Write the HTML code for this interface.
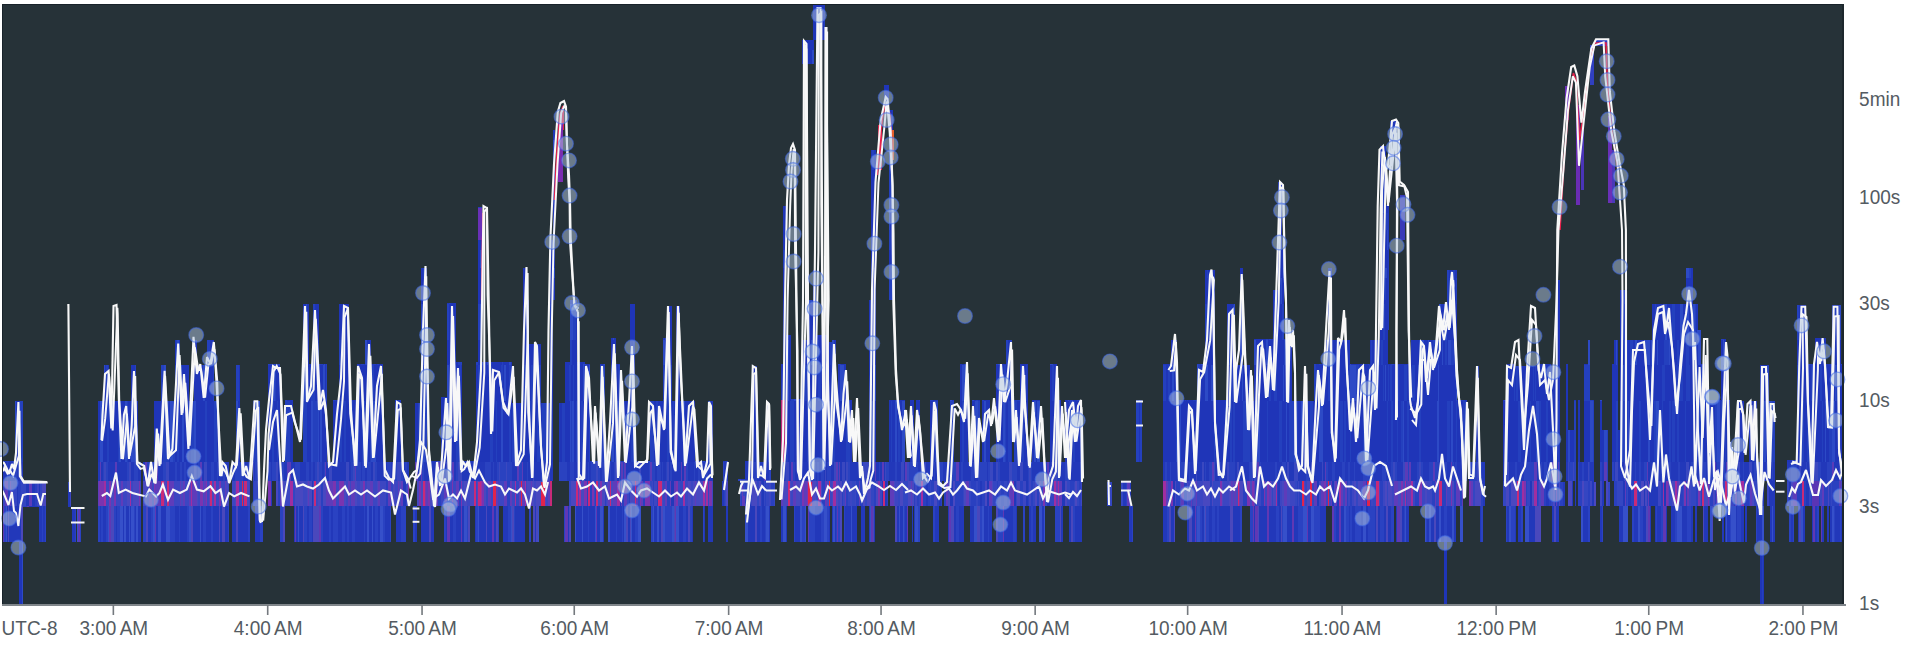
<!DOCTYPE html>
<html><head><meta charset="utf-8"><style>
html,body{margin:0;padding:0;background:#fff;width:1920px;height:648px;overflow:hidden}
svg{display:block}
.lb{font-family:"Liberation Sans",Arial,sans-serif;font-size:19px;fill:#545b62}
</style></head><body>
<svg width="1920" height="648" viewBox="0 0 1920 648">
<rect x="2" y="4" width="1842" height="600" fill="#263238"/>
<g shape-rendering="crispEdges"><path fill="#6038b4" d="M2.0 506.0h2.3v36.0h-2.3zM27.0 506.0h2.3v1.0h-2.3zM78.0 507.0h2.3v35.0h-2.3zM108.6 506.0h2.8v36.0h-2.8zM154.4 506.0h2.3v36.0h-2.3zM1648.0 506.0h2.3v36.0h-2.3zM1663.0 506.0h2.8v36.0h-2.8zM1724.5 506.0h1.3v36.0h-1.3zM1698.0 506.0h2.3v36.0h-2.3zM1721.0 506.0h1.8v36.0h-1.8zM1812.5 506.0h2.8v36.0h-2.8zM1820.0 506.0h1.8v36.0h-1.8zM1840.5 506.0h0.8v36.0h-0.8zM869.5 506.0h3.3v36.0h-3.3zM595.0 506.0h2.8v36.0h-2.8zM273.0 506.0h2.3v36.0h-2.3zM294.5 506.0h1.3v36.0h-1.3zM319.0 506.0h1.8v36.0h-1.8zM418.0 506.0h3.3v36.0h-3.3zM447.0 506.0h2.8v36.0h-2.8zM455.5 506.0h0.8v36.0h-0.8zM461.0 506.0h1.3v36.0h-1.3zM470.0 506.0h3.3v36.0h-3.3zM492.0 506.0h1.8v36.0h-1.8zM565.0 506.0h2.8v36.0h-2.8zM574.0 506.0h3.3v36.0h-3.3zM580.0 506.0h2.3v36.0h-2.3zM596.0 506.0h1.3v36.0h-1.3zM675.0 506.0h1.3v36.0h-1.3zM706.5 506.0h1.3v36.0h-1.3zM806.5 506.0h2.8v36.0h-2.8zM837.0 506.0h1.3v36.0h-1.3zM871.0 506.0h1.8v36.0h-1.8zM888.0 506.0h1.3v36.0h-1.3zM906.5 506.0h1.8v36.0h-1.8zM949.0 506.0h2.3v36.0h-2.3zM1002.5 506.0h1.8v36.0h-1.8zM1178.0 506.0h3.3v36.0h-3.3zM1181.0 506.0h3.3v36.0h-3.3zM1186.0 506.0h1.3v36.0h-1.3zM1194.5 506.0h1.3v36.0h-1.3zM1252.5 506.0h1.8v36.0h-1.8zM1255.0 506.0h2.8v36.0h-2.8zM1267.0 506.0h2.3v36.0h-2.3zM1292.0 506.0h2.3v36.0h-2.3zM1306.5 506.0h1.8v36.0h-1.8zM1332.0 506.0h2.3v36.0h-2.3zM1338.5 506.0h2.3v36.0h-2.3zM1397.0 506.0h2.8v36.0h-2.8z"/><path fill="#2a42c2" d="M4.0 506.0h2.3v36.0h-2.3zM23.0 506.0h2.3v1.0h-2.3zM25.0 506.0h2.3v1.0h-2.3zM38.0 506.0h1.3v1.0h-1.3zM41.5 506.0h1.3v36.0h-1.3zM45.0 506.0h1.3v36.0h-1.3zM74.5 507.0h1.8v35.0h-1.8zM80.0 507.0h1.3v35.0h-1.3zM97.5 506.0h2.3v36.0h-2.3zM101.0 506.0h1.8v36.0h-1.8zM106.0 506.0h2.3v36.0h-2.3zM114.1 506.0h1.8v36.0h-1.8zM117.1 506.0h3.3v36.0h-3.3zM133.7 506.0h1.8v36.0h-1.8zM143.0 506.0h2.3v36.0h-2.3zM145.0 506.0h1.3v36.0h-1.3zM150.5 506.0h2.3v36.0h-2.3zM169.5 506.0h3.3v36.0h-3.3zM172.5 506.0h2.8v36.0h-2.8zM179.0 506.0h1.3v36.0h-1.3zM187.0 506.0h1.8v36.0h-1.8zM202.5 506.0h3.3v36.0h-3.3zM211.0 506.0h2.3v36.0h-2.3zM228.0 506.0h1.3v36.0h-1.3zM247.5 506.0h1.3v36.0h-1.3zM248.5 506.0h1.3v36.0h-1.3zM260.0 506.0h3.3v36.0h-3.3zM1575.5 506.0h0.8v36.0h-0.8zM1588.0 506.0h2.3v36.0h-2.3zM1602.0 506.0h2.3v36.0h-2.3zM1604.0 506.0h2.8v36.0h-2.8zM1607.5 506.0h0.8v36.0h-0.8zM1615.0 506.0h1.8v36.0h-1.8zM1619.5 506.0h0.8v36.0h-0.8zM1631.5 506.0h2.8v36.0h-2.8zM1640.0 506.0h2.3v36.0h-2.3zM1642.0 506.0h1.3v36.0h-1.3zM1656.0 506.0h1.3v36.0h-1.3zM1661.0 506.0h2.3v36.0h-2.3zM1675.0 506.0h2.3v36.0h-2.3zM1687.0 506.0h2.3v36.0h-2.3zM1689.0 506.0h1.8v36.0h-1.8zM1705.0 506.0h2.3v36.0h-2.3zM1716.0 506.0h1.3v36.0h-1.3zM1717.0 506.0h2.3v36.0h-2.3zM1719.0 506.0h1.3v36.0h-1.3zM1720.0 506.0h1.3v36.0h-1.3zM1725.5 506.0h3.3v36.0h-3.3zM1708.5 506.0h1.8v36.0h-1.8zM1712.0 506.0h1.3v36.0h-1.3zM1722.5 506.0h1.8v36.0h-1.8zM1725.5 506.0h0.8v36.0h-0.8zM1729.0 506.0h2.3v36.0h-2.3zM1737.0 506.0h3.3v36.0h-3.3zM1740.0 506.0h1.3v36.0h-1.3zM1755.5 506.0h1.3v36.0h-1.3zM1788.0 506.0h3.3v36.0h-3.3zM1793.0 506.0h1.3v36.0h-1.3zM1806.0 506.0h2.3v36.0h-2.3zM1817.0 506.0h3.3v36.0h-3.3zM1834.0 506.0h1.3v36.0h-1.3zM1839.5 506.0h1.3v36.0h-1.3zM865.5 506.0h1.3v36.0h-1.3zM560.0 506.0h2.3v36.0h-2.3zM564.0 506.0h1.3v36.0h-1.3zM579.5 506.0h1.3v36.0h-1.3zM580.5 506.0h3.3v36.0h-3.3zM585.5 506.0h2.3v36.0h-2.3zM587.5 506.0h1.8v36.0h-1.8zM280.2 506.0h1.3v36.0h-1.3zM281.2 506.0h1.8v36.0h-1.8zM433.8 506.0h0.9v36.0h-0.9zM268.0 506.0h2.3v36.0h-2.3zM304.0 506.0h2.8v36.0h-2.8zM308.5 506.0h0.8v36.0h-0.8zM309.0 506.0h1.3v36.0h-1.3zM310.0 506.0h1.8v36.0h-1.8zM320.5 506.0h2.3v36.0h-2.3zM329.0 506.0h2.3v36.0h-2.3zM333.0 506.0h2.8v36.0h-2.8zM335.5 506.0h2.3v36.0h-2.3zM341.5 506.0h3.3v36.0h-3.3zM346.5 506.0h2.8v36.0h-2.8zM351.5 506.0h3.3v36.0h-3.3zM364.0 506.0h1.3v36.0h-1.3zM375.0 506.0h3.3v36.0h-3.3zM383.0 506.0h1.8v36.0h-1.8zM390.0 506.0h1.3v36.0h-1.3zM401.0 506.0h2.8v36.0h-2.8zM403.5 506.0h2.3v36.0h-2.3zM413.0 506.0h2.8v36.0h-2.8zM416.5 506.0h1.8v36.0h-1.8zM424.0 506.0h3.3v36.0h-3.3zM444.0 506.0h2.3v36.0h-2.3zM452.5 506.0h3.3v36.0h-3.3zM466.5 506.0h1.8v36.0h-1.8zM476.0 506.0h2.3v36.0h-2.3zM498.0 506.0h3.3v36.0h-3.3zM508.0 506.0h2.8v36.0h-2.8zM513.5 506.0h1.3v36.0h-1.3zM529.0 506.0h1.8v36.0h-1.8zM539.5 506.0h1.8v36.0h-1.8zM582.0 506.0h2.3v36.0h-2.3zM584.0 506.0h1.3v36.0h-1.3zM570.0 506.0h1.8v36.0h-1.8zM587.5 506.0h2.2v36.0h-2.2zM591.4 506.0h2.3v36.0h-2.3zM615.3 506.0h2.3v36.0h-2.3zM621.6 506.0h1.8v36.0h-1.8zM634.8 506.0h2.3v36.0h-2.3zM636.8 506.0h1.8v36.0h-1.8zM650.0 506.0h2.8v36.0h-2.8zM664.5 506.0h2.8v36.0h-2.8zM667.0 506.0h2.8v36.0h-2.8zM669.5 506.0h2.3v36.0h-2.3zM682.5 506.0h1.3v36.0h-1.3zM683.5 506.0h2.8v36.0h-2.8zM690.0 506.0h2.3v36.0h-2.3zM699.5 506.0h2.8v36.0h-2.8zM702.0 506.0h1.8v36.0h-1.8zM707.5 506.0h0.8v36.0h-0.8zM760.0 506.0h1.8v36.0h-1.8zM764.5 506.0h1.8v36.0h-1.8zM792.5 506.0h2.8v36.0h-2.8zM802.0 506.0h2.8v36.0h-2.8zM809.0 506.0h3.3v36.0h-3.3zM812.0 506.0h1.6v36.0h-1.6zM813.0 506.0h1.8v36.0h-1.8zM820.5 506.0h2.3v36.0h-2.3zM822.5 506.0h1.3v36.0h-1.3zM827.0 506.0h2.3v36.0h-2.3zM836.0 506.0h1.3v36.0h-1.3zM838.0 506.0h2.3v36.0h-2.3zM843.0 506.0h1.8v36.0h-1.8zM858.0 506.0h1.3v36.0h-1.3zM859.0 506.0h1.3v36.0h-1.3zM876.0 506.0h1.3v36.0h-1.3zM893.5 506.0h1.8v36.0h-1.8zM904.0 506.0h1.3v36.0h-1.3zM902.5 506.0h2.3v36.0h-2.3zM918.0 506.0h1.3v36.0h-1.3zM919.0 506.0h1.3v36.0h-1.3zM932.0 506.0h2.8v36.0h-2.8zM955.5 506.0h3.3v36.0h-3.3zM979.5 506.0h2.3v36.0h-2.3zM987.5 506.0h1.8v36.0h-1.8zM998.0 506.0h2.3v36.0h-2.3zM1000.0 506.0h2.8v36.0h-2.8zM1012.5 506.0h3.3v36.0h-3.3zM1022.0 506.0h3.3v36.0h-3.3zM1025.0 506.0h1.8v36.0h-1.8zM1031.0 506.0h2.3v36.0h-2.3zM1055.0 506.0h2.3v36.0h-2.3zM1057.0 506.0h2.8v36.0h-2.8zM1069.0 506.0h2.3v36.0h-2.3zM1071.0 506.0h2.3v36.0h-2.3zM1073.0 506.0h2.3v36.0h-2.3zM1072.5 506.0h2.3v36.0h-2.3zM1132.0 506.0h1.3v36.0h-1.3zM1167.0 506.0h2.3v36.0h-2.3zM1177.0 506.0h1.3v36.0h-1.3zM1195.5 506.0h1.3v36.0h-1.3zM1200.0 506.0h2.3v36.0h-2.3zM1206.0 506.0h3.3v36.0h-3.3zM1212.0 506.0h3.3v36.0h-3.3zM1217.0 506.0h2.3v36.0h-2.3zM1226.5 506.0h0.8v36.0h-0.8zM1230.0 506.0h3.3v36.0h-3.3zM1240.0 506.0h1.8v36.0h-1.8zM1241.5 506.0h1.8v36.0h-1.8zM1250.0 506.0h2.8v36.0h-2.8zM1275.5 506.0h2.3v36.0h-2.3zM1278.0 506.0h1.3v36.0h-1.3zM1282.0 506.0h1.3v36.0h-1.3zM1298.0 506.0h2.3v36.0h-2.3zM1300.0 506.0h3.3v36.0h-3.3zM1314.0 506.0h2.8v36.0h-2.8zM1316.5 506.0h3.3v36.0h-3.3zM1334.0 506.0h2.3v36.0h-2.3zM1346.0 506.0h2.8v36.0h-2.8zM1350.0 506.0h2.3v36.0h-2.3zM1354.5 506.0h3.3v36.0h-3.3zM1357.5 506.0h3.3v36.0h-3.3zM1368.0 506.0h2.3v36.0h-2.3zM1370.0 506.0h2.3v36.0h-2.3zM1372.0 506.0h2.8v36.0h-2.8zM1380.0 506.0h1.8v36.0h-1.8zM1381.5 506.0h2.8v36.0h-2.8zM1391.0 506.0h2.8v36.0h-2.8zM1393.5 506.0h2.8v36.0h-2.8zM1404.0 506.0h1.3v36.0h-1.3zM1419.0 506.0h3.3v36.0h-3.3zM1425.5 506.0h1.3v36.0h-1.3zM1443.5 506.0h3.3v36.0h-3.3zM1457.0 506.0h1.3v36.0h-1.3zM1458.0 506.0h2.3v36.0h-2.3zM1466.0 506.0h1.3v36.0h-1.3zM1481.0 506.0h1.8v36.0h-1.8zM1505.0 506.0h2.3v36.0h-2.3zM1511.0 506.0h2.8v36.0h-2.8zM1513.5 506.0h1.3v36.0h-1.3zM1521.0 506.0h2.3v36.0h-2.3zM1545.0 506.0h3.3v36.0h-3.3zM1548.0 506.0h3.3v36.0h-3.3z"/><path fill="#3650ca" d="M6.0 506.0h1.3v36.0h-1.3zM77.0 507.0h1.3v35.0h-1.3zM108.0 506.0h0.9v36.0h-0.9zM120.1 506.0h2.8v36.0h-2.8zM124.1 506.0h1.8v36.0h-1.8zM128.6 506.0h1.8v36.0h-1.8zM130.7 506.0h3.3v36.0h-3.3zM135.7 506.0h2.1v36.0h-2.1zM152.5 506.0h2.2v36.0h-2.2zM157.9 506.0h3.3v36.0h-3.3zM166.0 506.0h1.3v36.0h-1.3zM167.0 506.0h2.8v36.0h-2.8zM188.5 506.0h2.3v36.0h-2.3zM199.5 506.0h1.3v36.0h-1.3zM1580.0 506.0h2.8v36.0h-2.8zM1623.0 506.0h3.3v36.0h-3.3zM1626.0 506.0h3.3v36.0h-3.3zM1638.0 506.0h2.3v36.0h-2.3zM1652.0 506.0h2.3v36.0h-2.3zM1677.0 506.0h2.8v36.0h-2.8zM1679.5 506.0h0.8v36.0h-0.8zM1680.0 506.0h2.3v36.0h-2.3zM1708.0 506.0h2.3v36.0h-2.3zM1710.0 506.0h1.8v36.0h-1.8zM1700.0 506.0h1.3v36.0h-1.3zM1704.0 506.0h1.3v36.0h-1.3zM1710.0 506.0h2.3v36.0h-2.3zM1726.0 506.0h1.3v36.0h-1.3zM1731.0 506.0h2.8v36.0h-2.8zM1733.5 506.0h2.3v36.0h-2.3zM1762.0 506.0h2.3v36.0h-2.3zM1764.0 506.0h2.8v36.0h-2.8zM1772.0 506.0h1.3v36.0h-1.3zM1800.5 506.0h2.8v36.0h-2.8zM1808.0 506.0h1.8v36.0h-1.8zM1832.0 506.0h2.3v36.0h-2.3zM860.0 506.0h1.3v36.0h-1.3zM576.5 506.0h3.3v36.0h-3.3zM583.5 506.0h2.3v36.0h-2.3zM426.3 506.0h1.3v36.0h-1.3zM270.0 506.0h3.3v36.0h-3.3zM298.0 506.0h1.3v36.0h-1.3zM356.5 506.0h0.8v36.0h-0.8zM367.0 506.0h2.3v36.0h-2.3zM372.0 506.0h1.3v36.0h-1.3zM379.5 506.0h3.3v36.0h-3.3zM415.5 506.0h1.8v36.0h-1.8zM433.0 506.0h2.3v36.0h-2.3zM463.5 506.0h3.3v36.0h-3.3zM478.0 506.0h1.3v36.0h-1.3zM501.0 506.0h2.3v36.0h-2.3zM510.5 506.0h1.8v36.0h-1.8zM537.5 506.0h2.3v36.0h-2.3zM571.5 506.0h2.8v36.0h-2.8zM574.0 506.0h1.8v36.0h-1.8zM576.5 506.0h3.3v36.0h-3.3zM581.5 506.0h1.8v36.0h-1.8zM589.4 506.0h2.3v36.0h-2.3zM593.4 506.0h2.9v36.0h-2.9zM599.0 506.0h1.3v36.0h-1.3zM600.0 506.0h3.3v36.0h-3.3zM606.5 506.0h2.3v36.0h-2.3zM608.5 506.0h1.8v36.0h-1.8zM624.0 506.0h2.3v36.0h-2.3zM630.4 506.0h2.3v36.0h-2.3zM638.3 506.0h3.0v36.0h-3.0zM652.5 506.0h1.3v36.0h-1.3zM656.5 506.0h2.3v36.0h-2.3zM663.0 506.0h1.8v36.0h-1.8zM671.5 506.0h2.3v36.0h-2.3zM676.0 506.0h2.8v36.0h-2.8zM745.0 506.0h2.8v36.0h-2.8zM766.0 506.0h3.3v36.0h-3.3zM783.0 506.0h2.3v36.0h-2.3zM785.0 506.0h1.3v36.0h-1.3zM800.0 506.0h2.3v36.0h-2.3zM804.5 506.0h2.3v36.0h-2.3zM823.5 506.0h3.3v36.0h-3.3zM833.0 506.0h2.3v36.0h-2.3zM850.5 506.0h1.8v36.0h-1.8zM869.0 506.0h2.3v36.0h-2.3zM877.0 506.0h1.8v36.0h-1.8zM878.5 506.0h1.8v36.0h-1.8zM899.0 506.0h1.3v36.0h-1.3zM902.0 506.0h2.3v36.0h-2.3zM915.0 506.0h3.3v36.0h-3.3zM974.0 506.0h2.8v36.0h-2.8zM981.5 506.0h2.3v36.0h-2.3zM1039.0 506.0h1.8v36.0h-1.8zM1040.5 506.0h1.3v36.0h-1.3zM1043.5 506.0h1.8v36.0h-1.8zM1176.5 506.0h0.8v36.0h-0.8zM1197.0 506.0h3.3v36.0h-3.3zM1204.0 506.0h1.3v36.0h-1.3zM1233.0 506.0h1.3v36.0h-1.3zM1283.0 506.0h1.3v36.0h-1.3zM1284.0 506.0h2.8v36.0h-2.8zM1303.0 506.0h1.8v36.0h-1.8zM1304.5 506.0h2.3v36.0h-2.3zM1311.0 506.0h2.3v36.0h-2.3zM1313.0 506.0h1.3v36.0h-1.3zM1343.5 506.0h2.8v36.0h-2.8zM1363.0 506.0h2.8v36.0h-2.8zM1405.0 506.0h1.3v36.0h-1.3zM1423.0 506.0h2.8v36.0h-2.8zM1429.0 506.0h1.8v36.0h-1.8zM1439.0 506.0h1.8v36.0h-1.8zM1451.5 506.0h2.3v36.0h-2.3zM1460.0 506.0h3.3v36.0h-3.3zM1503.0 506.0h2.3v36.0h-2.3zM1509.0 506.0h2.3v36.0h-2.3zM1523.0 506.0h2.3v36.0h-2.3zM1525.0 506.0h2.3v36.0h-2.3zM1527.0 506.0h2.3v36.0h-2.3zM1542.5 506.0h1.8v36.0h-1.8zM1544.0 506.0h1.3v36.0h-1.3zM1557.0 506.0h2.8v36.0h-2.8z"/><path fill="#2238ba" d="M7.0 506.0h1.3v36.0h-1.3zM9.0 506.0h1.8v36.0h-1.8zM10.5 506.0h2.3v36.0h-2.3zM12.5 506.0h1.8v36.0h-1.8zM14.0 506.0h1.3v36.0h-1.3zM3.0 462.0h3.3v19.0h-3.3zM6.0 462.0h1.3v19.0h-1.3zM8.0 462.0h2.8v19.0h-2.8zM10.5 462.0h3.3v19.0h-3.3zM13.5 462.0h1.8v19.0h-1.8zM15.0 506.0h1.3v36.0h-1.3zM16.0 506.0h2.3v36.0h-2.3zM18.0 506.0h1.3v36.0h-1.3zM17.0 481.0h1.3v25.0h-1.3zM17.0 462.0h2.3v19.0h-2.3zM19.0 506.0h2.3v36.0h-2.3zM19.0 462.0h1.8v19.0h-1.8zM20.5 462.0h2.3v19.0h-2.3zM22.5 462.0h0.8v19.0h-0.8zM29.0 506.0h1.8v1.0h-1.8zM30.5 506.0h1.8v1.0h-1.8zM32.0 506.0h1.8v1.0h-1.8zM33.5 506.0h2.8v1.0h-2.8zM36.0 506.0h2.3v1.0h-2.3zM25.5 481.0h3.3v25.0h-3.3zM31.5 481.0h3.3v25.0h-3.3zM39.0 506.0h2.8v36.0h-2.8zM42.5 506.0h2.8v36.0h-2.8zM39.0 481.0h1.3v25.0h-1.3zM68.0 506.0h2.3v1.0h-2.3zM70.0 506.0h1.3v1.0h-1.3zM68.0 482.0h2.3v24.0h-2.3zM72.0 507.0h2.8v35.0h-2.8zM99.5 506.0h1.8v36.0h-1.8zM102.5 506.0h1.3v36.0h-1.3zM97.5 462.0h2.3v19.0h-2.3zM100.5 462.0h2.3v19.0h-2.3zM103.5 506.0h1.3v36.0h-1.3zM104.5 506.0h1.8v36.0h-1.8zM107.5 462.0h1.4v19.0h-1.4zM115.6 506.0h1.8v36.0h-1.8zM122.6 506.0h1.8v36.0h-1.8zM125.6 506.0h1.8v36.0h-1.8zM127.1 506.0h1.8v36.0h-1.8zM130.1 506.0h0.9v36.0h-0.9zM108.6 462.0h1.8v19.0h-1.8zM110.1 462.0h1.3v19.0h-1.3zM111.1 462.0h2.8v19.0h-2.8zM113.6 462.0h1.3v19.0h-1.3zM117.1 462.0h2.8v19.0h-2.8zM119.6 462.0h3.3v19.0h-3.3zM122.6 462.0h2.8v19.0h-2.8zM125.1 462.0h2.3v19.0h-2.3zM135.2 506.0h0.8v36.0h-0.8zM130.7 462.0h2.3v19.0h-2.3zM132.7 462.0h1.3v19.0h-1.3zM137.5 506.0h2.3v36.0h-2.3zM139.5 506.0h1.8v36.0h-1.8zM137.5 462.0h2.3v19.0h-2.3zM139.5 462.0h1.8v19.0h-1.8zM147.5 506.0h1.8v36.0h-1.8zM149.0 506.0h1.8v36.0h-1.8zM143.0 462.0h2.3v19.0h-2.3zM149.0 462.0h1.8v19.0h-1.8zM153.5 462.0h1.2v19.0h-1.2zM156.4 506.0h1.8v36.0h-1.8zM160.9 506.0h0.4v36.0h-0.4zM154.4 462.0h2.8v19.0h-2.8zM157.9 462.0h2.3v19.0h-2.3zM159.9 462.0h1.4v19.0h-1.4zM161.0 506.0h2.8v36.0h-2.8zM163.5 506.0h1.3v36.0h-1.3zM164.5 506.0h1.8v36.0h-1.8zM161.0 462.0h2.3v19.0h-2.3zM169.0 462.0h2.8v19.0h-2.8zM171.5 462.0h2.8v19.0h-2.8zM174.0 462.0h1.3v19.0h-1.3zM175.0 506.0h1.3v36.0h-1.3zM176.0 506.0h3.3v36.0h-3.3zM177.0 462.0h1.8v19.0h-1.8zM178.5 462.0h1.3v19.0h-1.3zM179.5 462.0h0.8v19.0h-0.8zM180.0 506.0h1.8v36.0h-1.8zM181.5 506.0h1.3v36.0h-1.3zM182.5 506.0h2.8v36.0h-2.8zM185.0 506.0h2.3v36.0h-2.3zM182.0 462.0h2.3v19.0h-2.3zM185.5 462.0h3.3v19.0h-3.3zM192.5 506.0h1.3v36.0h-1.3zM188.5 462.0h2.3v19.0h-2.3zM190.5 462.0h2.8v19.0h-2.8zM193.0 462.0h0.8v19.0h-0.8zM193.5 506.0h3.3v36.0h-3.3zM196.5 506.0h0.8v36.0h-0.8zM197.0 506.0h2.8v36.0h-2.8zM200.5 506.0h2.3v36.0h-2.3zM205.5 506.0h1.8v36.0h-1.8zM197.0 462.0h1.3v19.0h-1.3zM202.0 462.0h2.3v19.0h-2.3zM207.0 506.0h3.3v36.0h-3.3zM210.0 506.0h1.3v36.0h-1.3zM213.0 506.0h1.3v36.0h-1.3zM207.0 462.0h3.3v19.0h-3.3zM210.0 462.0h1.3v19.0h-1.3zM214.0 506.0h1.8v36.0h-1.8zM215.5 506.0h2.3v36.0h-2.3zM217.5 506.0h1.8v36.0h-1.8zM214.0 462.0h2.8v19.0h-2.8zM217.5 462.0h1.8v19.0h-1.8zM220.0 506.0h2.3v36.0h-2.3zM225.0 506.0h3.3v36.0h-3.3zM219.0 462.0h1.8v19.0h-1.8zM220.5 462.0h2.3v19.0h-2.3zM224.5 462.0h2.3v19.0h-2.3zM226.5 462.0h2.3v19.0h-2.3zM232.0 506.0h1.3v36.0h-1.3zM233.0 506.0h2.3v36.0h-2.3zM235.0 506.0h1.3v36.0h-1.3zM232.0 462.0h2.8v19.0h-2.8zM238.0 506.0h2.3v36.0h-2.3zM240.0 506.0h2.3v36.0h-2.3zM242.0 506.0h2.8v36.0h-2.8zM244.5 506.0h1.8v36.0h-1.8zM246.0 506.0h1.8v36.0h-1.8zM243.0 462.0h2.3v19.0h-2.3zM245.0 462.0h2.8v19.0h-2.8zM253.0 506.0h1.8v36.0h-1.8zM254.5 506.0h1.8v36.0h-1.8zM256.0 506.0h1.8v36.0h-1.8zM257.5 506.0h2.8v36.0h-2.8zM258.5 481.0h1.8v25.0h-1.8zM254.0 462.0h1.8v19.0h-1.8zM257.0 462.0h2.8v19.0h-2.8zM259.5 462.0h0.8v19.0h-0.8zM1562.5 482.0h2.8v24.0h-2.8zM1565.0 482.0h1.3v24.0h-1.3zM1566.0 506.0h2.3v36.0h-2.3zM1566.0 462.0h2.3v19.0h-2.3zM1572.0 481.0h2.3v25.0h-2.3zM1574.0 506.0h1.8v36.0h-1.8zM1574.0 481.0h2.3v25.0h-2.3zM1579.5 506.0h0.8v36.0h-0.8zM1579.0 462.0h1.3v19.0h-1.3zM1582.5 506.0h1.8v36.0h-1.8zM1580.0 462.0h1.8v19.0h-1.8zM1584.0 506.0h3.3v36.0h-3.3zM1587.0 506.0h1.3v36.0h-1.3zM1584.0 462.0h1.8v19.0h-1.8zM1585.5 462.0h2.8v19.0h-2.8zM1591.5 481.0h2.8v25.0h-2.8zM1590.0 462.0h1.8v19.0h-1.8zM1591.5 462.0h2.3v19.0h-2.3zM1594.0 506.0h2.8v36.0h-2.8zM1596.5 506.0h1.8v36.0h-1.8zM1600.0 506.0h2.3v36.0h-2.3zM1601.5 462.0h0.8v19.0h-0.8zM1606.5 506.0h1.3v36.0h-1.3zM1602.0 481.0h2.3v25.0h-2.3zM1602.0 462.0h1.8v19.0h-1.8zM1608.0 506.0h3.3v36.0h-3.3zM1611.0 506.0h1.3v36.0h-1.3zM1612.0 506.0h2.3v36.0h-2.3zM1616.5 506.0h1.8v36.0h-1.8zM1614.0 462.0h1.3v19.0h-1.3zM1618.0 506.0h1.8v36.0h-1.8zM1618.0 462.0h2.3v19.0h-2.3zM1620.0 506.0h3.3v36.0h-3.3zM1623.0 481.0h2.3v25.0h-2.3zM1620.0 462.0h1.3v19.0h-1.3zM1621.0 462.0h3.3v19.0h-3.3zM1629.0 506.0h2.8v36.0h-2.8zM1634.0 506.0h1.3v36.0h-1.3zM1635.0 506.0h3.3v36.0h-3.3zM1643.0 506.0h1.8v36.0h-1.8zM1644.5 506.0h1.3v36.0h-1.3zM1650.0 506.0h2.3v36.0h-2.3zM1628.0 481.0h1.3v25.0h-1.3zM1629.0 481.0h1.8v25.0h-1.8zM1644.0 481.0h1.3v25.0h-1.3zM1649.0 481.0h2.3v25.0h-2.3zM1651.0 481.0h1.3v25.0h-1.3zM1627.0 462.0h1.3v19.0h-1.3zM1628.0 462.0h1.3v19.0h-1.3zM1629.0 462.0h3.3v19.0h-3.3zM1632.0 462.0h2.8v19.0h-2.8zM1635.5 462.0h2.3v19.0h-2.3zM1637.5 462.0h1.3v19.0h-1.3zM1640.5 462.0h1.3v19.0h-1.3zM1641.5 462.0h2.3v19.0h-2.3zM1648.0 462.0h2.8v19.0h-2.8zM1650.5 462.0h1.8v19.0h-1.8zM1654.0 506.0h2.3v36.0h-2.3zM1657.0 506.0h1.3v36.0h-1.3zM1658.0 506.0h2.3v36.0h-2.3zM1660.0 506.0h1.3v36.0h-1.3zM1665.5 506.0h2.3v36.0h-2.3zM1667.5 506.0h1.8v36.0h-1.8zM1669.0 506.0h3.3v36.0h-3.3zM1672.0 506.0h3.3v36.0h-3.3zM1652.0 481.0h3.3v25.0h-3.3zM1655.0 481.0h3.3v25.0h-3.3zM1664.0 481.0h2.3v25.0h-2.3zM1652.0 462.0h2.8v19.0h-2.8zM1656.0 462.0h2.8v19.0h-2.8zM1658.5 462.0h2.3v19.0h-2.3zM1662.5 462.0h2.3v19.0h-2.3zM1664.5 462.0h3.3v19.0h-3.3zM1671.0 462.0h2.8v19.0h-2.8zM1673.5 462.0h1.3v19.0h-1.3zM1674.5 462.0h2.3v19.0h-2.3zM1676.5 462.0h1.3v19.0h-1.3zM1679.5 462.0h0.8v19.0h-0.8zM1682.0 506.0h2.3v36.0h-2.3zM1684.0 506.0h2.3v36.0h-2.3zM1680.0 462.0h2.3v19.0h-2.3zM1682.0 462.0h1.8v19.0h-1.8zM1683.5 462.0h2.8v19.0h-2.8zM1686.0 506.0h1.3v36.0h-1.3zM1690.5 506.0h2.8v36.0h-2.8zM1688.5 462.0h2.8v19.0h-2.8zM1696.0 462.0h1.3v19.0h-1.3zM1697.0 462.0h1.3v19.0h-1.3zM1698.0 506.0h2.8v36.0h-2.8zM1700.5 506.0h2.3v36.0h-2.3zM1702.5 506.0h2.8v36.0h-2.8zM1707.0 506.0h1.3v36.0h-1.3zM1698.0 462.0h2.8v19.0h-2.8zM1700.5 462.0h2.3v19.0h-2.3zM1705.5 462.0h2.8v19.0h-2.8zM1714.5 506.0h1.8v36.0h-1.8zM1711.0 481.0h2.3v25.0h-2.3zM1708.0 462.0h1.8v19.0h-1.8zM1709.5 462.0h2.3v19.0h-2.3zM1711.5 462.0h1.3v19.0h-1.3zM1714.5 462.0h1.8v19.0h-1.8zM1716.0 462.0h1.3v19.0h-1.3zM1719.5 462.0h0.8v19.0h-0.8zM1721.0 506.0h1.3v36.0h-1.3zM1722.0 506.0h2.8v36.0h-2.8zM1728.5 506.0h1.8v36.0h-1.8zM1723.0 462.0h2.3v19.0h-2.3zM1725.0 462.0h1.8v19.0h-1.8zM1695.0 506.0h3.3v36.0h-3.3zM1695.0 462.0h3.3v19.0h-3.3zM1698.0 462.0h3.3v19.0h-3.3zM1701.0 506.0h1.3v36.0h-1.3zM1705.0 506.0h1.3v36.0h-1.3zM1701.0 462.0h2.8v19.0h-2.8zM1703.5 462.0h2.3v19.0h-2.3zM1705.5 462.0h0.8v19.0h-0.8zM1706.0 506.0h2.8v36.0h-2.8zM1707.5 481.0h1.3v25.0h-1.3zM1706.0 462.0h1.8v19.0h-1.8zM1713.0 506.0h2.3v36.0h-2.3zM1718.0 506.0h2.3v36.0h-2.3zM1714.0 462.0h1.3v19.0h-1.3zM1716.0 462.0h2.3v19.0h-2.3zM1718.0 462.0h1.3v19.0h-1.3zM1719.0 462.0h2.3v19.0h-2.3zM1724.0 506.0h1.8v36.0h-1.8zM1722.5 462.0h1.3v19.0h-1.3zM1724.5 462.0h1.3v19.0h-1.3zM1725.5 462.0h0.8v19.0h-0.8zM1727.0 506.0h2.3v36.0h-2.3zM1735.5 506.0h1.8v36.0h-1.8zM1730.0 462.0h1.3v19.0h-1.3zM1741.0 506.0h2.3v36.0h-2.3zM1743.0 506.0h1.3v36.0h-1.3zM1737.0 462.0h1.3v19.0h-1.3zM1740.0 462.0h2.8v19.0h-2.8zM1744.0 506.0h2.3v36.0h-2.3zM1746.0 506.0h3.3v36.0h-3.3zM1744.0 462.0h2.8v19.0h-2.8zM1746.5 462.0h2.3v19.0h-2.3zM1748.5 462.0h0.8v19.0h-0.8zM1749.0 506.0h2.3v36.0h-2.3zM1753.0 506.0h1.8v36.0h-1.8zM1754.5 506.0h1.3v36.0h-1.3zM1756.5 506.0h0.8v36.0h-0.8zM1756.5 481.0h0.8v25.0h-0.8zM1752.0 462.0h2.3v19.0h-2.3zM1757.0 506.0h2.8v36.0h-2.8zM1757.0 462.0h2.3v19.0h-2.3zM1760.0 506.0h2.3v36.0h-2.3zM1762.0 481.0h1.3v25.0h-1.3zM1763.0 481.0h1.3v25.0h-1.3zM1761.5 462.0h1.3v19.0h-1.3zM1766.5 506.0h2.3v36.0h-2.3zM1768.5 506.0h0.8v36.0h-0.8zM1764.0 462.0h2.3v19.0h-2.3zM1768.0 462.0h1.3v19.0h-1.3zM1769.0 506.0h1.3v36.0h-1.3zM1770.0 506.0h2.3v36.0h-2.3zM1773.0 506.0h2.3v36.0h-2.3zM1769.0 481.0h3.3v25.0h-3.3zM1772.0 481.0h2.8v25.0h-2.8zM1769.0 462.0h1.8v19.0h-1.8zM1770.5 462.0h1.8v19.0h-1.8zM1773.0 462.0h2.3v19.0h-2.3zM1787.0 506.0h1.3v36.0h-1.3zM1791.0 506.0h2.3v36.0h-2.3zM1794.0 506.0h3.3v36.0h-3.3zM1788.5 481.0h2.3v25.0h-2.3zM1787.0 462.0h1.3v19.0h-1.3zM1788.0 462.0h2.8v19.0h-2.8zM1796.5 462.0h0.8v19.0h-0.8zM1797.0 506.0h2.3v36.0h-2.3zM1803.0 506.0h1.3v36.0h-1.3zM1804.0 506.0h2.3v36.0h-2.3zM1797.0 462.0h1.8v19.0h-1.8zM1800.5 462.0h2.3v19.0h-2.3zM1802.5 462.0h1.8v19.0h-1.8zM1804.0 462.0h1.8v19.0h-1.8zM1805.5 462.0h0.8v19.0h-0.8zM1809.5 506.0h3.3v36.0h-3.3zM1806.0 481.0h2.8v25.0h-2.8zM1814.0 481.0h1.3v25.0h-1.3zM1807.0 462.0h2.8v19.0h-2.8zM1809.5 462.0h1.3v19.0h-1.3zM1811.5 462.0h1.8v19.0h-1.8zM1815.0 506.0h2.3v36.0h-2.3zM1821.5 506.0h2.3v36.0h-2.3zM1823.5 506.0h2.8v36.0h-2.8zM1820.5 462.0h2.8v19.0h-2.8zM1823.0 462.0h2.8v19.0h-2.8zM1826.0 506.0h1.8v36.0h-1.8zM1827.5 506.0h3.3v36.0h-3.3zM1830.5 506.0h1.8v36.0h-1.8zM1826.0 462.0h1.3v19.0h-1.3zM1835.0 506.0h1.3v36.0h-1.3zM1836.0 506.0h1.8v36.0h-1.8zM1837.5 506.0h2.3v36.0h-2.3zM1834.0 462.0h2.3v19.0h-2.3zM1836.0 462.0h2.8v19.0h-2.8zM1840.5 462.0h0.8v19.0h-0.8zM1841.0 506.0h2.8v36.0h-2.8zM1842.0 481.0h1.8v25.0h-1.8zM1033.0 506.0h3.1v36.0h-3.1zM861.0 506.0h2.8v36.0h-2.8zM863.5 506.0h2.3v36.0h-2.3zM868.5 506.0h1.3v36.0h-1.3zM874.0 506.0h1.3v36.0h-1.3zM722.0 481.0h3.3v25.0h-3.3zM552.0 506.0h3.3v36.0h-3.3zM557.5 506.0h2.8v36.0h-2.8zM562.0 506.0h2.3v36.0h-2.3zM589.0 506.0h1.3v36.0h-1.3zM590.0 506.0h2.8v36.0h-2.8zM592.5 506.0h1.8v36.0h-1.8zM594.0 506.0h1.3v36.0h-1.3zM597.5 506.0h2.3v36.0h-2.3zM599.5 506.0h0.8v36.0h-0.8zM420.8 506.0h2.3v36.0h-2.3zM422.8 506.0h2.8v36.0h-2.8zM425.3 506.0h1.3v36.0h-1.3zM427.3 506.0h1.8v36.0h-1.8zM430.8 506.0h3.3v36.0h-3.3zM275.0 506.0h1.3v36.0h-1.3zM276.0 506.0h1.8v36.0h-1.8zM279.5 506.0h0.8v36.0h-0.8zM270.5 481.0h2.3v25.0h-2.3zM270.5 462.0h1.8v19.0h-1.8zM278.0 462.0h2.3v19.0h-2.3zM280.0 462.0h2.3v19.0h-2.3zM283.5 462.0h1.8v19.0h-1.8zM285.0 506.0h1.8v36.0h-1.8zM286.5 506.0h3.3v36.0h-3.3zM289.5 506.0h2.3v36.0h-2.3zM285.0 462.0h1.8v19.0h-1.8zM290.5 462.0h2.8v19.0h-2.8zM293.0 506.0h1.8v36.0h-1.8zM295.5 506.0h2.8v36.0h-2.8zM299.0 506.0h2.8v36.0h-2.8zM301.5 506.0h1.8v36.0h-1.8zM293.0 462.0h2.3v19.0h-2.3zM300.0 462.0h2.8v19.0h-2.8zM306.5 506.0h2.3v36.0h-2.3zM303.0 462.0h2.8v19.0h-2.8zM311.5 506.0h1.8v36.0h-1.8zM311.5 481.0h1.8v25.0h-1.8zM309.0 462.0h1.8v19.0h-1.8zM312.5 462.0h0.8v19.0h-0.8zM313.0 462.0h1.8v19.0h-1.8zM318.5 462.0h0.8v19.0h-0.8zM322.5 506.0h1.3v36.0h-1.3zM323.5 506.0h1.3v36.0h-1.3zM324.5 506.0h2.3v36.0h-2.3zM326.5 506.0h0.8v36.0h-0.8zM321.5 462.0h2.8v19.0h-2.8zM326.0 462.0h1.3v19.0h-1.3zM327.0 506.0h2.3v36.0h-2.3zM331.0 506.0h2.3v36.0h-2.3zM327.0 462.0h1.8v19.0h-1.8zM332.0 462.0h1.3v19.0h-1.3zM337.5 506.0h1.8v36.0h-1.8zM333.0 462.0h3.3v19.0h-3.3zM336.0 462.0h2.8v19.0h-2.8zM339.0 506.0h2.8v36.0h-2.8zM344.5 506.0h2.3v36.0h-2.3zM339.0 462.0h2.3v19.0h-2.3zM341.0 462.0h1.8v19.0h-1.8zM342.5 462.0h3.3v19.0h-3.3zM349.0 506.0h2.8v36.0h-2.8zM354.5 506.0h2.3v36.0h-2.3zM349.0 462.0h2.3v19.0h-2.3zM357.0 506.0h2.3v36.0h-2.3zM359.0 506.0h2.3v36.0h-2.3zM361.0 506.0h1.3v36.0h-1.3zM362.0 506.0h2.3v36.0h-2.3zM361.0 462.0h1.3v19.0h-1.3zM365.0 506.0h2.3v36.0h-2.3zM369.0 506.0h2.3v36.0h-2.3zM365.0 462.0h2.3v19.0h-2.3zM371.0 506.0h1.3v36.0h-1.3zM373.0 506.0h2.3v36.0h-2.3zM378.0 506.0h1.8v36.0h-1.8zM382.5 506.0h0.8v36.0h-0.8zM371.0 462.0h2.3v19.0h-2.3zM376.5 462.0h3.3v19.0h-3.3zM379.5 462.0h2.3v19.0h-2.3zM381.5 462.0h1.8v19.0h-1.8zM384.5 506.0h2.3v36.0h-2.3zM386.5 506.0h2.8v36.0h-2.8zM389.0 506.0h1.3v36.0h-1.3zM383.0 462.0h2.8v19.0h-2.8zM385.5 462.0h1.3v19.0h-1.3zM391.0 462.0h1.3v19.0h-1.3zM395.0 506.0h2.3v36.0h-2.3zM397.0 506.0h2.3v36.0h-2.3zM399.0 506.0h1.8v36.0h-1.8zM400.5 506.0h0.8v36.0h-0.8zM405.5 506.0h1.3v36.0h-1.3zM406.5 506.0h2.8v36.0h-2.8zM402.5 481.0h3.3v25.0h-3.3zM403.0 462.0h1.8v19.0h-1.8zM406.5 462.0h1.3v19.0h-1.3zM407.5 462.0h1.8v19.0h-1.8zM415.0 506.0h1.8v36.0h-1.8zM418.0 462.0h2.8v19.0h-2.8zM421.0 506.0h3.3v36.0h-3.3zM424.0 462.0h1.8v19.0h-1.8zM425.5 462.0h1.8v19.0h-1.8zM427.0 506.0h2.3v36.0h-2.3zM429.0 506.0h2.3v36.0h-2.3zM431.0 506.0h2.3v36.0h-2.3zM433.5 481.0h1.8v25.0h-1.8zM427.0 462.0h2.3v19.0h-2.3zM431.5 462.0h2.8v19.0h-2.8zM434.0 462.0h1.3v19.0h-1.3zM435.0 462.0h2.8v19.0h-2.8zM439.5 462.0h1.8v19.0h-1.8zM441.0 506.0h3.3v36.0h-3.3zM446.0 506.0h1.3v36.0h-1.3zM441.0 462.0h2.3v19.0h-2.3zM444.0 462.0h2.3v19.0h-2.3zM449.5 506.0h3.3v36.0h-3.3zM447.0 462.0h2.8v19.0h-2.8zM453.5 462.0h1.8v19.0h-1.8zM455.0 462.0h1.3v19.0h-1.3zM456.0 506.0h3.3v36.0h-3.3zM459.0 506.0h2.3v36.0h-2.3zM462.0 506.0h1.8v36.0h-1.8zM473.0 506.0h3.3v36.0h-3.3zM462.0 462.0h2.3v19.0h-2.3zM464.0 462.0h2.8v19.0h-2.8zM466.5 462.0h2.3v19.0h-2.3zM470.5 462.0h1.8v19.0h-1.8zM472.0 462.0h2.8v19.0h-2.8zM476.0 462.0h2.3v19.0h-2.3zM479.0 506.0h2.8v36.0h-2.8zM481.5 506.0h0.8v36.0h-0.8zM478.0 462.0h1.8v19.0h-1.8zM479.5 462.0h1.8v19.0h-1.8zM481.0 462.0h1.3v19.0h-1.3zM482.0 506.0h1.8v36.0h-1.8zM483.5 506.0h2.3v36.0h-2.3zM486.5 506.0h1.8v36.0h-1.8zM487.5 481.0h0.8v25.0h-0.8zM482.0 462.0h2.8v19.0h-2.8zM488.0 506.0h1.3v36.0h-1.3zM489.0 506.0h2.3v36.0h-2.3zM491.0 506.0h1.3v36.0h-1.3zM493.5 506.0h2.3v36.0h-2.3zM491.0 462.0h1.8v19.0h-1.8zM494.0 462.0h1.3v19.0h-1.3zM495.0 462.0h2.3v19.0h-2.3zM502.5 462.0h0.8v19.0h-0.8zM503.0 506.0h1.3v36.0h-1.3zM504.0 506.0h2.3v36.0h-2.3zM506.0 506.0h2.3v36.0h-2.3zM514.5 506.0h1.3v36.0h-1.3zM515.5 506.0h2.3v36.0h-2.3zM517.5 506.0h2.3v36.0h-2.3zM519.5 506.0h2.8v36.0h-2.8zM522.0 506.0h1.3v36.0h-1.3zM512.0 462.0h3.3v19.0h-3.3zM515.0 462.0h2.3v19.0h-2.3zM523.0 506.0h2.3v36.0h-2.3zM525.0 506.0h1.3v36.0h-1.3zM523.0 462.0h1.3v19.0h-1.3zM524.0 462.0h2.3v19.0h-2.3zM526.0 462.0h1.3v19.0h-1.3zM528.0 462.0h1.3v19.0h-1.3zM531.5 506.0h1.8v36.0h-1.8zM535.0 506.0h1.3v36.0h-1.3zM529.0 462.0h1.8v19.0h-1.8zM530.5 462.0h2.3v19.0h-2.3zM534.0 462.0h2.8v19.0h-2.8zM536.5 462.0h2.8v19.0h-2.8zM539.0 462.0h2.3v19.0h-2.3zM543.0 462.0h3.3v19.0h-3.3zM546.0 462.0h1.8v19.0h-1.8zM549.5 462.0h0.8v19.0h-0.8zM550.0 462.0h3.3v19.0h-3.3zM564.5 462.0h0.8v19.0h-0.8zM567.5 506.0h1.8v36.0h-1.8zM571.5 506.0h2.8v36.0h-2.8zM577.0 506.0h3.3v36.0h-3.3zM566.5 462.0h2.3v19.0h-2.3zM568.5 462.0h2.8v19.0h-2.8zM573.0 462.0h3.3v19.0h-3.3zM576.0 462.0h2.8v19.0h-2.8zM580.5 462.0h2.3v19.0h-2.3zM582.5 462.0h2.3v19.0h-2.3zM575.5 506.0h1.3v36.0h-1.3zM573.5 462.0h3.3v19.0h-3.3zM579.5 506.0h2.3v36.0h-2.3zM582.5 481.0h0.8v25.0h-0.8zM578.5 462.0h2.3v19.0h-2.3zM580.5 462.0h1.3v19.0h-1.3zM582.5 462.0h0.8v19.0h-0.8zM583.0 506.0h2.3v36.0h-2.3zM585.0 506.0h2.8v36.0h-2.8zM585.0 462.0h3.3v19.0h-3.3zM589.0 462.0h0.7v19.0h-0.7zM589.4 462.0h2.3v19.0h-2.3zM597.0 506.0h2.3v36.0h-2.3zM603.0 506.0h1.8v36.0h-1.8zM600.0 462.0h2.3v19.0h-2.3zM604.5 506.0h2.3v36.0h-2.3zM610.0 506.0h1.3v36.0h-1.3zM607.5 462.0h2.8v19.0h-2.8zM611.0 506.0h2.3v36.0h-2.3zM613.0 506.0h2.6v36.0h-2.6zM611.0 462.0h2.8v19.0h-2.8zM617.3 506.0h1.8v36.0h-1.8zM618.8 506.0h1.1v36.0h-1.1zM616.3 462.0h2.3v19.0h-2.3zM618.3 462.0h1.3v19.0h-1.3zM619.6 506.0h2.3v36.0h-2.3zM623.1 506.0h1.2v36.0h-1.2zM619.6 481.0h1.3v25.0h-1.3zM628.0 506.0h1.3v36.0h-1.3zM629.0 506.0h1.3v36.0h-1.3zM625.5 462.0h1.8v19.0h-1.8zM627.0 462.0h2.3v19.0h-2.3zM629.0 462.0h1.7v19.0h-1.7zM632.4 506.0h2.7v36.0h-2.7zM630.4 462.0h1.8v19.0h-1.8zM631.9 462.0h3.2v19.0h-3.2zM634.8 462.0h2.8v19.0h-2.8zM637.3 462.0h1.8v19.0h-1.8zM641.0 462.0h2.3v19.0h-2.3zM643.0 462.0h2.3v19.0h-2.3zM645.0 462.0h3.3v19.0h-3.3zM648.0 462.0h1.3v19.0h-1.3zM653.5 506.0h1.8v36.0h-1.8zM655.0 506.0h1.8v36.0h-1.8zM658.5 506.0h2.3v36.0h-2.3zM655.0 462.0h1.8v19.0h-1.8zM661.0 462.0h1.3v19.0h-1.3zM663.0 462.0h3.3v19.0h-3.3zM671.0 481.0h0.8v25.0h-0.8zM669.0 462.0h1.3v19.0h-1.3zM671.5 481.0h2.3v25.0h-2.3zM671.5 462.0h2.3v19.0h-2.3zM673.5 462.0h2.8v19.0h-2.8zM678.5 506.0h1.8v36.0h-1.8zM676.0 462.0h1.3v19.0h-1.3zM677.0 462.0h1.3v19.0h-1.3zM678.0 462.0h2.3v19.0h-2.3zM680.0 506.0h2.8v36.0h-2.8zM686.0 506.0h2.3v36.0h-2.3zM692.0 506.0h3.3v36.0h-3.3zM680.0 462.0h1.3v19.0h-1.3zM682.0 462.0h1.8v19.0h-1.8zM687.5 462.0h1.8v19.0h-1.8zM689.0 462.0h1.3v19.0h-1.3zM690.0 462.0h2.3v19.0h-2.3zM692.0 462.0h2.3v19.0h-2.3zM695.0 506.0h2.8v36.0h-2.8zM697.5 506.0h1.3v36.0h-1.3zM698.5 506.0h1.3v36.0h-1.3zM703.5 506.0h3.3v36.0h-3.3zM695.0 462.0h3.3v19.0h-3.3zM700.0 462.0h2.3v19.0h-2.3zM702.0 462.0h3.3v19.0h-3.3zM707.5 462.0h0.8v19.0h-0.8zM708.0 506.0h3.3v36.0h-3.3zM711.0 506.0h1.8v36.0h-1.8zM708.0 462.0h2.8v19.0h-2.8zM710.5 462.0h2.3v19.0h-2.3zM723.0 506.0h2.3v36.0h-2.3zM725.0 506.0h1.3v36.0h-1.3zM726.0 506.0h1.9v36.0h-1.9zM723.0 481.0h1.3v25.0h-1.3zM724.0 462.0h1.8v19.0h-1.8zM725.5 462.0h2.3v19.0h-2.3zM742.0 481.0h1.3v15.0h-1.3zM741.0 479.0h2.3v2.0h-2.3zM743.0 479.0h2.3v2.0h-2.3zM747.5 506.0h3.3v36.0h-3.3zM750.5 506.0h1.8v36.0h-1.8zM750.0 481.0h1.3v25.0h-1.3zM745.0 462.0h3.3v19.0h-3.3zM748.0 462.0h2.3v19.0h-2.3zM752.0 506.0h2.8v36.0h-2.8zM756.5 506.0h0.8v36.0h-0.8zM752.0 462.0h2.3v19.0h-2.3zM756.5 462.0h0.8v19.0h-0.8zM757.0 506.0h1.3v36.0h-1.3zM758.0 506.0h2.3v36.0h-2.3zM761.5 506.0h3.3v36.0h-3.3zM761.5 481.0h2.3v25.0h-2.3zM757.0 462.0h3.3v19.0h-3.3zM760.0 462.0h1.8v19.0h-1.8zM761.5 462.0h2.3v19.0h-2.3zM766.0 462.0h1.8v19.0h-1.8zM767.5 462.0h1.8v19.0h-1.8zM769.0 506.0h2.3v36.0h-2.3zM780.6 506.0h1.8v36.0h-1.8zM782.1 506.0h1.2v36.0h-1.2zM780.6 462.0h2.7v19.0h-2.7zM783.0 462.0h2.3v19.0h-2.3zM786.0 506.0h2.3v36.0h-2.3zM789.0 462.0h2.3v19.0h-2.3zM791.0 506.0h1.8v36.0h-1.8zM795.0 506.0h2.8v36.0h-2.8zM797.5 506.0h1.3v36.0h-1.3zM798.5 506.0h1.8v36.0h-1.8zM794.5 462.0h2.3v19.0h-2.3zM796.5 462.0h2.8v19.0h-2.8zM799.0 462.0h3.3v19.0h-3.3zM802.0 462.0h2.3v19.0h-2.3zM804.0 462.0h2.3v19.0h-2.3zM806.0 462.0h1.3v19.0h-1.3zM807.0 462.0h2.3v19.0h-2.3zM809.0 462.0h2.3v19.0h-2.3zM811.0 462.0h2.6v19.0h-2.6zM814.5 506.0h1.8v36.0h-1.8zM816.0 506.0h1.3v36.0h-1.3zM817.0 506.0h1.8v36.0h-1.8zM818.5 506.0h2.3v36.0h-2.3zM826.5 506.0h0.8v36.0h-0.8zM816.0 462.0h1.3v19.0h-1.3zM819.0 462.0h2.3v19.0h-2.3zM823.5 462.0h1.8v19.0h-1.8zM826.0 462.0h1.3v19.0h-1.3zM829.0 506.0h2.8v36.0h-2.8zM831.5 506.0h0.8v36.0h-0.8zM831.0 462.0h1.3v19.0h-1.3zM832.0 506.0h1.3v36.0h-1.3zM835.0 506.0h1.3v36.0h-1.3zM832.0 462.0h2.3v19.0h-2.3zM844.5 506.0h1.8v36.0h-1.8zM840.0 462.0h2.3v19.0h-2.3zM845.0 462.0h1.3v19.0h-1.3zM846.0 506.0h3.3v36.0h-3.3zM849.0 506.0h1.8v36.0h-1.8zM850.0 462.0h1.3v19.0h-1.3zM851.0 462.0h1.3v19.0h-1.3zM852.0 506.0h1.8v36.0h-1.8zM853.5 506.0h2.3v36.0h-2.3zM855.5 506.0h2.8v36.0h-2.8zM852.0 462.0h2.8v19.0h-2.8zM854.5 462.0h2.3v19.0h-2.3zM856.5 462.0h2.3v19.0h-2.3zM860.0 462.0h2.8v19.0h-2.8zM869.0 462.0h2.3v19.0h-2.3zM872.5 506.0h2.3v36.0h-2.3zM874.5 506.0h1.8v36.0h-1.8zM871.0 462.0h2.3v19.0h-2.3zM873.0 462.0h1.8v19.0h-1.8zM883.0 506.0h1.8v36.0h-1.8zM884.5 506.0h1.8v36.0h-1.8zM886.0 506.0h2.3v36.0h-2.3zM881.5 481.0h1.3v25.0h-1.3zM885.0 481.0h1.8v25.0h-1.8zM876.0 462.0h2.8v19.0h-2.8zM879.5 462.0h2.3v19.0h-2.3zM883.5 462.0h1.3v19.0h-1.3zM889.0 506.0h2.8v36.0h-2.8zM891.5 506.0h2.3v36.0h-2.3zM889.0 462.0h1.3v19.0h-1.3zM890.0 462.0h2.8v19.0h-2.8zM892.5 462.0h2.3v19.0h-2.3zM896.5 506.0h2.8v36.0h-2.8zM896.5 462.0h2.3v19.0h-2.3zM898.5 462.0h1.8v19.0h-1.8zM900.0 506.0h2.3v36.0h-2.3zM900.0 462.0h1.3v19.0h-1.3zM903.5 462.0h1.8v19.0h-1.8zM917.5 462.0h2.8v19.0h-2.8zM926.0 481.0h1.8v25.0h-1.8zM921.0 462.0h1.8v19.0h-1.8zM922.5 462.0h1.3v19.0h-1.3zM923.5 462.0h1.8v19.0h-1.8zM926.0 462.0h1.3v19.0h-1.3zM927.0 462.0h3.3v19.0h-3.3zM930.0 462.0h1.3v19.0h-1.3zM939.0 481.0h2.3v25.0h-2.3zM949.5 481.0h3.3v25.0h-3.3zM979.5 481.0h2.8v25.0h-2.8zM986.5 481.0h2.3v25.0h-2.3zM1013.5 481.0h2.3v25.0h-2.3zM1025.5 481.0h2.8v25.0h-2.8zM931.0 462.0h2.8v19.0h-2.8zM934.5 462.0h2.3v19.0h-2.3zM936.5 462.0h2.3v19.0h-2.3zM942.5 462.0h3.3v19.0h-3.3zM945.5 462.0h2.3v19.0h-2.3zM947.5 462.0h3.3v19.0h-3.3zM959.0 462.0h2.3v19.0h-2.3zM963.0 462.0h3.3v19.0h-3.3zM966.0 462.0h3.3v19.0h-3.3zM969.0 462.0h1.8v19.0h-1.8zM973.5 462.0h1.8v19.0h-1.8zM975.0 462.0h1.3v19.0h-1.3zM976.0 462.0h1.8v19.0h-1.8zM986.5 462.0h1.8v19.0h-1.8zM993.0 462.0h2.3v19.0h-2.3zM995.0 462.0h1.3v19.0h-1.3zM999.5 462.0h1.8v19.0h-1.8zM1001.0 462.0h2.3v19.0h-2.3zM1003.0 462.0h2.8v19.0h-2.8zM1005.5 462.0h1.3v19.0h-1.3zM1006.5 462.0h2.8v19.0h-2.8zM1017.0 462.0h2.8v19.0h-2.8zM1022.5 462.0h3.3v19.0h-3.3zM1025.5 462.0h2.3v19.0h-2.3zM1032.0 462.0h3.3v19.0h-3.3zM1035.0 462.0h1.3v19.0h-1.3zM1036.0 462.0h2.3v19.0h-2.3zM1038.0 462.0h2.3v19.0h-2.3zM1040.0 462.0h2.3v19.0h-2.3zM1042.0 462.0h2.8v19.0h-2.8zM1044.5 462.0h0.8v19.0h-0.8zM1047.0 481.0h2.8v25.0h-2.8zM1062.0 481.0h3.3v25.0h-3.3zM1048.5 462.0h2.3v19.0h-2.3zM1052.5 462.0h1.8v19.0h-1.8zM1059.5 462.0h3.3v19.0h-3.3zM1062.5 462.0h1.3v19.0h-1.3zM1063.5 462.0h1.8v19.0h-1.8zM1067.5 462.0h2.3v19.0h-2.3zM1069.5 462.0h1.3v19.0h-1.3zM1070.5 462.0h2.8v19.0h-2.8zM1073.0 462.0h3.3v19.0h-3.3zM1076.0 462.0h2.3v19.0h-2.3zM1078.0 462.0h2.3v19.0h-2.3zM900.0 506.0h1.8v36.0h-1.8zM901.5 506.0h1.3v36.0h-1.3zM904.5 506.0h2.3v36.0h-2.3zM912.0 506.0h3.3v36.0h-3.3zM930.0 506.0h2.3v36.0h-2.3zM934.5 506.0h2.3v36.0h-2.3zM936.5 506.0h1.3v36.0h-1.3zM937.5 506.0h2.8v36.0h-2.8zM948.0 506.0h1.3v36.0h-1.3zM954.0 506.0h1.8v36.0h-1.8zM958.5 506.0h2.8v36.0h-2.8zM961.0 506.0h2.3v36.0h-2.3zM963.0 506.0h1.3v36.0h-1.3zM970.0 506.0h3.3v36.0h-3.3zM973.0 506.0h1.3v36.0h-1.3zM983.5 506.0h1.8v36.0h-1.8zM985.0 506.0h2.8v36.0h-2.8zM989.0 506.0h2.3v36.0h-2.3zM991.0 506.0h1.3v36.0h-1.3zM1004.0 506.0h1.8v36.0h-1.8zM1005.5 506.0h1.3v36.0h-1.3zM1006.5 506.0h2.3v36.0h-2.3zM1008.5 506.0h1.3v36.0h-1.3zM1009.5 506.0h1.3v36.0h-1.3zM1010.5 506.0h2.3v36.0h-2.3zM1015.5 506.0h3.3v36.0h-3.3zM1018.5 506.0h1.8v36.0h-1.8zM1026.5 506.0h2.8v36.0h-2.8zM1029.0 506.0h2.3v36.0h-2.3zM1041.5 506.0h2.3v36.0h-2.3zM1061.0 506.0h2.3v36.0h-2.3zM1075.0 506.0h1.8v36.0h-1.8zM1076.5 506.0h3.3v36.0h-3.3zM1079.5 506.0h1.8v36.0h-1.8zM1065.0 506.0h2.3v36.0h-2.3zM1067.0 506.0h2.3v36.0h-2.3zM1067.5 481.0h1.8v25.0h-1.8zM1069.0 506.0h2.3v36.0h-2.3zM1074.5 506.0h3.3v36.0h-3.3zM1077.5 506.0h2.3v36.0h-2.3zM1079.5 506.0h2.8v36.0h-2.8zM1122.5 482.0h3.3v24.0h-3.3zM1129.5 482.0h1.8v24.0h-1.8zM1129.0 506.0h3.3v36.0h-3.3zM1163.0 506.0h2.8v36.0h-2.8zM1165.5 506.0h1.8v36.0h-1.8zM1163.0 462.0h2.3v19.0h-2.3zM1167.0 462.0h2.8v19.0h-2.8zM1171.0 506.0h2.8v36.0h-2.8zM1173.0 481.0h2.3v25.0h-2.3zM1171.0 462.0h2.3v19.0h-2.3zM1173.0 462.0h3.3v19.0h-3.3zM1176.0 462.0h1.3v19.0h-1.3zM1177.0 462.0h2.8v19.0h-2.8zM1184.0 506.0h2.3v36.0h-2.3zM1185.5 462.0h1.8v19.0h-1.8zM1187.0 506.0h2.3v36.0h-2.3zM1191.5 506.0h3.3v36.0h-3.3zM1196.5 506.0h0.8v36.0h-0.8zM1187.0 462.0h2.3v19.0h-2.3zM1190.0 462.0h1.3v19.0h-1.3zM1191.0 462.0h2.3v19.0h-2.3zM1193.0 462.0h3.3v19.0h-3.3zM1202.0 506.0h2.3v36.0h-2.3zM1197.0 462.0h2.8v19.0h-2.8zM1199.5 462.0h2.3v19.0h-2.3zM1204.0 462.0h1.3v19.0h-1.3zM1209.0 506.0h2.3v36.0h-2.3zM1211.0 506.0h1.3v36.0h-1.3zM1206.0 462.0h1.3v19.0h-1.3zM1207.0 462.0h2.3v19.0h-2.3zM1215.0 506.0h2.3v36.0h-2.3zM1219.0 506.0h1.8v36.0h-1.8zM1220.5 506.0h2.8v36.0h-2.8zM1223.0 506.0h2.3v36.0h-2.3zM1225.0 506.0h1.8v36.0h-1.8zM1215.0 462.0h2.3v19.0h-2.3zM1217.0 462.0h1.8v19.0h-1.8zM1220.5 462.0h2.3v19.0h-2.3zM1222.5 462.0h2.3v19.0h-2.3zM1224.5 462.0h2.3v19.0h-2.3zM1227.0 506.0h3.3v36.0h-3.3zM1232.5 506.0h2.3v36.0h-2.3zM1234.5 506.0h0.8v36.0h-0.8zM1230.0 462.0h3.3v19.0h-3.3zM1234.0 506.0h2.3v36.0h-2.3zM1236.0 506.0h2.3v36.0h-2.3zM1238.0 506.0h1.8v36.0h-1.8zM1239.5 506.0h0.8v36.0h-0.8zM1234.0 462.0h2.3v19.0h-2.3zM1236.0 462.0h1.3v19.0h-1.3zM1238.5 462.0h1.8v19.0h-1.8zM1240.0 462.0h2.3v19.0h-2.3zM1242.0 462.0h1.3v19.0h-1.3zM1243.0 462.0h2.8v19.0h-2.8zM1245.5 462.0h2.3v19.0h-2.3zM1247.5 462.0h1.3v19.0h-1.3zM1253.0 462.0h1.3v19.0h-1.3zM1254.0 506.0h1.3v36.0h-1.3zM1259.0 506.0h2.3v36.0h-2.3zM1261.0 506.0h2.3v36.0h-2.3zM1263.0 506.0h2.8v36.0h-2.8zM1265.5 506.0h1.8v36.0h-1.8zM1269.0 506.0h2.3v36.0h-2.3zM1271.0 506.0h2.3v36.0h-2.3zM1260.5 462.0h1.3v19.0h-1.3zM1261.5 462.0h3.3v19.0h-3.3zM1264.5 462.0h2.8v19.0h-2.8zM1267.0 462.0h3.3v19.0h-3.3zM1270.0 462.0h1.3v19.0h-1.3zM1271.0 462.0h1.8v19.0h-1.8zM1272.5 462.0h0.8v19.0h-0.8zM1273.0 506.0h2.8v36.0h-2.8zM1277.5 506.0h0.8v36.0h-0.8zM1273.0 462.0h2.3v19.0h-2.3zM1276.5 462.0h1.3v19.0h-1.3zM1279.0 506.0h2.3v36.0h-2.3zM1278.0 481.0h2.3v25.0h-2.3zM1278.0 462.0h1.3v19.0h-1.3zM1279.0 462.0h2.8v19.0h-2.8zM1281.5 462.0h0.8v19.0h-0.8zM1286.5 506.0h1.8v36.0h-1.8zM1288.0 506.0h2.3v36.0h-2.3zM1290.0 506.0h2.3v36.0h-2.3zM1285.5 462.0h1.3v19.0h-1.3zM1289.0 462.0h2.3v19.0h-2.3zM1291.0 462.0h1.3v19.0h-1.3zM1294.0 506.0h1.3v36.0h-1.3zM1295.0 506.0h3.3v36.0h-3.3zM1308.0 506.0h3.3v36.0h-3.3zM1292.0 462.0h2.3v19.0h-2.3zM1297.5 462.0h3.3v19.0h-3.3zM1300.5 462.0h3.3v19.0h-3.3zM1303.5 462.0h2.3v19.0h-2.3zM1308.5 462.0h2.3v19.0h-2.3zM1319.5 506.0h2.3v36.0h-2.3zM1321.5 506.0h2.3v36.0h-2.3zM1323.5 506.0h1.8v36.0h-1.8zM1325.0 506.0h1.3v36.0h-1.3zM1317.0 481.0h1.8v25.0h-1.8zM1314.0 462.0h3.3v19.0h-3.3zM1317.0 462.0h2.3v19.0h-2.3zM1319.0 462.0h2.3v19.0h-2.3zM1321.0 462.0h1.3v19.0h-1.3zM1323.0 462.0h2.3v19.0h-2.3zM1328.0 462.0h3.3v19.0h-3.3zM1331.0 462.0h1.3v19.0h-1.3zM1332.0 481.0h2.3v25.0h-2.3zM1333.5 462.0h0.8v19.0h-0.8zM1336.0 506.0h2.8v36.0h-2.8zM1340.5 506.0h2.3v36.0h-2.3zM1342.5 506.0h1.3v36.0h-1.3zM1348.5 506.0h1.8v36.0h-1.8zM1337.0 481.0h2.3v25.0h-2.3zM1335.0 462.0h3.3v19.0h-3.3zM1338.0 462.0h2.8v19.0h-2.8zM1340.5 462.0h1.8v19.0h-1.8zM1345.0 462.0h3.3v19.0h-3.3zM1352.0 506.0h2.8v36.0h-2.8zM1360.5 506.0h2.8v36.0h-2.8zM1365.5 506.0h2.8v36.0h-2.8zM1350.0 462.0h2.8v19.0h-2.8zM1352.5 462.0h1.8v19.0h-1.8zM1355.0 462.0h1.3v19.0h-1.3zM1356.0 462.0h2.3v19.0h-2.3zM1358.0 462.0h1.3v19.0h-1.3zM1359.0 462.0h2.3v19.0h-2.3zM1361.0 462.0h2.3v19.0h-2.3zM1369.5 462.0h0.8v19.0h-0.8zM1374.5 506.0h1.3v36.0h-1.3zM1377.5 506.0h2.3v36.0h-2.3zM1370.0 462.0h2.3v19.0h-2.3zM1373.5 462.0h3.3v19.0h-3.3zM1376.5 462.0h1.3v19.0h-1.3zM1377.5 462.0h2.8v19.0h-2.8zM1384.0 506.0h2.3v36.0h-2.3zM1380.0 462.0h1.8v19.0h-1.8zM1386.0 462.0h2.3v19.0h-2.3zM1388.0 506.0h3.3v36.0h-3.3zM1396.0 506.0h1.3v36.0h-1.3zM1401.5 506.0h2.8v36.0h-2.8zM1406.0 506.0h2.3v36.0h-2.3zM1408.0 506.0h1.3v36.0h-1.3zM1388.0 462.0h1.8v19.0h-1.8zM1389.5 462.0h1.3v19.0h-1.3zM1396.5 462.0h1.8v19.0h-1.8zM1398.0 462.0h3.3v19.0h-3.3zM1401.0 462.0h1.8v19.0h-1.8zM1411.0 462.0h2.8v19.0h-2.8zM1413.5 462.0h1.3v19.0h-1.3zM1414.5 462.0h1.3v19.0h-1.3zM1415.5 462.0h1.8v19.0h-1.8zM1426.5 506.0h2.8v36.0h-2.8zM1430.5 506.0h1.8v36.0h-1.8zM1432.0 506.0h2.3v36.0h-2.3zM1436.0 506.0h2.8v36.0h-2.8zM1438.5 506.0h0.8v36.0h-0.8zM1423.0 462.0h2.8v19.0h-2.8zM1425.5 462.0h3.3v19.0h-3.3zM1440.5 506.0h1.3v36.0h-1.3zM1441.5 506.0h2.3v36.0h-2.3zM1446.5 506.0h0.8v36.0h-0.8zM1439.0 462.0h2.8v19.0h-2.8zM1441.5 462.0h2.8v19.0h-2.8zM1444.0 462.0h1.3v19.0h-1.3zM1447.0 506.0h1.3v36.0h-1.3zM1448.0 506.0h2.3v36.0h-2.3zM1450.0 506.0h1.8v36.0h-1.8zM1453.5 506.0h2.3v36.0h-2.3zM1455.5 506.0h1.8v36.0h-1.8zM1447.0 462.0h1.8v19.0h-1.8zM1448.5 462.0h2.3v19.0h-2.3zM1453.5 462.0h1.8v19.0h-1.8zM1463.0 506.0h1.8v36.0h-1.8zM1464.5 506.0h1.8v36.0h-1.8zM1457.0 462.0h2.8v19.0h-2.8zM1459.5 462.0h1.8v19.0h-1.8zM1461.0 462.0h2.8v19.0h-2.8zM1463.5 462.0h2.3v19.0h-2.3zM1469.0 462.0h1.3v19.0h-1.3zM1479.0 506.0h2.3v36.0h-2.3zM1482.5 506.0h2.8v36.0h-2.8zM1483.0 481.0h1.8v25.0h-1.8zM1481.5 462.0h2.3v19.0h-2.3zM1483.5 462.0h1.3v19.0h-1.3zM1503.0 462.0h2.3v19.0h-2.3zM1505.0 462.0h2.3v19.0h-2.3zM1507.0 506.0h2.3v36.0h-2.3zM1514.5 506.0h0.8v36.0h-0.8zM1508.5 462.0h2.3v19.0h-2.3zM1510.5 462.0h1.8v19.0h-1.8zM1512.0 462.0h3.3v19.0h-3.3zM1515.0 506.0h3.3v36.0h-3.3zM1518.0 506.0h2.3v36.0h-2.3zM1520.0 506.0h1.3v36.0h-1.3zM1516.5 462.0h3.3v19.0h-3.3zM1519.5 462.0h2.8v19.0h-2.8zM1522.0 462.0h2.3v19.0h-2.3zM1529.0 506.0h3.3v36.0h-3.3zM1532.0 506.0h2.3v36.0h-2.3zM1534.0 506.0h1.3v36.0h-1.3zM1529.5 481.0h2.3v25.0h-2.3zM1536.5 462.0h2.3v19.0h-2.3zM1546.0 481.0h2.8v25.0h-2.8zM1539.0 462.0h1.8v19.0h-1.8zM1541.5 462.0h2.8v19.0h-2.8zM1546.5 462.0h2.3v19.0h-2.3zM1550.5 462.0h0.8v19.0h-0.8zM1551.0 506.0h3.3v36.0h-3.3zM1556.0 506.0h1.3v36.0h-1.3zM1555.0 481.0h2.3v25.0h-2.3zM1553.5 462.0h2.3v19.0h-2.3zM1557.0 462.0h2.3v19.0h-2.3zM1556.0 506.0h3.3v36.0h-3.3zM1559.0 506.0h1.3v36.0h-1.3zM1557.0 462.0h1.3v19.0h-1.3zM1381 205h8v125h-8zM1381 146h5v59h-5z"/><path fill="#4a48bc" d="M8.0 506.0h1.3v36.0h-1.3zM21.0 506.0h2.3v36.0h-2.3zM111.1 506.0h3.3v36.0h-3.3zM146.0 506.0h1.8v36.0h-1.8zM190.5 506.0h2.3v36.0h-2.3zM219.0 506.0h1.3v36.0h-1.3zM222.0 506.0h3.3v36.0h-3.3zM236.0 506.0h2.3v36.0h-2.3zM1578.0 506.0h1.8v36.0h-1.8zM1614.0 506.0h1.3v36.0h-1.3zM1645.5 506.0h2.8v36.0h-2.8zM1711.5 506.0h3.3v36.0h-3.3zM1702.0 506.0h2.3v36.0h-2.3zM1715.0 506.0h3.3v36.0h-3.3zM1720.0 506.0h1.3v36.0h-1.3zM1751.0 506.0h2.3v36.0h-2.3zM1759.5 506.0h0.8v36.0h-0.8zM1799.0 506.0h1.8v36.0h-1.8zM866.5 506.0h2.3v36.0h-2.3zM872.5 506.0h1.8v36.0h-1.8zM555.0 506.0h2.8v36.0h-2.8zM282.7 506.0h3.0v36.0h-3.0zM428.8 506.0h2.3v36.0h-2.3zM277.5 506.0h2.3v36.0h-2.3zM291.5 506.0h1.8v36.0h-1.8zM303.0 506.0h1.3v36.0h-1.3zM313.0 506.0h3.3v36.0h-3.3zM316.0 506.0h3.3v36.0h-3.3zM468.0 506.0h2.3v36.0h-2.3zM485.5 506.0h1.3v36.0h-1.3zM495.5 506.0h2.8v36.0h-2.8zM512.0 506.0h1.8v36.0h-1.8zM530.5 506.0h1.3v36.0h-1.3zM533.0 506.0h2.3v36.0h-2.3zM536.0 506.0h1.8v36.0h-1.8zM569.0 506.0h2.8v36.0h-2.8zM626.0 506.0h2.3v36.0h-2.3zM630.0 506.0h0.7v36.0h-0.7zM660.5 506.0h2.8v36.0h-2.8zM673.5 506.0h1.8v36.0h-1.8zM688.0 506.0h2.3v36.0h-2.3zM754.5 506.0h2.3v36.0h-2.3zM788.0 506.0h1.8v36.0h-1.8zM789.5 506.0h1.8v36.0h-1.8zM840.0 506.0h3.3v36.0h-3.3zM880.0 506.0h3.3v36.0h-3.3zM895.0 506.0h1.8v36.0h-1.8zM951.0 506.0h3.3v36.0h-3.3zM976.5 506.0h3.3v36.0h-3.3zM996.0 506.0h2.3v36.0h-2.3zM1059.5 506.0h1.8v36.0h-1.8zM1071.0 506.0h1.8v36.0h-1.8zM1169.0 506.0h2.3v36.0h-2.3zM1173.5 506.0h3.3v36.0h-3.3zM1189.0 506.0h2.8v36.0h-2.8zM1205.0 506.0h1.3v36.0h-1.3zM1230.0 506.0h2.8v36.0h-2.8zM1257.5 506.0h1.8v36.0h-1.8zM1281.0 506.0h1.3v36.0h-1.3zM1375.5 506.0h2.3v36.0h-2.3zM1379.5 506.0h0.8v36.0h-0.8zM1386.0 506.0h2.3v36.0h-2.3zM1399.5 506.0h2.3v36.0h-2.3zM1422.0 506.0h1.3v36.0h-1.3zM1434.0 506.0h2.3v36.0h-2.3zM1535.0 506.0h2.8v36.0h-2.8zM1537.5 506.0h1.8v36.0h-1.8zM1539.0 506.0h1.8v36.0h-1.8zM1540.5 506.0h2.3v36.0h-2.3zM1554.0 506.0h1.3v36.0h-1.3zM1555.0 506.0h1.3v36.0h-1.3z"/><path fill="#3c46c2" d="M2.0 481.0h2.8v25.0h-2.8zM11.0 481.0h2.3v25.0h-2.3zM36.5 481.0h2.3v25.0h-2.3zM70.0 482.0h1.3v24.0h-1.3zM105.5 481.0h3.3v25.0h-3.3zM116.1 481.0h2.8v25.0h-2.8zM118.6 481.0h2.8v25.0h-2.8zM122.6 481.0h1.8v25.0h-1.8zM124.1 481.0h3.3v25.0h-3.3zM130.7 481.0h2.3v25.0h-2.3zM139.5 481.0h1.8v25.0h-1.8zM147.0 481.0h2.3v25.0h-2.3zM151.5 481.0h2.3v25.0h-2.3zM154.4 481.0h1.3v25.0h-1.3zM159.4 481.0h1.8v25.0h-1.8zM166.0 481.0h1.3v25.0h-1.3zM174.0 481.0h1.3v25.0h-1.3zM175.0 481.0h3.3v25.0h-3.3zM178.0 481.0h2.3v25.0h-2.3zM185.0 481.0h3.3v25.0h-3.3zM188.0 481.0h0.8v25.0h-0.8zM198.0 481.0h2.3v25.0h-2.3zM207.0 481.0h2.3v25.0h-2.3zM213.5 481.0h0.8v25.0h-0.8zM215.5 481.0h3.3v25.0h-3.3zM218.5 481.0h0.8v25.0h-0.8zM221.0 481.0h2.3v25.0h-2.3zM223.0 481.0h2.3v25.0h-2.3zM228.0 481.0h1.3v25.0h-1.3zM232.0 481.0h3.3v25.0h-3.3zM238.5 481.0h1.3v25.0h-1.3zM240.0 481.0h2.3v25.0h-2.3zM243.0 481.0h1.3v25.0h-1.3zM248.5 481.0h1.3v25.0h-1.3zM1566.0 481.0h2.3v25.0h-2.3zM1590.0 481.0h1.8v25.0h-1.8zM1600.0 481.0h1.8v25.0h-1.8zM1611.0 482.0h1.3v24.0h-1.3zM1636.5 481.0h1.8v25.0h-1.8zM1658.0 481.0h3.3v25.0h-3.3zM1689.0 481.0h2.3v25.0h-2.3zM1696.0 481.0h2.3v25.0h-2.3zM1715.0 481.0h1.8v25.0h-1.8zM1721.5 481.0h3.3v25.0h-3.3zM1722.0 481.0h3.3v25.0h-3.3zM1730.5 481.0h3.3v25.0h-3.3zM1738.0 481.0h3.3v25.0h-3.3zM1767.0 481.0h2.3v25.0h-2.3zM1820.0 481.0h2.3v25.0h-2.3zM711.3 481.0h2.0v25.0h-2.0zM421.5 481.0h1.3v25.0h-1.3zM429.0 481.0h1.3v25.0h-1.3zM285.0 481.0h2.8v25.0h-2.8zM287.5 481.0h2.3v25.0h-2.3zM303.0 481.0h2.3v25.0h-2.3zM305.0 481.0h1.8v25.0h-1.8zM313.0 481.0h1.3v25.0h-1.3zM316.0 481.0h1.8v25.0h-1.8zM335.5 481.0h3.3v25.0h-3.3zM346.0 481.0h1.8v25.0h-1.8zM350.0 481.0h1.3v25.0h-1.3zM357.0 481.0h3.3v25.0h-3.3zM365.0 481.0h1.8v25.0h-1.8zM372.5 481.0h3.3v25.0h-3.3zM375.5 481.0h1.3v25.0h-1.3zM379.5 481.0h2.3v25.0h-2.3zM381.5 481.0h1.8v25.0h-1.8zM383.0 481.0h1.3v25.0h-1.3zM384.0 481.0h2.3v25.0h-2.3zM395.0 481.0h2.8v25.0h-2.8zM406.5 481.0h1.3v25.0h-1.3zM427.0 481.0h1.3v25.0h-1.3zM432.0 481.0h1.8v25.0h-1.8zM441.0 481.0h3.3v25.0h-3.3zM450.0 481.0h2.3v25.0h-2.3zM453.0 481.0h1.8v25.0h-1.8zM454.5 481.0h1.3v25.0h-1.3zM462.0 481.0h2.3v25.0h-2.3zM467.0 481.0h3.3v25.0h-3.3zM476.0 481.0h1.3v25.0h-1.3zM490.5 481.0h2.3v25.0h-2.3zM497.5 481.0h1.8v25.0h-1.8zM499.0 481.0h2.3v25.0h-2.3zM501.0 481.0h1.8v25.0h-1.8zM503.0 481.0h1.3v25.0h-1.3zM512.0 481.0h2.8v25.0h-2.8zM526.0 481.0h1.3v25.0h-1.3zM533.5 481.0h2.3v25.0h-2.3zM541.0 481.0h3.3v25.0h-3.3zM546.0 481.0h2.3v25.0h-2.3zM570.0 481.0h3.3v25.0h-3.3zM577.5 481.0h2.3v25.0h-2.3zM593.4 481.0h1.8v25.0h-1.8zM605.5 481.0h1.3v25.0h-1.3zM626.5 481.0h2.3v25.0h-2.3zM651.5 481.0h1.3v25.0h-1.3zM653.5 481.0h3.3v25.0h-3.3zM663.0 481.0h2.3v25.0h-2.3zM678.0 481.0h2.3v25.0h-2.3zM684.5 481.0h3.3v25.0h-3.3zM691.0 481.0h2.3v25.0h-2.3zM695.0 481.0h3.3v25.0h-3.3zM698.0 481.0h2.3v25.0h-2.3zM704.5 481.0h1.8v25.0h-1.8zM708.0 481.0h2.3v25.0h-2.3zM710.0 481.0h1.8v25.0h-1.8zM711.5 481.0h1.3v25.0h-1.3zM738.0 481.0h2.3v15.0h-2.3zM751.0 481.0h1.3v25.0h-1.3zM769.0 481.0h2.3v25.0h-2.3zM791.0 481.0h2.3v25.0h-2.3zM800.0 481.0h2.3v25.0h-2.3zM816.0 481.0h1.8v25.0h-1.8zM830.0 481.0h2.3v25.0h-2.3zM837.5 481.0h0.8v25.0h-0.8zM838.0 481.0h2.3v25.0h-2.3zM843.0 481.0h2.3v25.0h-2.3zM849.5 481.0h1.8v25.0h-1.8zM851.0 481.0h1.3v25.0h-1.3zM855.0 481.0h1.3v25.0h-1.3zM870.5 481.0h0.8v25.0h-0.8zM879.5 481.0h2.3v25.0h-2.3zM895.0 481.0h3.3v25.0h-3.3zM915.0 481.0h2.3v25.0h-2.3zM1022.5 481.0h3.3v25.0h-3.3zM1029.0 481.0h2.3v25.0h-2.3zM1077.0 482.0h3.3v24.0h-3.3zM1080.0 482.0h1.8v24.0h-1.8zM1168.0 481.0h3.3v25.0h-3.3zM1180.5 481.0h0.8v25.0h-0.8zM1188.0 481.0h2.8v25.0h-2.8zM1191.5 481.0h1.8v25.0h-1.8zM1197.0 481.0h1.8v25.0h-1.8zM1198.5 481.0h2.3v25.0h-2.3zM1200.5 481.0h2.3v25.0h-2.3zM1223.0 481.0h3.3v25.0h-3.3zM1226.0 481.0h1.3v25.0h-1.3zM1227.0 481.0h2.3v25.0h-2.3zM1233.0 481.0h1.8v25.0h-1.8zM1231.0 481.0h1.8v25.0h-1.8zM1256.5 481.0h1.8v25.0h-1.8zM1258.0 481.0h3.3v25.0h-3.3zM1264.5 481.0h2.8v25.0h-2.8zM1280.0 481.0h2.3v25.0h-2.3zM1290.0 481.0h2.3v25.0h-2.3zM1292.0 481.0h2.8v25.0h-2.8zM1298.0 481.0h1.3v25.0h-1.3zM1318.5 481.0h2.3v25.0h-2.3zM1326.0 481.0h2.3v25.0h-2.3zM1329.0 481.0h2.3v25.0h-2.3zM1343.0 481.0h1.8v25.0h-1.8zM1348.0 481.0h1.8v25.0h-1.8zM1352.0 481.0h1.8v25.0h-1.8zM1371.0 481.0h1.8v25.0h-1.8zM1383.0 481.0h1.8v25.0h-1.8zM1392.0 481.0h2.3v25.0h-2.3zM1406.0 481.0h1.3v25.0h-1.3zM1412.5 481.0h2.8v25.0h-2.8zM1422.0 481.0h1.3v25.0h-1.3zM1423.0 481.0h1.8v25.0h-1.8zM1427.0 481.0h2.8v25.0h-2.8zM1429.5 481.0h2.3v25.0h-2.3zM1438.0 481.0h1.3v25.0h-1.3zM1447.0 481.0h1.8v25.0h-1.8zM1448.5 481.0h2.3v25.0h-2.3zM1466.5 481.0h0.8v25.0h-0.8zM1521.0 481.0h1.3v25.0h-1.3z"/><path fill="#5e3cba" d="M4.5 481.0h3.3v25.0h-3.3zM10.0 481.0h1.3v25.0h-1.3zM28.5 481.0h3.3v25.0h-3.3zM97.5 481.0h1.8v25.0h-1.8zM121.1 481.0h1.8v25.0h-1.8zM149.0 481.0h2.8v25.0h-2.8zM155.4 481.0h2.8v25.0h-2.8zM157.9 481.0h1.8v25.0h-1.8zM163.5 481.0h1.8v25.0h-1.8zM169.0 481.0h2.3v25.0h-2.3zM171.0 481.0h3.3v25.0h-3.3zM180.0 481.0h1.3v25.0h-1.3zM183.0 481.0h2.3v25.0h-2.3zM188.5 481.0h2.8v25.0h-2.8zM192.0 481.0h1.8v25.0h-1.8zM193.5 481.0h2.3v25.0h-2.3zM195.5 481.0h1.8v25.0h-1.8zM204.0 481.0h2.3v25.0h-2.3zM209.0 481.0h1.3v25.0h-1.3zM225.0 481.0h1.3v25.0h-1.3zM239.5 481.0h0.8v25.0h-0.8zM1625.0 481.0h1.3v25.0h-1.3zM1648.0 481.0h1.3v25.0h-1.3zM1668.0 481.0h1.3v25.0h-1.3zM1677.0 481.0h2.3v25.0h-2.3zM1687.0 481.0h2.3v25.0h-2.3zM1698.0 481.0h2.8v25.0h-2.8zM1709.0 481.0h1.3v25.0h-1.3zM1706.0 481.0h1.8v25.0h-1.8zM1715.5 481.0h2.8v25.0h-2.8zM1735.0 481.0h2.3v25.0h-2.3zM1743.5 481.0h0.8v25.0h-0.8zM1750.0 481.0h2.3v25.0h-2.3zM1793.0 481.0h2.3v25.0h-2.3zM1795.0 481.0h2.3v25.0h-2.3zM1813.0 481.0h1.3v25.0h-1.3zM1822.0 481.0h1.8v25.0h-1.8zM1838.5 481.0h2.8v25.0h-2.8zM694.3 481.0h2.3v25.0h-2.3zM703.3 481.0h1.3v25.0h-1.3zM742.1 481.0h1.8v25.0h-1.8zM743.6 481.0h1.7v25.0h-1.7zM418.5 481.0h3.3v25.0h-3.3zM426.0 481.0h2.3v25.0h-2.3zM280.0 481.0h2.8v25.0h-2.8zM292.5 481.0h0.8v25.0h-0.8zM307.5 481.0h1.8v25.0h-1.8zM325.5 481.0h1.3v25.0h-1.3zM326.5 481.0h0.8v25.0h-0.8zM327.0 481.0h2.3v25.0h-2.3zM329.0 481.0h3.3v25.0h-3.3zM332.0 481.0h1.3v25.0h-1.3zM338.5 481.0h0.8v25.0h-0.8zM347.5 481.0h1.8v25.0h-1.8zM349.0 481.0h1.3v25.0h-1.3zM351.0 481.0h2.3v25.0h-2.3zM353.0 481.0h1.3v25.0h-1.3zM354.0 481.0h1.3v25.0h-1.3zM369.5 481.0h1.8v25.0h-1.8zM371.0 481.0h1.8v25.0h-1.8zM377.5 481.0h2.3v25.0h-2.3zM387.5 481.0h1.3v25.0h-1.3zM388.5 481.0h2.8v25.0h-2.8zM397.5 481.0h1.8v25.0h-1.8zM401.0 481.0h1.8v25.0h-1.8zM416.0 481.0h2.3v25.0h-2.3zM418.0 481.0h1.3v25.0h-1.3zM425.5 481.0h1.8v25.0h-1.8zM435.0 481.0h2.8v25.0h-2.8zM440.5 481.0h0.8v25.0h-0.8zM444.0 481.0h2.3v25.0h-2.3zM446.0 481.0h1.3v25.0h-1.3zM456.0 481.0h3.3v25.0h-3.3zM478.0 481.0h2.3v25.0h-2.3zM488.0 481.0h2.8v25.0h-2.8zM495.5 481.0h2.3v25.0h-2.3zM504.0 481.0h3.3v25.0h-3.3zM509.5 481.0h2.8v25.0h-2.8zM518.5 481.0h1.3v25.0h-1.3zM519.5 481.0h1.3v25.0h-1.3zM521.5 481.0h1.8v25.0h-1.8zM523.0 481.0h2.3v25.0h-2.3zM531.0 481.0h1.3v25.0h-1.3zM544.0 481.0h2.3v25.0h-2.3zM548.0 481.0h2.3v25.0h-2.3zM565.0 481.0h1.3v25.0h-1.3zM577.5 481.0h1.8v25.0h-1.8zM580.5 481.0h3.3v25.0h-3.3zM607.5 481.0h2.3v25.0h-2.3zM612.5 481.0h3.1v25.0h-3.1zM615.3 481.0h1.8v25.0h-1.8zM620.6 481.0h1.8v25.0h-1.8zM624.0 481.0h2.8v25.0h-2.8zM635.8 481.0h2.3v25.0h-2.3zM641.0 481.0h2.3v25.0h-2.3zM649.5 481.0h0.8v25.0h-0.8zM665.0 481.0h2.3v25.0h-2.3zM669.5 481.0h1.8v25.0h-1.8zM673.5 481.0h2.8v25.0h-2.8zM700.0 481.0h2.8v25.0h-2.8zM744.5 481.0h0.8v15.0h-0.8zM780.6 481.0h2.7v25.0h-2.7zM793.0 481.0h2.8v25.0h-2.8zM804.0 481.0h2.8v25.0h-2.8zM810.5 481.0h2.3v25.0h-2.3zM812.5 481.0h1.1v25.0h-1.1zM824.5 481.0h2.8v25.0h-2.8zM845.0 481.0h1.3v25.0h-1.3zM859.0 481.0h1.3v25.0h-1.3zM889.0 481.0h2.3v25.0h-2.3zM891.0 481.0h2.8v25.0h-2.8zM911.0 481.0h1.3v25.0h-1.3zM945.5 481.0h2.3v25.0h-2.3zM966.0 481.0h3.3v25.0h-3.3zM988.5 481.0h3.3v25.0h-3.3zM1008.5 481.0h2.3v25.0h-2.3zM1010.5 481.0h2.3v25.0h-2.3zM1055.5 481.0h2.3v25.0h-2.3zM1059.0 481.0h3.3v25.0h-3.3zM1126.5 482.0h3.3v24.0h-3.3zM1165.5 481.0h2.8v25.0h-2.8zM1181.0 481.0h3.3v25.0h-3.3zM1190.5 481.0h1.3v25.0h-1.3zM1196.0 481.0h1.3v25.0h-1.3zM1231.0 481.0h2.3v25.0h-2.3zM1234.0 481.0h2.3v25.0h-2.3zM1254.0 481.0h1.3v25.0h-1.3zM1269.0 481.0h2.3v25.0h-2.3zM1277.5 481.0h0.8v25.0h-0.8zM1284.0 481.0h2.8v25.0h-2.8zM1304.0 481.0h1.3v25.0h-1.3zM1314.0 481.0h3.3v25.0h-3.3zM1320.5 481.0h2.8v25.0h-2.8zM1323.0 481.0h1.3v25.0h-1.3zM1331.0 481.0h1.3v25.0h-1.3zM1335.0 481.0h2.3v25.0h-2.3zM1341.0 481.0h2.3v25.0h-2.3zM1344.5 481.0h2.3v25.0h-2.3zM1362.5 481.0h3.3v25.0h-3.3zM1394.0 481.0h2.3v25.0h-2.3zM1396.0 481.0h2.3v25.0h-2.3zM1407.0 481.0h1.8v25.0h-1.8zM1408.5 481.0h0.8v25.0h-0.8zM1409.0 481.0h2.3v25.0h-2.3zM1434.5 481.0h1.3v25.0h-1.3zM1446.0 481.0h1.3v25.0h-1.3zM1456.0 481.0h1.3v25.0h-1.3zM1457.0 481.0h3.3v25.0h-3.3zM1462.0 481.0h2.8v25.0h-2.8zM1470.5 481.0h2.8v25.0h-2.8zM1540.5 481.0h3.3v25.0h-3.3zM1556.0 481.0h2.3v25.0h-2.3z"/><path fill="#2a40c0" d="M7.5 481.0h2.8v25.0h-2.8zM18.0 481.0h1.3v25.0h-1.3zM19.0 481.0h2.3v25.0h-2.3zM34.5 481.0h2.3v25.0h-2.3zM253.0 481.0h1.3v25.0h-1.3zM257.5 481.0h1.3v25.0h-1.3zM1560.0 482.0h1.8v24.0h-1.8zM1561.5 482.0h1.3v24.0h-1.3zM1578.0 481.0h1.8v25.0h-1.8zM1580.0 481.0h1.8v25.0h-1.8zM1588.0 481.0h2.3v25.0h-2.3zM1596.5 482.0h1.8v24.0h-1.8zM1612.0 481.0h1.3v25.0h-1.3zM1614.0 481.0h3.3v25.0h-3.3zM1626.0 481.0h1.3v25.0h-1.3zM1630.5 481.0h3.3v25.0h-3.3zM1638.0 481.0h3.3v25.0h-3.3zM1647.0 481.0h1.3v25.0h-1.3zM1661.0 481.0h2.3v25.0h-2.3zM1680.0 481.0h3.3v25.0h-3.3zM1686.0 481.0h1.3v25.0h-1.3zM1700.5 481.0h1.8v25.0h-1.8zM1710.0 481.0h1.3v25.0h-1.3zM1716.5 481.0h3.3v25.0h-3.3zM1729.0 481.0h1.3v25.0h-1.3zM1695.0 481.0h3.3v25.0h-3.3zM1701.0 481.0h3.3v25.0h-3.3zM1710.0 481.0h2.3v25.0h-2.3zM1712.0 481.0h1.8v25.0h-1.8zM1713.5 481.0h2.3v25.0h-2.3zM1720.5 481.0h0.8v25.0h-0.8zM1721.0 481.0h1.3v25.0h-1.3zM1726.0 481.0h2.8v25.0h-2.8zM1728.5 481.0h2.3v25.0h-2.3zM1733.5 481.0h1.8v25.0h-1.8zM1737.0 481.0h1.3v25.0h-1.3zM1744.0 481.0h2.8v25.0h-2.8zM1746.5 481.0h2.3v25.0h-2.3zM1757.0 481.0h2.8v25.0h-2.8zM1764.0 481.0h3.3v25.0h-3.3zM1797.0 481.0h1.8v25.0h-1.8zM1798.5 481.0h1.8v25.0h-1.8zM1800.0 481.0h2.3v25.0h-2.3zM1804.0 481.0h2.3v25.0h-2.3zM1810.5 481.0h2.8v25.0h-2.8zM1815.0 481.0h2.3v25.0h-2.3zM1817.0 481.0h3.3v25.0h-3.3zM1823.5 481.0h2.8v25.0h-2.8zM1826.0 481.0h1.8v25.0h-1.8zM1829.0 481.0h2.3v25.0h-2.3zM1832.0 481.0h1.8v25.0h-1.8zM1833.5 481.0h2.3v25.0h-2.3zM1835.5 481.0h1.3v25.0h-1.3zM1836.5 481.0h2.3v25.0h-2.3zM741.1 481.0h1.3v25.0h-1.3zM771.0 481.0h3.3v25.0h-3.3zM428.0 481.0h1.3v25.0h-1.3zM278.0 481.0h2.3v25.0h-2.3zM320.5 481.0h2.3v25.0h-2.3zM386.0 481.0h1.8v25.0h-1.8zM423.0 481.0h2.8v25.0h-2.8zM437.5 481.0h3.3v25.0h-3.3zM447.0 481.0h3.3v25.0h-3.3zM459.0 481.0h2.3v25.0h-2.3zM507.0 481.0h2.8v25.0h-2.8zM566.0 481.0h3.3v25.0h-3.3zM574.0 481.0h2.8v25.0h-2.8zM579.5 481.0h1.8v25.0h-1.8zM587.0 481.0h1.3v25.0h-1.3zM589.4 481.0h3.3v25.0h-3.3zM594.9 481.0h1.4v25.0h-1.4zM604.5 481.0h1.3v25.0h-1.3zM622.1 481.0h2.2v25.0h-2.2zM628.5 481.0h2.2v25.0h-2.2zM643.0 481.0h2.3v25.0h-2.3zM652.5 481.0h1.3v25.0h-1.3zM656.5 481.0h1.3v25.0h-1.3zM667.0 481.0h2.8v25.0h-2.8zM724.0 481.0h2.3v25.0h-2.3zM745.0 481.0h3.3v25.0h-3.3zM748.0 481.0h2.3v25.0h-2.3zM760.5 481.0h1.3v25.0h-1.3zM765.0 481.0h1.3v25.0h-1.3zM822.0 481.0h2.8v25.0h-2.8zM842.0 481.0h1.3v25.0h-1.3zM846.0 481.0h2.3v25.0h-2.3zM856.0 481.0h3.3v25.0h-3.3zM860.0 481.0h2.8v25.0h-2.8zM874.0 481.0h2.3v25.0h-2.3zM886.5 481.0h1.8v25.0h-1.8zM888.0 481.0h1.3v25.0h-1.3zM914.0 481.0h1.3v25.0h-1.3zM917.0 481.0h2.3v25.0h-2.3zM923.0 481.0h3.3v25.0h-3.3zM927.5 481.0h2.3v25.0h-2.3zM931.0 481.0h3.3v25.0h-3.3zM937.0 481.0h2.3v25.0h-2.3zM941.0 481.0h2.8v25.0h-2.8zM943.5 481.0h2.3v25.0h-2.3zM955.0 481.0h2.3v25.0h-2.3zM957.0 481.0h2.3v25.0h-2.3zM959.0 481.0h1.3v25.0h-1.3zM960.0 481.0h3.3v25.0h-3.3zM971.0 481.0h2.8v25.0h-2.8zM973.5 481.0h2.3v25.0h-2.3zM978.0 481.0h1.8v25.0h-1.8zM982.0 481.0h1.3v25.0h-1.3zM983.0 481.0h2.3v25.0h-2.3zM997.0 481.0h1.3v25.0h-1.3zM1001.0 481.0h3.3v25.0h-3.3zM1006.5 481.0h2.3v25.0h-2.3zM1019.5 481.0h3.3v25.0h-3.3zM1028.0 481.0h1.3v25.0h-1.3zM1031.0 481.0h2.3v25.0h-2.3zM1037.0 481.0h2.3v25.0h-2.3zM1070.0 481.0h2.3v25.0h-2.3zM1072.0 481.0h1.3v25.0h-1.3zM1073.0 481.0h2.3v25.0h-2.3zM1079.0 481.0h1.8v25.0h-1.8zM1069.0 482.0h2.8v24.0h-2.8zM1071.5 482.0h2.8v24.0h-2.8zM1081.5 482.0h0.8v24.0h-0.8zM1107.0 482.0h1.8v24.0h-1.8zM1111.5 482.0h0.8v24.0h-0.8zM1125.5 482.0h1.3v24.0h-1.3zM1176.0 481.0h1.3v25.0h-1.3zM1177.0 481.0h2.8v25.0h-2.8zM1184.0 481.0h2.8v25.0h-2.8zM1209.5 481.0h2.3v25.0h-2.3zM1243.0 481.0h2.3v25.0h-2.3zM1245.0 481.0h2.3v25.0h-2.3zM1255.0 481.0h1.8v25.0h-1.8zM1261.0 481.0h2.8v25.0h-2.8zM1276.5 481.0h1.3v25.0h-1.3zM1296.5 481.0h1.8v25.0h-1.8zM1299.0 481.0h3.3v25.0h-3.3zM1346.5 481.0h1.8v25.0h-1.8zM1350.0 481.0h2.3v25.0h-2.3zM1365.5 481.0h1.8v25.0h-1.8zM1370.0 481.0h1.3v25.0h-1.3zM1380.0 481.0h3.3v25.0h-3.3zM1415.0 481.0h3.3v25.0h-3.3zM1418.0 481.0h1.3v25.0h-1.3zM1431.5 481.0h3.3v25.0h-3.3zM1441.5 481.0h2.8v25.0h-2.8zM1444.0 481.0h2.3v25.0h-2.3zM1454.0 481.0h2.3v25.0h-2.3zM1460.0 481.0h2.3v25.0h-2.3zM1480.5 481.0h2.8v25.0h-2.8zM1509.0 481.0h1.8v25.0h-1.8zM1526.0 481.0h1.3v25.0h-1.3zM1536.5 481.0h1.3v25.0h-1.3zM1543.5 481.0h2.8v25.0h-2.8zM1548.5 481.0h2.8v25.0h-2.8zM1557.0 481.0h2.3v25.0h-2.3zM1558.0 481.0h2.3v25.0h-2.3z"/><path fill="#3446c2" d="M13.0 481.0h2.3v25.0h-2.3zM15.0 481.0h2.3v25.0h-2.3zM21.0 481.0h1.8v25.0h-1.8zM23.0 481.0h2.8v25.0h-2.8zM40.0 481.0h1.8v25.0h-1.8zM254.0 481.0h2.8v25.0h-2.8zM256.5 481.0h1.3v25.0h-1.3zM1584.0 481.0h2.8v25.0h-2.8zM1586.5 481.0h1.8v25.0h-1.8zM1601.5 481.0h0.8v25.0h-0.8zM1608.0 482.0h3.3v24.0h-3.3zM1613.0 481.0h1.3v25.0h-1.3zM1617.0 481.0h1.3v25.0h-1.3zM1618.0 481.0h2.3v25.0h-2.3zM1620.0 481.0h3.3v25.0h-3.3zM1627.0 481.0h1.3v25.0h-1.3zM1669.0 481.0h3.3v25.0h-3.3zM1683.0 481.0h1.3v25.0h-1.3zM1691.0 481.0h2.3v25.0h-2.3zM1693.0 481.0h3.3v25.0h-3.3zM1704.0 481.0h2.3v25.0h-2.3zM1719.5 481.0h0.8v25.0h-0.8zM1725.0 481.0h1.3v25.0h-1.3zM1748.5 481.0h0.8v25.0h-0.8zM1749.0 481.0h1.3v25.0h-1.3zM1753.5 481.0h1.8v25.0h-1.8zM1755.0 481.0h1.8v25.0h-1.8zM1759.5 481.0h0.8v25.0h-0.8zM1760.0 481.0h2.3v25.0h-2.3zM1774.5 481.0h0.8v25.0h-0.8zM1787.0 481.0h1.8v25.0h-1.8zM1808.5 481.0h2.3v25.0h-2.3zM1831.0 481.0h1.3v25.0h-1.3zM707.3 481.0h2.3v25.0h-2.3zM725.0 481.0h1.8v25.0h-1.8zM739.6 481.0h1.8v25.0h-1.8zM774.0 481.0h1.3v25.0h-1.3zM293.0 481.0h2.3v25.0h-2.3zM391.0 481.0h1.8v25.0h-1.8zM405.5 481.0h1.3v25.0h-1.3zM455.5 481.0h0.8v25.0h-0.8zM485.5 481.0h2.3v25.0h-2.3zM516.0 481.0h2.8v25.0h-2.8zM559.0 481.0h1.3v25.0h-1.3zM569.0 481.0h2.3v25.0h-2.3zM637.8 481.0h2.3v25.0h-2.3zM650.0 481.0h1.8v25.0h-1.8zM680.0 481.0h3.3v25.0h-3.3zM727.5 481.0h0.4v25.0h-0.4zM740.0 481.0h2.3v15.0h-2.3zM743.0 481.0h1.8v15.0h-1.8zM757.0 481.0h2.3v25.0h-2.3zM763.5 481.0h1.8v25.0h-1.8zM766.0 481.0h2.8v25.0h-2.8zM768.5 481.0h0.8v25.0h-0.8zM809.0 481.0h1.8v25.0h-1.8zM848.0 481.0h1.8v25.0h-1.8zM852.0 481.0h3.3v25.0h-3.3zM864.5 481.0h2.3v25.0h-2.3zM871.0 481.0h3.3v25.0h-3.3zM894.5 481.0h0.8v25.0h-0.8zM898.0 481.0h2.3v25.0h-2.3zM902.5 481.0h2.8v25.0h-2.8zM905.0 481.0h2.8v25.0h-2.8zM919.0 481.0h2.3v25.0h-2.3zM929.5 481.0h1.8v25.0h-1.8zM963.0 481.0h1.3v25.0h-1.3zM969.0 481.0h2.3v25.0h-2.3zM975.5 481.0h2.8v25.0h-2.8zM993.0 481.0h2.3v25.0h-2.3zM995.0 481.0h2.3v25.0h-2.3zM998.0 481.0h1.3v25.0h-1.3zM999.0 481.0h2.3v25.0h-2.3zM1004.0 481.0h2.8v25.0h-2.8zM1015.5 481.0h1.8v25.0h-1.8zM1033.0 481.0h2.3v25.0h-2.3zM1041.0 481.0h1.8v25.0h-1.8zM1045.0 481.0h2.3v25.0h-2.3zM1049.5 481.0h2.3v25.0h-2.3zM1051.5 481.0h2.3v25.0h-2.3zM1067.0 481.0h3.3v25.0h-3.3zM1076.5 481.0h2.8v25.0h-2.8zM1080.5 481.0h0.8v25.0h-0.8zM1065.0 481.0h1.8v25.0h-1.8zM1066.5 481.0h1.3v25.0h-1.3zM1074.0 482.0h1.3v24.0h-1.3zM1075.0 482.0h2.3v24.0h-2.3zM1108.5 482.0h3.3v24.0h-3.3zM1121.0 482.0h1.8v24.0h-1.8zM1186.5 481.0h0.8v25.0h-0.8zM1212.5 481.0h1.3v25.0h-1.3zM1213.5 481.0h1.8v25.0h-1.8zM1215.0 481.0h2.8v25.0h-2.8zM1217.5 481.0h2.3v25.0h-2.3zM1272.0 481.0h1.3v25.0h-1.3zM1294.5 481.0h2.3v25.0h-2.3zM1305.0 481.0h2.3v25.0h-2.3zM1311.5 481.0h2.8v25.0h-2.8zM1355.5 481.0h2.8v25.0h-2.8zM1372.5 481.0h1.8v25.0h-1.8zM1374.0 481.0h2.3v25.0h-2.3zM1387.0 481.0h1.3v25.0h-1.3zM1435.5 481.0h2.8v25.0h-2.8zM1473.0 481.0h2.3v25.0h-2.3zM1484.5 481.0h0.8v25.0h-0.8zM1503.0 481.0h3.3v25.0h-3.3zM1519.0 481.0h2.3v25.0h-2.3zM1527.0 481.0h2.8v25.0h-2.8zM1537.5 481.0h1.8v25.0h-1.8zM1551.0 481.0h2.3v25.0h-2.3z"/><path fill="#2a42c0" d="M2.0 462.0h1.3v19.0h-1.3zM7.0 462.0h1.3v19.0h-1.3zM15.0 462.0h2.3v19.0h-2.3zM102.5 462.0h1.3v19.0h-1.3zM105.5 462.0h2.3v19.0h-2.3zM127.1 462.0h1.8v19.0h-1.8zM130.6 462.0h0.4v19.0h-0.4zM133.7 462.0h2.3v19.0h-2.3zM135.7 462.0h2.1v19.0h-2.1zM147.0 462.0h2.3v19.0h-2.3zM150.5 462.0h3.3v19.0h-3.3zM163.0 462.0h3.3v19.0h-3.3zM175.0 462.0h2.3v19.0h-2.3zM180.0 462.0h2.3v19.0h-2.3zM184.0 462.0h1.8v19.0h-1.8zM196.0 462.0h1.3v19.0h-1.3zM198.0 462.0h2.3v19.0h-2.3zM211.0 462.0h3.3v19.0h-3.3zM216.5 462.0h1.3v19.0h-1.3zM222.5 462.0h2.3v19.0h-2.3zM228.5 462.0h0.8v19.0h-0.8zM234.5 462.0h1.8v19.0h-1.8zM236.0 462.0h2.3v19.0h-2.3zM238.0 462.0h2.3v19.0h-2.3zM240.0 462.0h3.3v19.0h-3.3zM247.5 462.0h2.3v19.0h-2.3zM255.5 462.0h1.8v19.0h-1.8zM1569.0 462.0h2.3v19.0h-2.3zM1571.0 462.0h2.3v19.0h-2.3zM1574.0 462.0h2.3v19.0h-2.3zM1578.0 462.0h1.3v19.0h-1.3zM1581.5 462.0h2.8v19.0h-2.8zM1589.0 462.0h1.3v19.0h-1.3zM1593.5 462.0h0.8v19.0h-0.8zM1600.0 462.0h1.8v19.0h-1.8zM1606.5 462.0h1.8v19.0h-1.8zM1612.0 462.0h2.3v19.0h-2.3zM1617.5 462.0h0.8v19.0h-0.8zM1626.0 462.0h1.3v19.0h-1.3zM1634.5 462.0h1.3v19.0h-1.3zM1638.5 462.0h2.3v19.0h-2.3zM1643.5 462.0h3.3v19.0h-3.3zM1654.5 462.0h1.8v19.0h-1.8zM1660.5 462.0h2.3v19.0h-2.3zM1667.5 462.0h2.8v19.0h-2.8zM1670.0 462.0h1.3v19.0h-1.3zM1677.5 462.0h2.3v19.0h-2.3zM1691.0 462.0h1.8v19.0h-1.8zM1692.5 462.0h0.8v19.0h-0.8zM1693.0 462.0h3.3v19.0h-3.3zM1702.5 462.0h3.3v19.0h-3.3zM1712.5 462.0h2.3v19.0h-2.3zM1717.0 462.0h2.8v19.0h-2.8zM1720.0 462.0h3.3v19.0h-3.3zM1727.5 462.0h2.8v19.0h-2.8zM1707.5 462.0h2.8v19.0h-2.8zM1710.0 462.0h2.3v19.0h-2.3zM1712.0 462.0h2.3v19.0h-2.3zM1721.0 462.0h1.8v19.0h-1.8zM1723.5 462.0h1.3v19.0h-1.3zM1728.0 462.0h2.3v19.0h-2.3zM1731.0 462.0h3.3v19.0h-3.3zM1734.0 462.0h3.3v19.0h-3.3zM1742.5 462.0h1.8v19.0h-1.8zM1754.0 462.0h3.3v19.0h-3.3zM1759.0 462.0h1.3v19.0h-1.3zM1762.5 462.0h1.8v19.0h-1.8zM1766.0 462.0h2.3v19.0h-2.3zM1772.0 462.0h1.3v19.0h-1.3zM1790.5 462.0h2.3v19.0h-2.3zM1792.5 462.0h1.3v19.0h-1.3zM1793.5 462.0h3.3v19.0h-3.3zM1806.0 462.0h1.3v19.0h-1.3zM1810.5 462.0h1.3v19.0h-1.3zM1818.0 462.0h2.8v19.0h-2.8zM1825.5 462.0h0.8v19.0h-0.8zM1827.0 462.0h1.8v19.0h-1.8zM1828.5 462.0h1.8v19.0h-1.8zM1830.0 462.0h2.3v19.0h-2.3zM1841.0 462.0h2.8v19.0h-2.8zM268.0 462.0h2.8v19.0h-2.8zM272.0 462.0h2.3v19.0h-2.3zM274.0 462.0h2.3v19.0h-2.3zM282.0 462.0h1.8v19.0h-1.8zM295.0 462.0h2.3v19.0h-2.3zM297.0 462.0h1.3v19.0h-1.3zM298.0 462.0h2.3v19.0h-2.3zM305.5 462.0h2.8v19.0h-2.8zM308.0 462.0h1.3v19.0h-1.3zM310.5 462.0h2.3v19.0h-2.3zM314.5 462.0h2.3v19.0h-2.3zM319.0 462.0h2.8v19.0h-2.8zM324.0 462.0h1.3v19.0h-1.3zM338.5 462.0h0.8v19.0h-0.8zM351.0 462.0h2.3v19.0h-2.3zM356.0 462.0h1.3v19.0h-1.3zM357.0 462.0h1.8v19.0h-1.8zM358.5 462.0h2.8v19.0h-2.8zM362.0 462.0h1.8v19.0h-1.8zM363.5 462.0h1.3v19.0h-1.3zM364.5 462.0h0.8v19.0h-0.8zM367.0 462.0h3.3v19.0h-3.3zM370.0 462.0h1.3v19.0h-1.3zM374.5 462.0h2.3v19.0h-2.3zM386.5 462.0h2.8v19.0h-2.8zM389.0 462.0h2.3v19.0h-2.3zM395.0 462.0h2.3v19.0h-2.3zM401.0 462.0h2.3v19.0h-2.3zM404.5 462.0h2.3v19.0h-2.3zM420.5 462.0h0.8v19.0h-0.8zM422.0 462.0h2.3v19.0h-2.3zM429.0 462.0h2.8v19.0h-2.8zM449.5 462.0h2.3v19.0h-2.3zM456.0 462.0h2.3v19.0h-2.3zM468.5 462.0h2.3v19.0h-2.3zM474.5 462.0h1.8v19.0h-1.8zM484.5 462.0h3.3v19.0h-3.3zM487.5 462.0h0.8v19.0h-0.8zM488.0 462.0h3.3v19.0h-3.3zM492.5 462.0h1.8v19.0h-1.8zM497.0 462.0h1.8v19.0h-1.8zM499.5 462.0h3.3v19.0h-3.3zM503.0 462.0h3.3v19.0h-3.3zM507.0 462.0h1.3v19.0h-1.3zM508.0 462.0h1.3v19.0h-1.3zM509.0 462.0h1.8v19.0h-1.8zM510.5 462.0h1.8v19.0h-1.8zM519.0 462.0h1.3v19.0h-1.3zM520.0 462.0h1.8v19.0h-1.8zM527.0 462.0h1.3v19.0h-1.3zM541.0 462.0h2.3v19.0h-2.3zM559.0 462.0h3.3v19.0h-3.3zM562.0 462.0h2.8v19.0h-2.8zM565.0 462.0h1.8v19.0h-1.8zM571.0 462.0h2.3v19.0h-2.3zM578.5 462.0h2.3v19.0h-2.3zM584.5 462.0h0.8v19.0h-0.8zM570.0 462.0h2.3v19.0h-2.3zM572.0 462.0h1.8v19.0h-1.8zM576.5 462.0h2.3v19.0h-2.3zM581.5 462.0h1.3v19.0h-1.3zM588.0 462.0h1.3v19.0h-1.3zM591.4 462.0h3.3v19.0h-3.3zM594.4 462.0h1.9v19.0h-1.9zM598.0 462.0h2.3v19.0h-2.3zM602.0 462.0h2.8v19.0h-2.8zM610.0 462.0h1.3v19.0h-1.3zM613.5 462.0h2.1v19.0h-2.1zM619.6 462.0h1.8v19.0h-1.8zM622.6 462.0h1.7v19.0h-1.7zM640.3 462.0h1.0v19.0h-1.0zM649.0 462.0h1.3v19.0h-1.3zM652.0 462.0h3.3v19.0h-3.3zM656.5 462.0h1.8v19.0h-1.8zM658.0 462.0h3.3v19.0h-3.3zM662.0 462.0h1.3v19.0h-1.3zM666.0 462.0h1.3v19.0h-1.3zM670.0 462.0h1.3v19.0h-1.3zM671.0 462.0h0.8v19.0h-0.8zM685.5 462.0h2.3v19.0h-2.3zM694.0 462.0h1.3v19.0h-1.3zM698.0 462.0h2.3v19.0h-2.3zM705.0 462.0h2.8v19.0h-2.8zM723.0 462.0h1.3v19.0h-1.3zM727.5 462.0h0.4v19.0h-0.4zM738.0 479.0h3.3v2.0h-3.3zM750.0 462.0h2.3v19.0h-2.3zM754.0 462.0h2.8v19.0h-2.8zM765.5 462.0h0.8v19.0h-0.8zM769.0 462.0h2.3v19.0h-2.3zM785.0 462.0h1.3v19.0h-1.3zM793.0 462.0h1.8v19.0h-1.8zM813.0 462.0h2.3v19.0h-2.3zM815.0 462.0h1.3v19.0h-1.3zM817.0 462.0h2.3v19.0h-2.3zM821.0 462.0h2.8v19.0h-2.8zM827.0 462.0h3.3v19.0h-3.3zM830.0 462.0h1.3v19.0h-1.3zM838.0 462.0h1.3v19.0h-1.3zM848.0 462.0h2.3v19.0h-2.3zM858.5 462.0h1.8v19.0h-1.8zM878.5 462.0h1.3v19.0h-1.3zM885.5 462.0h2.3v19.0h-2.3zM887.5 462.0h1.8v19.0h-1.8zM894.5 462.0h0.8v19.0h-0.8zM895.0 462.0h1.8v19.0h-1.8zM908.5 462.0h2.3v19.0h-2.3zM910.5 462.0h2.3v19.0h-2.3zM912.5 462.0h3.3v19.0h-3.3zM915.5 462.0h2.3v19.0h-2.3zM920.0 462.0h1.3v19.0h-1.3zM933.5 462.0h1.3v19.0h-1.3zM938.5 462.0h2.3v19.0h-2.3zM940.5 462.0h2.3v19.0h-2.3zM950.5 462.0h1.8v19.0h-1.8zM952.0 462.0h2.3v19.0h-2.3zM954.0 462.0h2.3v19.0h-2.3zM961.0 462.0h1.3v19.0h-1.3zM962.0 462.0h1.3v19.0h-1.3zM970.5 462.0h3.3v19.0h-3.3zM977.5 462.0h1.3v19.0h-1.3zM978.5 462.0h2.3v19.0h-2.3zM980.5 462.0h1.8v19.0h-1.8zM982.0 462.0h2.3v19.0h-2.3zM984.0 462.0h2.8v19.0h-2.8zM988.0 462.0h2.3v19.0h-2.3zM998.0 462.0h1.8v19.0h-1.8zM1012.0 462.0h2.3v19.0h-2.3zM1014.0 462.0h3.3v19.0h-3.3zM1027.5 462.0h1.8v19.0h-1.8zM1031.0 462.0h1.3v19.0h-1.3zM1045.0 462.0h2.3v19.0h-2.3zM1056.5 462.0h1.3v19.0h-1.3zM1057.5 462.0h2.3v19.0h-2.3zM1065.0 462.0h2.8v19.0h-2.8zM1080.0 462.0h1.3v19.0h-1.3zM1065.0 462.0h2.8v19.0h-2.8zM1067.5 462.0h1.8v19.0h-1.8zM1165.0 462.0h2.3v19.0h-2.3zM1169.5 462.0h1.8v19.0h-1.8zM1179.5 462.0h1.8v19.0h-1.8zM1181.0 462.0h2.3v19.0h-2.3zM1183.0 462.0h2.8v19.0h-2.8zM1189.0 462.0h1.3v19.0h-1.3zM1205.0 462.0h1.3v19.0h-1.3zM1209.0 462.0h2.8v19.0h-2.8zM1218.5 462.0h2.3v19.0h-2.3zM1226.5 462.0h0.8v19.0h-0.8zM1228.5 462.0h1.8v19.0h-1.8zM1233.0 462.0h2.3v19.0h-2.3zM1230.0 462.0h3.3v19.0h-3.3zM1233.0 462.0h1.3v19.0h-1.3zM1248.5 462.0h1.8v19.0h-1.8zM1250.0 462.0h2.3v19.0h-2.3zM1256.0 462.0h1.3v19.0h-1.3zM1259.0 462.0h1.8v19.0h-1.8zM1275.0 462.0h1.8v19.0h-1.8zM1277.5 462.0h0.8v19.0h-0.8zM1282.0 462.0h2.3v19.0h-2.3zM1284.0 462.0h1.8v19.0h-1.8zM1305.5 462.0h1.3v19.0h-1.3zM1306.5 462.0h2.3v19.0h-2.3zM1326.0 462.0h2.3v19.0h-2.3zM1332.0 462.0h1.8v19.0h-1.8zM1334.0 462.0h1.3v19.0h-1.3zM1342.0 462.0h3.3v19.0h-3.3zM1348.0 462.0h2.3v19.0h-2.3zM1354.0 462.0h1.3v19.0h-1.3zM1363.0 462.0h2.3v19.0h-2.3zM1365.0 462.0h2.3v19.0h-2.3zM1367.0 462.0h2.8v19.0h-2.8zM1372.0 462.0h1.8v19.0h-1.8zM1381.5 462.0h1.3v19.0h-1.3zM1382.5 462.0h2.3v19.0h-2.3zM1384.5 462.0h1.8v19.0h-1.8zM1390.5 462.0h1.3v19.0h-1.3zM1391.5 462.0h1.8v19.0h-1.8zM1395.0 462.0h1.8v19.0h-1.8zM1407.5 462.0h1.8v19.0h-1.8zM1417.0 462.0h2.3v19.0h-2.3zM1421.0 462.0h2.3v19.0h-2.3zM1428.5 462.0h2.8v19.0h-2.8zM1431.0 462.0h1.3v19.0h-1.3zM1432.0 462.0h1.3v19.0h-1.3zM1434.5 462.0h2.3v19.0h-2.3zM1436.5 462.0h2.8v19.0h-2.8zM1445.0 462.0h2.3v19.0h-2.3zM1452.0 462.0h1.8v19.0h-1.8zM1455.0 462.0h2.3v19.0h-2.3zM1470.0 462.0h2.8v19.0h-2.8zM1472.5 462.0h2.3v19.0h-2.3zM1474.5 462.0h1.8v19.0h-1.8zM1476.0 462.0h1.3v19.0h-1.3zM1479.0 462.0h2.8v19.0h-2.8zM1484.5 462.0h0.8v19.0h-0.8zM1515.0 462.0h1.8v19.0h-1.8zM1524.0 462.0h2.3v19.0h-2.3zM1526.0 462.0h1.3v19.0h-1.3zM1527.0 462.0h2.8v19.0h-2.8zM1529.5 462.0h2.3v19.0h-2.3zM1531.5 462.0h2.3v19.0h-2.3zM1540.5 462.0h1.3v19.0h-1.3zM1544.0 462.0h2.8v19.0h-2.8zM1548.5 462.0h2.3v19.0h-2.3zM1559.0 462.0h0.8v19.0h-0.8zM1559.0 462.0h1.3v19.0h-1.3z"/><path fill="#1f35b8" d="M2.0 461.0h2.3v1.0h-2.3zM8.5 461.0h1.3v1.0h-1.3zM9.5 461.0h2.8v1.0h-2.8zM14.0 461.0h1.3v1.0h-1.3zM16.0 401.0h2.3v61.0h-2.3zM18.0 401.0h1.3v61.0h-1.3zM19.0 542.0h3.3v62.0h-3.3zM97.5 401.0h2.3v61.0h-2.3zM102.5 401.0h1.3v61.0h-1.3zM103.5 401.0h3.3v61.0h-3.3zM105.0 365.0h1.3v36.0h-1.3zM108.0 365.0h0.9v36.0h-0.9zM108.6 401.0h1.8v61.0h-1.8zM110.1 401.0h2.3v61.0h-2.3zM112.1 401.0h1.3v61.0h-1.3zM113.1 401.0h2.3v61.0h-2.3zM115.1 401.0h3.3v61.0h-3.3zM120.6 401.0h3.3v61.0h-3.3zM123.6 401.0h1.8v61.0h-1.8zM128.1 401.0h1.3v61.0h-1.3zM129.1 401.0h1.9v61.0h-1.9zM130.7 365.0h1.3v36.0h-1.3zM131.7 365.0h2.3v36.0h-2.3zM133.7 365.0h1.8v36.0h-1.8zM135.7 401.0h2.1v61.0h-2.1zM154.4 401.0h2.3v61.0h-2.3zM156.4 401.0h2.3v61.0h-2.3zM158.4 401.0h1.8v61.0h-1.8zM159.9 401.0h1.3v61.0h-1.3zM160.9 401.0h0.4v61.0h-0.4zM161.0 401.0h1.8v61.0h-1.8zM165.5 401.0h0.8v61.0h-0.8zM165.5 365.0h0.8v36.0h-0.8zM168.5 401.0h1.8v61.0h-1.8zM175.0 401.0h1.8v61.0h-1.8zM178.5 401.0h1.8v61.0h-1.8zM177.0 365.0h2.8v36.0h-2.8zM175.0 340.0h1.3v25.0h-1.3zM179.0 340.0h1.3v25.0h-1.3zM180.0 401.0h2.3v61.0h-2.3zM184.0 401.0h2.8v61.0h-2.8zM180.0 365.0h1.3v36.0h-1.3zM182.0 365.0h2.3v36.0h-2.3zM184.0 365.0h1.8v36.0h-1.8zM185.5 365.0h2.3v36.0h-2.3zM187.5 365.0h1.3v36.0h-1.3zM188.5 401.0h2.3v61.0h-2.3zM195.5 401.0h1.8v61.0h-1.8zM193.5 365.0h2.8v36.0h-2.8zM196.0 365.0h1.3v36.0h-1.3zM193.5 340.0h2.8v25.0h-2.8zM196.0 340.0h1.3v25.0h-1.3zM197.0 401.0h2.3v61.0h-2.3zM199.0 401.0h1.3v61.0h-1.3zM200.0 401.0h1.8v61.0h-1.8zM201.5 401.0h3.3v61.0h-3.3zM197.0 365.0h2.3v36.0h-2.3zM199.0 365.0h1.3v36.0h-1.3zM200.0 365.0h1.8v36.0h-1.8zM201.5 365.0h1.3v36.0h-1.3zM204.5 365.0h2.8v36.0h-2.8zM207.0 401.0h1.3v61.0h-1.3zM208.0 401.0h3.3v61.0h-3.3zM211.0 401.0h2.3v61.0h-2.3zM213.0 401.0h1.3v61.0h-1.3zM207.0 365.0h3.3v36.0h-3.3zM210.0 365.0h3.3v36.0h-3.3zM210.0 340.0h1.3v25.0h-1.3zM211.0 340.0h1.8v25.0h-1.8zM212.5 340.0h1.8v25.0h-1.8zM217.0 401.0h2.3v61.0h-2.3zM237.5 401.0h1.8v61.0h-1.8zM239.0 401.0h1.3v61.0h-1.3zM239.0 365.0h1.3v36.0h-1.3zM253.0 401.0h1.8v61.0h-1.8zM259.5 401.0h0.8v61.0h-0.8zM1566.0 401.0h1.3v61.0h-1.3zM1567.0 401.0h1.3v61.0h-1.3zM1566.0 365.0h1.8v36.0h-1.8zM1567.5 365.0h0.8v36.0h-0.8zM1566.0 364.0h2.3v1.0h-2.3zM1570.0 430.0h2.3v32.0h-2.3zM1572.0 430.0h1.3v32.0h-1.3zM1573.0 430.0h1.3v32.0h-1.3zM1574.0 400.0h1.8v1.0h-1.8zM1575.5 400.0h0.8v1.0h-0.8zM1578.0 401.0h2.3v61.0h-2.3zM1578.0 400.0h1.8v1.0h-1.8zM1579.5 400.0h0.8v1.0h-0.8zM1584.0 401.0h2.8v61.0h-2.8zM1586.5 401.0h1.3v61.0h-1.3zM1587.5 401.0h0.8v61.0h-0.8zM1584.0 364.0h2.3v1.0h-2.3zM1586.0 364.0h1.3v1.0h-1.3zM1587.0 364.0h1.3v1.0h-1.3zM1588.0 401.0h2.3v61.0h-2.3zM1592.5 400.0h1.8v1.0h-1.8zM1600.0 401.0h2.3v61.0h-2.3zM1602.0 430.0h2.3v32.0h-2.3zM1612.0 401.0h2.3v61.0h-2.3zM1612.0 365.0h2.3v36.0h-2.3zM1612.0 364.0h2.3v1.0h-2.3zM1614.0 401.0h2.3v61.0h-2.3zM1614.0 365.0h1.8v36.0h-1.8zM1615.5 365.0h1.3v36.0h-1.3zM1616.5 365.0h1.8v36.0h-1.8zM1614.0 340.0h1.8v25.0h-1.8zM1616.5 340.0h1.3v25.0h-1.3zM1617.5 340.0h0.8v25.0h-0.8zM1618.0 430.0h2.3v32.0h-2.3zM1625.0 401.0h1.3v61.0h-1.3zM1620.0 365.0h3.3v36.0h-3.3zM1625.5 365.0h0.8v36.0h-0.8zM1620.0 340.0h1.8v25.0h-1.8zM1621.5 340.0h2.8v25.0h-2.8zM1620.0 304.0h3.3v36.0h-3.3zM1624.5 304.0h1.8v36.0h-1.8zM1620.0 290.0h2.3v14.0h-2.3zM1622.0 290.0h1.8v14.0h-1.8zM1626.0 401.0h1.8v61.0h-1.8zM1629.0 401.0h1.8v61.0h-1.8zM1631.5 401.0h1.3v61.0h-1.3zM1632.5 401.0h3.3v61.0h-3.3zM1635.5 401.0h1.3v61.0h-1.3zM1636.5 401.0h2.3v61.0h-2.3zM1640.5 401.0h3.3v61.0h-3.3zM1643.5 401.0h3.3v61.0h-3.3zM1646.5 401.0h1.8v61.0h-1.8zM1650.0 401.0h2.3v61.0h-2.3zM1626.0 365.0h3.3v36.0h-3.3zM1629.0 365.0h2.3v36.0h-2.3zM1633.5 365.0h2.8v36.0h-2.8zM1636.0 365.0h2.3v36.0h-2.3zM1638.0 365.0h2.8v36.0h-2.8zM1640.5 365.0h2.3v36.0h-2.3zM1642.5 365.0h3.3v36.0h-3.3zM1645.5 365.0h2.3v36.0h-2.3zM1647.5 365.0h2.3v36.0h-2.3zM1649.5 365.0h1.8v36.0h-1.8zM1626.0 340.0h1.8v25.0h-1.8zM1627.5 340.0h2.3v25.0h-2.3zM1632.5 340.0h2.8v25.0h-2.8zM1636.5 340.0h3.3v25.0h-3.3zM1639.5 340.0h2.8v25.0h-2.8zM1642.0 340.0h1.8v25.0h-1.8zM1643.5 340.0h1.8v25.0h-1.8zM1649.5 340.0h1.3v25.0h-1.3zM1652.0 401.0h2.3v61.0h-2.3zM1658.5 401.0h2.3v61.0h-2.3zM1660.5 401.0h1.8v61.0h-1.8zM1663.0 401.0h3.3v61.0h-3.3zM1666.0 401.0h3.3v61.0h-3.3zM1670.5 401.0h1.8v61.0h-1.8zM1675.0 401.0h2.3v61.0h-2.3zM1679.0 401.0h1.3v61.0h-1.3zM1652.0 365.0h2.3v36.0h-2.3zM1654.0 365.0h1.8v36.0h-1.8zM1655.5 365.0h2.3v36.0h-2.3zM1657.5 365.0h2.3v36.0h-2.3zM1659.5 365.0h2.3v36.0h-2.3zM1664.5 365.0h2.3v36.0h-2.3zM1666.5 365.0h2.3v36.0h-2.3zM1668.5 365.0h2.3v36.0h-2.3zM1670.5 365.0h3.3v36.0h-3.3zM1673.5 365.0h2.3v36.0h-2.3zM1677.5 365.0h1.3v36.0h-1.3zM1652.0 340.0h1.8v25.0h-1.8zM1653.5 340.0h2.3v25.0h-2.3zM1655.5 340.0h1.3v25.0h-1.3zM1658.0 340.0h3.3v25.0h-3.3zM1661.0 340.0h2.8v25.0h-2.8zM1670.0 340.0h2.8v25.0h-2.8zM1672.5 340.0h3.3v25.0h-3.3zM1675.5 340.0h1.3v25.0h-1.3zM1679.0 340.0h1.3v25.0h-1.3zM1652.0 304.0h3.3v36.0h-3.3zM1656.0 304.0h2.3v36.0h-2.3zM1658.0 304.0h1.3v36.0h-1.3zM1659.0 304.0h2.3v36.0h-2.3zM1661.0 304.0h1.8v36.0h-1.8zM1662.5 304.0h2.8v36.0h-2.8zM1667.0 304.0h3.3v36.0h-3.3zM1670.0 304.0h2.3v36.0h-2.3zM1674.5 304.0h1.3v36.0h-1.3zM1675.5 304.0h2.3v36.0h-2.3zM1677.5 304.0h2.8v36.0h-2.8zM1680.0 401.0h1.8v61.0h-1.8zM1681.5 401.0h3.3v61.0h-3.3zM1682.5 365.0h1.8v36.0h-1.8zM1684.0 365.0h2.3v36.0h-2.3zM1680.0 340.0h2.8v25.0h-2.8zM1682.5 340.0h2.3v25.0h-2.3zM1684.5 340.0h1.8v25.0h-1.8zM1682.5 304.0h2.8v36.0h-2.8zM1685.0 304.0h1.3v36.0h-1.3zM1686.0 401.0h3.3v61.0h-3.3zM1689.0 401.0h1.3v61.0h-1.3zM1690.0 401.0h2.3v61.0h-2.3zM1692.0 401.0h1.3v61.0h-1.3zM1689.5 365.0h3.3v36.0h-3.3zM1688.5 340.0h2.3v25.0h-2.3zM1690.5 340.0h1.3v25.0h-1.3zM1691.5 340.0h1.8v25.0h-1.8zM1688.5 304.0h1.3v36.0h-1.3zM1689.5 304.0h2.8v36.0h-2.8zM1686.0 278.0h2.3v26.0h-2.3zM1688.0 278.0h2.3v26.0h-2.3zM1690.0 278.0h1.3v26.0h-1.3zM1691.0 278.0h2.3v26.0h-2.3zM1691.0 268.0h2.3v10.0h-2.3zM1693.0 401.0h1.3v61.0h-1.3zM1694.0 401.0h2.8v61.0h-2.8zM1693.0 365.0h1.3v36.0h-1.3zM1693.0 340.0h1.3v25.0h-1.3zM1696.5 340.0h1.8v25.0h-1.8zM1696.0 304.0h1.3v36.0h-1.3zM1697.0 304.0h1.3v36.0h-1.3zM1704.0 401.0h2.8v61.0h-2.8zM1706.5 401.0h1.8v61.0h-1.8zM1698.0 365.0h3.3v36.0h-3.3zM1702.5 365.0h2.3v36.0h-2.3zM1704.5 365.0h2.3v36.0h-2.3zM1706.5 365.0h1.8v36.0h-1.8zM1698.0 364.0h1.3v1.0h-1.3zM1700.5 364.0h2.8v1.0h-2.8zM1703.0 364.0h2.8v1.0h-2.8zM1705.5 364.0h2.3v1.0h-2.3zM1707.5 364.0h0.8v1.0h-0.8zM1708.0 401.0h2.8v61.0h-2.8zM1710.5 401.0h2.8v61.0h-2.8zM1713.0 401.0h2.3v61.0h-2.3zM1708.0 400.0h2.3v1.0h-2.3zM1710.0 400.0h1.8v1.0h-1.8zM1711.5 400.0h1.3v1.0h-1.3zM1712.5 400.0h2.8v1.0h-2.8zM1715.0 400.0h3.3v1.0h-3.3zM1719.0 400.0h1.3v1.0h-1.3zM1720.0 401.0h2.8v61.0h-2.8zM1722.5 401.0h3.3v61.0h-3.3zM1725.5 401.0h2.3v61.0h-2.3zM1727.5 401.0h2.3v61.0h-2.3zM1729.5 401.0h0.8v61.0h-0.8zM1720.0 400.0h2.3v1.0h-2.3zM1723.5 400.0h1.3v1.0h-1.3zM1727.5 400.0h1.8v1.0h-1.8zM1695.0 401.0h1.8v61.0h-1.8zM1696.5 401.0h1.8v61.0h-1.8zM1698.0 401.0h2.3v61.0h-2.3zM1700.0 401.0h1.3v61.0h-1.3zM1695.0 365.0h2.3v36.0h-2.3zM1697.0 365.0h1.8v36.0h-1.8zM1698.5 365.0h1.3v36.0h-1.3zM1699.5 365.0h1.8v36.0h-1.8zM1695.0 340.0h2.8v25.0h-2.8zM1700.5 340.0h0.8v25.0h-0.8zM1695.0 330.0h2.3v10.0h-2.3zM1706.0 401.0h1.8v61.0h-1.8zM1707.5 401.0h1.8v61.0h-1.8zM1723.5 401.0h1.3v61.0h-1.3zM1721.0 365.0h2.8v36.0h-2.8zM1723.5 365.0h1.8v36.0h-1.8zM1725.0 365.0h1.3v36.0h-1.3zM1721.0 340.0h2.3v25.0h-2.3zM1724.0 340.0h2.3v25.0h-2.3zM1723.5 339.0h2.8v1.0h-2.8zM1737.0 401.0h3.3v61.0h-3.3zM1740.0 401.0h2.3v61.0h-2.3zM1742.0 401.0h2.3v61.0h-2.3zM1749.0 401.0h3.3v61.0h-3.3zM1752.0 401.0h1.3v61.0h-1.3zM1753.0 401.0h2.8v61.0h-2.8zM1755.5 401.0h1.8v61.0h-1.8zM1760.0 542.0h2.3v62.0h-2.3zM1763.0 542.0h1.3v62.0h-1.3zM1760.0 401.0h2.3v61.0h-2.3zM1760.0 365.0h2.8v36.0h-2.8zM1762.5 365.0h1.8v36.0h-1.8zM1765.5 401.0h2.3v61.0h-2.3zM1764.0 365.0h2.8v36.0h-2.8zM1774.5 401.0h0.8v61.0h-0.8zM1787.0 460.0h1.8v2.0h-1.8zM1788.5 460.0h1.8v2.0h-1.8zM1790.0 460.0h3.3v2.0h-3.3zM1793.0 460.0h2.8v2.0h-2.8zM1795.5 460.0h1.8v2.0h-1.8zM1797.0 401.0h2.3v61.0h-2.3zM1799.0 401.0h2.3v61.0h-2.3zM1803.5 401.0h2.3v61.0h-2.3zM1799.0 365.0h2.3v36.0h-2.3zM1801.0 365.0h2.3v36.0h-2.3zM1803.0 365.0h2.3v36.0h-2.3zM1805.0 365.0h1.3v36.0h-1.3zM1797.0 340.0h3.3v25.0h-3.3zM1800.0 340.0h1.8v25.0h-1.8zM1801.5 340.0h1.8v25.0h-1.8zM1803.0 340.0h2.3v25.0h-2.3zM1805.0 340.0h1.3v25.0h-1.3zM1799.0 305.0h1.8v35.0h-1.8zM1800.5 305.0h2.3v35.0h-2.3zM1802.5 305.0h2.3v35.0h-2.3zM1804.5 305.0h1.8v35.0h-1.8zM1806.0 401.0h1.3v61.0h-1.3zM1809.0 401.0h2.3v61.0h-2.3zM1811.0 401.0h3.3v61.0h-3.3zM1814.0 401.0h1.3v61.0h-1.3zM1806.0 365.0h3.3v36.0h-3.3zM1809.0 365.0h2.3v36.0h-2.3zM1807.5 364.0h1.8v1.0h-1.8zM1812.0 364.0h3.3v1.0h-3.3zM1815.0 401.0h2.8v61.0h-2.8zM1817.5 401.0h1.3v61.0h-1.3zM1818.5 401.0h3.3v61.0h-3.3zM1822.5 401.0h2.8v61.0h-2.8zM1815.0 365.0h3.3v36.0h-3.3zM1818.0 365.0h2.3v36.0h-2.3zM1822.0 365.0h1.3v36.0h-1.3zM1823.0 365.0h3.3v36.0h-3.3zM1815.0 340.0h3.3v25.0h-3.3zM1818.0 340.0h1.8v25.0h-1.8zM1819.5 340.0h1.3v25.0h-1.3zM1820.5 340.0h2.3v25.0h-2.3zM1822.5 340.0h2.3v25.0h-2.3zM1824.5 340.0h1.8v25.0h-1.8zM1815.0 338.0h3.3v2.0h-3.3zM1818.0 338.0h2.8v2.0h-2.8zM1820.5 338.0h3.3v2.0h-3.3zM1823.5 338.0h2.8v2.0h-2.8zM1826.0 401.0h1.8v61.0h-1.8zM1827.5 401.0h1.8v61.0h-1.8zM1826.0 365.0h2.8v36.0h-2.8zM1828.5 365.0h2.8v36.0h-2.8zM1831.0 365.0h1.3v36.0h-1.3zM1826.0 364.0h2.3v1.0h-2.3zM1828.0 364.0h1.3v1.0h-1.3zM1829.0 364.0h2.3v1.0h-2.3zM1831.0 364.0h1.3v1.0h-1.3zM1834.5 401.0h3.3v61.0h-3.3zM1837.5 401.0h3.3v61.0h-3.3zM1833.0 365.0h1.8v36.0h-1.8zM1838.5 365.0h2.8v36.0h-2.8zM1835.0 340.0h3.3v25.0h-3.3zM1838.0 340.0h2.3v25.0h-2.3zM1840.0 340.0h1.3v25.0h-1.3zM1832.0 305.0h2.3v35.0h-2.3zM1836.0 305.0h2.3v35.0h-2.3zM1838.0 305.0h1.3v35.0h-1.3zM1841.0 401.0h1.3v61.0h-1.3zM1842.0 401.0h1.8v61.0h-1.8zM1841.0 365.0h2.3v36.0h-2.3zM1843.0 365.0h0.8v36.0h-0.8zM1842.0 364.0h1.8v1.0h-1.8zM268.0 401.0h2.8v61.0h-2.8zM270.5 401.0h1.8v61.0h-1.8zM274.0 401.0h2.8v61.0h-2.8zM278.0 401.0h1.8v61.0h-1.8zM279.5 401.0h0.8v61.0h-0.8zM268.0 365.0h2.3v36.0h-2.3zM270.0 365.0h2.8v36.0h-2.8zM276.0 365.0h2.3v36.0h-2.3zM278.0 365.0h2.3v36.0h-2.3zM271.5 364.0h1.8v1.0h-1.8zM279.5 364.0h0.8v1.0h-0.8zM290.0 401.0h2.8v61.0h-2.8zM292.5 401.0h0.8v61.0h-0.8zM286.5 400.0h1.8v1.0h-1.8zM288.0 400.0h2.3v1.0h-2.3zM290.0 400.0h2.8v1.0h-2.8zM292.5 400.0h0.8v1.0h-0.8zM307.0 401.0h2.3v61.0h-2.3zM305.5 365.0h2.3v36.0h-2.3zM307.5 365.0h1.8v36.0h-1.8zM303.0 340.0h2.3v25.0h-2.3zM305.0 340.0h1.3v25.0h-1.3zM306.0 340.0h1.3v25.0h-1.3zM307.0 340.0h2.3v25.0h-2.3zM303.0 304.0h3.3v36.0h-3.3zM307.0 304.0h2.3v36.0h-2.3zM309.0 401.0h2.3v61.0h-2.3zM309.0 365.0h2.3v36.0h-2.3zM309.0 364.0h1.3v1.0h-1.3zM310.0 364.0h3.3v1.0h-3.3zM314.5 365.0h2.3v36.0h-2.3zM316.5 365.0h1.3v36.0h-1.3zM317.5 365.0h1.8v36.0h-1.8zM313.0 340.0h3.3v25.0h-3.3zM316.0 340.0h2.3v25.0h-2.3zM314.5 304.0h3.3v36.0h-3.3zM317.5 304.0h1.8v36.0h-1.8zM319.0 401.0h1.3v61.0h-1.3zM322.0 401.0h2.8v61.0h-2.8zM324.5 401.0h1.8v61.0h-1.8zM326.0 401.0h1.3v61.0h-1.3zM319.0 365.0h3.3v36.0h-3.3zM322.0 365.0h1.3v36.0h-1.3zM325.0 365.0h1.3v36.0h-1.3zM322.5 364.0h1.3v1.0h-1.3zM324.5 364.0h1.8v1.0h-1.8zM333.0 401.0h2.3v61.0h-2.3zM335.0 401.0h2.8v61.0h-2.8zM337.5 401.0h1.8v61.0h-1.8zM336.0 400.0h2.3v1.0h-2.3zM338.0 400.0h1.3v1.0h-1.3zM339.0 401.0h1.3v61.0h-1.3zM342.0 401.0h2.3v61.0h-2.3zM345.5 401.0h2.3v61.0h-2.3zM347.5 401.0h1.8v61.0h-1.8zM339.0 365.0h2.8v36.0h-2.8zM341.5 365.0h2.3v36.0h-2.3zM343.5 365.0h2.3v36.0h-2.3zM345.5 365.0h2.3v36.0h-2.3zM347.5 365.0h1.8v36.0h-1.8zM342.0 340.0h2.8v25.0h-2.8zM344.5 340.0h3.3v25.0h-3.3zM347.5 340.0h1.8v25.0h-1.8zM339.0 304.0h1.8v36.0h-1.8zM340.5 304.0h2.8v36.0h-2.8zM343.0 304.0h2.3v36.0h-2.3zM345.0 304.0h2.8v36.0h-2.8zM347.5 304.0h1.8v36.0h-1.8zM349.0 401.0h1.3v61.0h-1.3zM353.0 401.0h2.3v61.0h-2.3zM355.0 401.0h2.3v61.0h-2.3zM352.0 400.0h1.3v1.0h-1.3zM353.0 400.0h2.8v1.0h-2.8zM359.0 401.0h2.8v61.0h-2.8zM358.0 365.0h1.8v36.0h-1.8zM359.5 365.0h1.8v36.0h-1.8zM361.0 365.0h1.3v36.0h-1.3zM362.0 365.0h2.8v36.0h-2.8zM364.5 365.0h0.8v36.0h-0.8zM357.0 364.0h2.3v1.0h-2.3zM359.0 364.0h2.3v1.0h-2.3zM363.5 364.0h1.8v1.0h-1.8zM365.0 401.0h1.3v61.0h-1.3zM368.0 401.0h2.3v61.0h-2.3zM365.0 365.0h2.3v36.0h-2.3zM368.5 365.0h2.8v36.0h-2.8zM367.0 340.0h2.3v25.0h-2.3zM369.0 340.0h1.8v25.0h-1.8zM376.0 401.0h2.3v61.0h-2.3zM378.0 401.0h3.3v61.0h-3.3zM381.0 401.0h2.3v61.0h-2.3zM371.0 365.0h1.3v36.0h-1.3zM373.5 365.0h2.3v36.0h-2.3zM375.5 365.0h2.3v36.0h-2.3zM377.5 365.0h2.3v36.0h-2.3zM381.0 365.0h2.3v36.0h-2.3zM371.0 364.0h2.3v1.0h-2.3zM376.0 364.0h1.3v1.0h-1.3zM379.0 364.0h2.8v1.0h-2.8zM381.5 364.0h1.3v1.0h-1.3zM382.5 364.0h0.8v1.0h-0.8zM395.0 401.0h2.8v61.0h-2.8zM397.5 401.0h1.3v61.0h-1.3zM398.5 401.0h1.3v61.0h-1.3zM399.5 401.0h1.8v61.0h-1.8zM400.5 400.0h0.8v1.0h-0.8zM415.0 403.0h3.3v59.0h-3.3zM421.0 365.0h1.3v36.0h-1.3zM425.0 340.0h1.8v25.0h-1.8zM426.5 340.0h0.8v25.0h-0.8zM423.0 304.0h1.3v36.0h-1.3zM424.0 304.0h2.8v36.0h-2.8zM421.0 278.0h2.3v26.0h-2.3zM423.0 278.0h2.8v26.0h-2.8zM425.5 278.0h1.8v26.0h-1.8zM421.0 268.0h1.8v10.0h-1.8zM424.5 268.0h2.8v10.0h-2.8zM427.0 461.0h1.3v1.0h-1.3zM428.0 461.0h1.8v1.0h-1.8zM429.5 461.0h1.8v1.0h-1.8zM431.0 461.0h3.3v1.0h-3.3zM434.0 461.0h1.3v1.0h-1.3zM435.0 461.0h3.3v1.0h-3.3zM440.0 461.0h1.3v1.0h-1.3zM441.0 401.0h2.8v61.0h-2.8zM443.5 401.0h2.3v61.0h-2.3zM445.5 401.0h1.8v61.0h-1.8zM441.0 397.0h2.3v4.0h-2.3zM443.0 397.0h1.8v4.0h-1.8zM444.5 397.0h2.8v4.0h-2.8zM449.0 401.0h2.3v61.0h-2.3zM451.0 401.0h2.3v61.0h-2.3zM453.0 401.0h2.3v61.0h-2.3zM455.0 401.0h1.3v61.0h-1.3zM448.5 365.0h2.8v36.0h-2.8zM451.0 365.0h2.3v36.0h-2.3zM453.0 365.0h2.3v36.0h-2.3zM447.0 340.0h2.3v25.0h-2.3zM449.0 340.0h3.3v25.0h-3.3zM452.0 340.0h1.3v25.0h-1.3zM455.0 340.0h1.3v25.0h-1.3zM449.0 304.0h1.3v36.0h-1.3zM450.0 304.0h1.3v36.0h-1.3zM451.0 304.0h3.3v36.0h-3.3zM454.0 304.0h2.3v36.0h-2.3zM447.0 303.0h2.3v1.0h-2.3zM450.5 303.0h2.8v1.0h-2.8zM453.0 303.0h2.8v1.0h-2.8zM458.5 401.0h2.3v61.0h-2.3zM460.5 401.0h1.8v61.0h-1.8zM456.0 365.0h2.3v36.0h-2.3zM458.0 365.0h2.3v36.0h-2.3zM461.0 365.0h1.3v36.0h-1.3zM456.0 362.0h2.3v3.0h-2.3zM464.5 461.0h1.3v1.0h-1.3zM465.5 461.0h2.3v1.0h-2.3zM467.5 461.0h1.8v1.0h-1.8zM471.0 461.0h2.8v1.0h-2.8zM473.5 461.0h1.8v1.0h-1.8zM475.0 461.0h1.3v1.0h-1.3zM476.0 401.0h1.3v61.0h-1.3zM477.0 401.0h1.3v61.0h-1.3zM476.0 365.0h2.3v36.0h-2.3zM478.0 401.0h1.8v61.0h-1.8zM479.5 401.0h2.8v61.0h-2.8zM479.5 365.0h2.8v36.0h-2.8zM478.0 340.0h2.3v25.0h-2.3zM481.0 304.0h1.3v36.0h-1.3zM478.0 278.0h1.3v26.0h-1.3zM479.0 278.0h1.8v26.0h-1.8zM478.0 268.0h3.3v10.0h-3.3zM481.0 268.0h1.3v10.0h-1.3zM478.0 250.0h1.8v18.0h-1.8zM481.5 250.0h0.8v18.0h-0.8zM478.0 230.0h3.3v20.0h-3.3zM481.0 230.0h1.3v20.0h-1.3zM481.0 207.0h1.3v23.0h-1.3zM482.0 401.0h2.3v61.0h-2.3zM484.0 401.0h1.3v61.0h-1.3zM485.0 401.0h3.3v61.0h-3.3zM482.0 365.0h2.3v36.0h-2.3zM484.0 365.0h1.3v36.0h-1.3zM485.0 365.0h1.3v36.0h-1.3zM486.0 365.0h2.3v36.0h-2.3zM483.0 362.0h2.3v3.0h-2.3zM485.0 362.0h2.3v3.0h-2.3zM488.0 401.0h1.8v61.0h-1.8zM492.5 401.0h3.3v61.0h-3.3zM497.0 401.0h1.8v61.0h-1.8zM498.5 401.0h2.3v61.0h-2.3zM502.5 401.0h0.8v61.0h-0.8zM488.0 365.0h1.3v36.0h-1.3zM489.0 365.0h1.3v36.0h-1.3zM490.0 365.0h2.8v36.0h-2.8zM492.5 365.0h2.8v36.0h-2.8zM495.0 365.0h1.3v36.0h-1.3zM496.0 365.0h2.8v36.0h-2.8zM498.5 365.0h2.3v36.0h-2.3zM488.0 362.0h1.3v3.0h-1.3zM491.5 362.0h2.3v3.0h-2.3zM493.5 362.0h3.3v3.0h-3.3zM496.5 362.0h1.8v3.0h-1.8zM498.0 362.0h1.3v3.0h-1.3zM499.0 362.0h1.3v3.0h-1.3zM500.0 362.0h2.3v3.0h-2.3zM503.0 401.0h1.3v61.0h-1.3zM504.0 401.0h2.3v61.0h-2.3zM506.0 401.0h3.3v61.0h-3.3zM511.0 401.0h1.3v61.0h-1.3zM503.0 365.0h1.3v36.0h-1.3zM505.5 365.0h3.3v36.0h-3.3zM510.5 365.0h1.8v36.0h-1.8zM503.0 362.0h1.8v3.0h-1.8zM504.5 362.0h2.8v3.0h-2.8zM507.0 362.0h1.8v3.0h-1.8zM510.5 362.0h1.8v3.0h-1.8zM515.0 403.0h1.8v59.0h-1.8zM516.5 403.0h2.8v59.0h-2.8zM519.0 403.0h2.3v59.0h-2.3zM522.0 403.0h1.3v59.0h-1.3zM523.0 401.0h3.3v61.0h-3.3zM523.0 340.0h2.3v25.0h-2.3zM525.0 340.0h1.3v25.0h-1.3zM523.0 304.0h1.8v36.0h-1.8zM523.0 278.0h3.3v26.0h-3.3zM523.0 268.0h2.8v10.0h-2.8zM525.5 268.0h0.8v10.0h-0.8zM526.0 401.0h3.3v61.0h-3.3zM526.0 365.0h2.8v36.0h-2.8zM528.5 365.0h0.8v36.0h-0.8zM526.0 304.0h2.3v36.0h-2.3zM528.0 304.0h1.3v36.0h-1.3zM528.0 300.0h1.3v4.0h-1.3zM531.5 401.0h2.3v61.0h-2.3zM533.5 401.0h2.3v61.0h-2.3zM535.5 401.0h1.8v61.0h-1.8zM539.5 401.0h1.8v61.0h-1.8zM529.0 365.0h2.3v36.0h-2.3zM533.0 365.0h1.8v36.0h-1.8zM534.5 365.0h2.3v36.0h-2.3zM536.5 365.0h1.3v36.0h-1.3zM540.5 365.0h0.8v36.0h-0.8zM529.0 344.0h2.3v21.0h-2.3zM531.0 344.0h1.8v21.0h-1.8zM532.5 344.0h3.3v21.0h-3.3zM538.0 344.0h3.3v21.0h-3.3zM541.0 403.0h1.3v59.0h-1.3zM545.5 403.0h2.8v59.0h-2.8zM548.0 403.0h1.3v59.0h-1.3zM549.0 403.0h1.3v59.0h-1.3zM550.0 401.0h1.8v61.0h-1.8zM551.5 401.0h1.8v61.0h-1.8zM550.0 365.0h2.3v36.0h-2.3zM552.0 365.0h1.3v36.0h-1.3zM550.0 340.0h2.3v25.0h-2.3zM552.0 340.0h1.3v25.0h-1.3zM550.0 278.0h2.8v26.0h-2.8zM552.5 278.0h0.8v26.0h-0.8zM550.0 268.0h1.3v10.0h-1.3zM551.0 268.0h2.3v10.0h-2.3zM550.0 250.0h2.3v18.0h-2.3zM552.0 250.0h1.3v18.0h-1.3zM550.0 240.0h2.3v10.0h-2.3zM552.0 240.0h1.3v10.0h-1.3zM553.0 278.0h2.3v22.0h-2.3zM554.5 268.0h0.8v10.0h-0.8zM553.0 250.0h1.3v18.0h-1.3zM554.0 250.0h1.3v18.0h-1.3zM553.0 200.0h2.3v30.0h-2.3zM553.0 170.0h2.3v30.0h-2.3zM553.0 130.0h2.3v10.0h-2.3zM559.0 403.0h3.3v59.0h-3.3zM565.0 401.0h3.3v61.0h-3.3zM568.0 401.0h1.8v61.0h-1.8zM572.5 401.0h3.3v61.0h-3.3zM577.0 401.0h1.8v61.0h-1.8zM578.5 401.0h2.3v61.0h-2.3zM582.0 401.0h2.8v61.0h-2.8zM565.0 365.0h2.8v36.0h-2.8zM567.5 365.0h1.3v36.0h-1.3zM570.5 365.0h2.3v36.0h-2.3zM573.5 365.0h1.3v36.0h-1.3zM574.5 365.0h1.3v36.0h-1.3zM575.5 365.0h1.8v36.0h-1.8zM580.0 365.0h1.8v36.0h-1.8zM581.5 365.0h1.3v36.0h-1.3zM583.5 365.0h1.8v36.0h-1.8zM565.0 362.0h1.3v3.0h-1.3zM566.0 362.0h2.3v3.0h-2.3zM568.0 362.0h3.3v3.0h-3.3zM571.0 362.0h2.3v3.0h-2.3zM573.0 362.0h1.3v3.0h-1.3zM574.0 362.0h2.3v3.0h-2.3zM576.0 362.0h2.8v3.0h-2.8zM578.5 362.0h2.3v3.0h-2.3zM580.5 362.0h3.3v3.0h-3.3zM583.5 362.0h1.8v3.0h-1.8zM570.0 401.0h2.3v61.0h-2.3zM573.5 401.0h1.8v61.0h-1.8zM575.0 401.0h1.8v61.0h-1.8zM570.0 365.0h2.3v36.0h-2.3zM572.0 365.0h2.8v36.0h-2.8zM574.5 365.0h2.3v36.0h-2.3zM571.5 340.0h1.8v25.0h-1.8zM573.0 340.0h1.8v25.0h-1.8zM574.5 340.0h2.3v25.0h-2.3zM576.0 304.0h0.8v36.0h-0.8zM570.0 300.0h1.8v4.0h-1.8zM573.5 300.0h3.3v4.0h-3.3zM578.5 401.0h2.8v61.0h-2.8zM576.5 365.0h3.3v36.0h-3.3zM579.5 365.0h3.3v36.0h-3.3zM579.5 364.0h2.8v1.0h-2.8zM582.0 364.0h1.3v1.0h-1.3zM583.0 401.0h2.8v61.0h-2.8zM585.5 401.0h2.3v61.0h-2.3zM587.5 401.0h1.8v61.0h-1.8zM583.0 365.0h2.3v36.0h-2.3zM585.0 365.0h1.8v36.0h-1.8zM586.5 365.0h2.8v36.0h-2.8zM586.0 364.0h2.3v1.0h-2.3zM588.0 364.0h1.7v1.0h-1.7zM589.4 461.0h3.3v1.0h-3.3zM593.4 461.0h2.8v1.0h-2.8zM595.9 461.0h0.4v1.0h-0.4zM600.0 364.0h2.8v1.0h-2.8zM606.5 461.0h2.3v1.0h-2.3zM608.5 461.0h1.3v1.0h-1.3zM609.5 461.0h1.8v1.0h-1.8zM614.0 401.0h1.6v61.0h-1.6zM613.5 365.0h2.1v36.0h-2.1zM611.0 340.0h3.3v25.0h-3.3zM614.0 340.0h1.3v25.0h-1.3zM615.0 340.0h0.6v25.0h-0.6zM611.0 338.0h2.3v2.0h-2.3zM614.0 338.0h1.6v2.0h-1.6zM618.3 401.0h1.6v61.0h-1.6zM615.3 365.0h1.8v36.0h-1.8zM616.8 365.0h1.8v36.0h-1.8zM615.3 364.0h2.3v1.0h-2.3zM617.3 364.0h2.6v1.0h-2.6zM619.6 461.0h3.3v1.0h-3.3zM624.0 401.0h1.8v61.0h-1.8zM625.5 401.0h2.3v61.0h-2.3zM627.5 401.0h1.8v61.0h-1.8zM629.0 401.0h1.3v61.0h-1.3zM630.0 401.0h0.7v61.0h-0.7zM630.4 401.0h1.3v61.0h-1.3zM633.4 401.0h1.7v61.0h-1.7zM633.4 365.0h1.7v36.0h-1.7zM630.4 340.0h2.8v25.0h-2.8zM633.9 340.0h1.2v25.0h-1.2zM630.4 304.0h2.8v36.0h-2.8zM632.9 304.0h2.2v36.0h-2.2zM634.8 461.0h2.3v1.0h-2.3zM636.8 461.0h2.3v1.0h-2.3zM638.8 461.0h1.3v1.0h-1.3zM641.0 461.0h1.8v1.0h-1.8zM642.5 461.0h1.8v1.0h-1.8zM644.0 461.0h2.3v1.0h-2.3zM653.5 401.0h2.8v61.0h-2.8zM658.0 401.0h2.8v61.0h-2.8zM660.5 401.0h2.8v61.0h-2.8zM663.0 401.0h2.3v61.0h-2.3zM665.0 401.0h2.3v61.0h-2.3zM665.0 365.0h2.3v36.0h-2.3zM665.0 340.0h2.3v25.0h-2.3zM663.0 338.0h2.3v2.0h-2.3zM669.0 401.0h1.3v61.0h-1.3zM670.0 401.0h1.8v61.0h-1.8zM669.0 340.0h2.3v25.0h-2.3zM671.0 340.0h0.8v25.0h-0.8zM667.0 306.0h1.3v34.0h-1.3zM668.0 306.0h3.3v34.0h-3.3zM671.0 306.0h0.8v34.0h-0.8zM671.5 401.0h1.3v61.0h-1.3zM674.0 401.0h2.3v61.0h-2.3zM676.0 401.0h3.3v61.0h-3.3zM679.0 401.0h1.3v61.0h-1.3zM676.0 365.0h2.8v36.0h-2.8zM678.5 365.0h1.8v36.0h-1.8zM676.0 340.0h1.3v25.0h-1.3zM677.0 340.0h2.8v25.0h-2.8zM679.5 340.0h0.8v25.0h-0.8zM676.0 306.0h1.8v34.0h-1.8zM677.5 306.0h1.8v34.0h-1.8zM679.0 306.0h1.3v34.0h-1.3zM680.0 401.0h3.3v61.0h-3.3zM685.0 401.0h3.3v61.0h-3.3zM688.0 401.0h3.3v61.0h-3.3zM691.0 401.0h2.3v61.0h-2.3zM693.0 401.0h1.8v61.0h-1.8zM694.5 401.0h0.8v61.0h-0.8zM698.0 461.0h2.8v1.0h-2.8zM704.5 461.0h2.8v1.0h-2.8zM707.0 461.0h1.3v1.0h-1.3zM710.5 401.0h2.3v61.0h-2.3zM723.0 461.0h2.3v1.0h-2.3zM727.0 461.0h0.9v1.0h-0.9zM745.0 461.0h2.3v1.0h-2.3zM747.0 461.0h2.3v1.0h-2.3zM749.0 461.0h2.3v1.0h-2.3zM751.0 461.0h1.3v1.0h-1.3zM752.0 401.0h1.3v61.0h-1.3zM753.0 401.0h1.8v61.0h-1.8zM754.5 401.0h1.3v61.0h-1.3zM752.0 366.0h3.3v35.0h-3.3zM766.0 402.0h2.3v60.0h-2.3zM780.6 365.0h2.7v36.0h-2.7zM780.6 364.0h2.7v1.0h-2.7zM783.0 401.0h3.3v61.0h-3.3zM784.5 365.0h1.8v36.0h-1.8zM783.0 340.0h3.3v25.0h-3.3zM783.0 304.0h2.3v36.0h-2.3zM785.0 304.0h1.3v36.0h-1.3zM783.0 278.0h2.3v26.0h-2.3zM785.0 278.0h1.3v26.0h-1.3zM783.0 268.0h2.8v10.0h-2.8zM785.0 250.0h1.3v18.0h-1.3zM783.0 230.0h2.3v20.0h-2.3zM783.0 206.0h2.3v24.0h-2.3zM785.0 206.0h1.3v24.0h-1.3zM787.5 401.0h2.3v61.0h-2.3zM786.0 365.0h2.3v36.0h-2.3zM789.0 365.0h2.3v36.0h-2.3zM788.5 340.0h1.3v25.0h-1.3zM789.5 340.0h1.8v25.0h-1.8zM788.0 335.0h2.3v5.0h-2.3zM790.0 335.0h1.3v5.0h-1.3zM793.5 401.0h2.3v61.0h-2.3zM795.5 401.0h3.3v61.0h-3.3zM798.5 401.0h1.3v61.0h-1.3zM799.5 401.0h2.3v61.0h-2.3zM801.5 401.0h0.8v61.0h-0.8zM798.5 399.0h3.3v2.0h-3.3zM801.5 399.0h0.8v2.0h-0.8zM802.4 50.0h1.8v14.0h-1.8zM803.9 50.0h1.3v14.0h-1.3zM804.9 50.0h1.3v14.0h-1.3zM805.9 50.0h1.3v14.0h-1.3zM806.9 50.0h2.8v14.0h-2.8zM809.4 50.0h3.3v14.0h-3.3zM802.4 39.5h1.8v10.5h-1.8zM803.9 39.5h2.8v10.5h-2.8zM806.4 39.5h2.3v10.5h-2.3zM808.4 39.5h2.8v10.5h-2.8zM810.9 39.5h2.3v10.5h-2.3zM812.9 39.5h0.9v10.5h-0.9zM802.0 401.0h2.8v61.0h-2.8zM804.5 401.0h2.3v61.0h-2.3zM808.0 401.0h1.3v61.0h-1.3zM804.0 365.0h1.3v36.0h-1.3zM806.5 365.0h2.3v36.0h-2.3zM808.5 365.0h0.8v36.0h-0.8zM802.0 340.0h2.8v25.0h-2.8zM804.5 340.0h1.8v25.0h-1.8zM806.0 340.0h1.3v25.0h-1.3zM807.0 340.0h2.3v25.0h-2.3zM809.0 365.0h3.3v36.0h-3.3zM812.0 365.0h1.6v36.0h-1.6zM809.0 340.0h2.3v25.0h-2.3zM809.0 304.0h1.3v36.0h-1.3zM810.0 304.0h1.3v36.0h-1.3zM811.0 304.0h2.6v36.0h-2.6zM812.0 300.0h1.6v4.0h-1.6zM813.3 20.0h1.3v19.5h-1.3zM814.3 20.0h2.8v19.5h-2.8zM819.3 20.0h2.3v19.5h-2.3zM821.3 20.0h3.3v19.5h-3.3zM813.3 4.3h1.8v15.7h-1.8zM814.8 4.3h3.3v15.7h-3.3zM817.8 4.3h1.3v15.7h-1.3zM818.8 4.3h2.3v15.7h-2.3zM820.8 4.3h1.3v15.7h-1.3zM821.8 4.3h3.1v15.7h-3.1zM814.0 401.0h2.3v61.0h-2.3zM813.0 365.0h2.3v36.0h-2.3zM815.0 365.0h1.3v36.0h-1.3zM813.0 340.0h2.8v25.0h-2.8zM815.5 340.0h0.8v25.0h-0.8zM813.0 304.0h2.8v36.0h-2.8zM813.0 278.0h1.8v26.0h-1.8zM813.0 270.0h2.8v8.0h-2.8zM815.5 270.0h0.8v8.0h-0.8zM816.0 401.0h1.8v61.0h-1.8zM817.5 401.0h2.8v61.0h-2.8zM821.5 401.0h1.8v61.0h-1.8zM824.0 401.0h3.3v61.0h-3.3zM816.0 365.0h2.3v36.0h-2.3zM821.0 365.0h2.3v36.0h-2.3zM823.0 365.0h1.3v36.0h-1.3zM824.0 365.0h1.8v36.0h-1.8zM825.5 365.0h1.8v36.0h-1.8zM819.0 340.0h2.3v25.0h-2.3zM821.0 340.0h1.3v25.0h-1.3zM824.5 340.0h1.8v25.0h-1.8zM826.0 340.0h1.3v25.0h-1.3zM816.0 335.0h3.3v5.0h-3.3zM819.0 335.0h1.3v5.0h-1.3zM820.0 335.0h1.8v5.0h-1.8zM821.5 335.0h3.3v5.0h-3.3zM824.5 335.0h2.8v5.0h-2.8zM827.0 401.0h1.8v61.0h-1.8zM830.5 401.0h1.8v61.0h-1.8zM827.0 365.0h2.3v36.0h-2.3zM829.0 365.0h2.3v36.0h-2.3zM827.0 342.0h3.3v23.0h-3.3zM831.5 342.0h0.8v23.0h-0.8zM834.5 401.0h1.8v61.0h-1.8zM834.5 365.0h1.8v36.0h-1.8zM834.0 340.0h2.3v25.0h-2.3zM836.0 401.0h1.3v61.0h-1.3zM837.0 401.0h1.3v61.0h-1.3zM836.0 400.0h1.8v1.0h-1.8zM838.0 401.0h2.3v61.0h-2.3zM840.0 401.0h3.3v61.0h-3.3zM843.0 401.0h1.3v61.0h-1.3zM844.0 401.0h2.3v61.0h-2.3zM838.0 365.0h2.3v36.0h-2.3zM844.0 365.0h2.3v36.0h-2.3zM841.0 364.0h2.3v1.0h-2.3zM843.0 364.0h2.8v1.0h-2.8zM845.5 364.0h0.8v1.0h-0.8zM849.5 401.0h2.3v61.0h-2.3zM851.5 401.0h0.8v61.0h-0.8zM846.0 400.0h1.3v1.0h-1.3zM847.0 400.0h1.8v1.0h-1.8zM848.5 400.0h1.3v1.0h-1.3zM849.5 400.0h2.8v1.0h-2.8zM869.0 401.0h2.3v61.0h-2.3zM869.0 365.0h1.8v36.0h-1.8zM869.0 340.0h1.3v25.0h-1.3zM870.0 340.0h1.3v25.0h-1.3zM869.0 304.0h2.3v36.0h-2.3zM869.0 300.0h2.3v4.0h-2.3zM873.0 401.0h2.3v61.0h-2.3zM875.0 401.0h1.3v61.0h-1.3zM871.0 365.0h3.3v36.0h-3.3zM875.0 340.0h1.3v25.0h-1.3zM871.0 304.0h2.3v36.0h-2.3zM874.5 304.0h1.8v36.0h-1.8zM871.0 278.0h1.3v26.0h-1.3zM872.0 278.0h2.8v26.0h-2.8zM874.5 278.0h1.8v26.0h-1.8zM871.0 268.0h1.3v10.0h-1.3zM871.0 250.0h2.3v18.0h-2.3zM873.0 250.0h2.3v18.0h-2.3zM871.0 230.0h1.8v20.0h-1.8zM872.5 230.0h1.3v20.0h-1.3zM873.5 230.0h2.8v20.0h-2.8zM871.0 200.0h1.3v30.0h-1.3zM872.0 200.0h1.8v30.0h-1.8zM873.5 200.0h1.8v30.0h-1.8zM875.0 200.0h1.3v30.0h-1.3zM871.0 170.0h2.3v30.0h-2.3zM873.0 170.0h2.8v30.0h-2.8zM875.5 170.0h0.8v30.0h-0.8zM871.0 150.0h1.3v20.0h-1.3zM874.0 150.0h2.3v20.0h-2.3zM884.0 85.0h3.3v25.0h-3.3zM887.0 85.0h2.3v25.0h-2.3zM892.0 278.0h1.3v22.0h-1.3zM889.0 268.0h2.3v10.0h-2.3zM889.0 250.0h3.3v18.0h-3.3zM892.0 250.0h1.3v18.0h-1.3zM890.5 230.0h2.8v20.0h-2.8zM890.0 200.0h2.3v30.0h-2.3zM892.0 200.0h1.3v30.0h-1.3zM892.0 170.0h1.3v30.0h-1.3zM891.0 140.0h2.3v30.0h-2.3zM889.0 110.0h2.3v30.0h-2.3zM891.0 110.0h2.3v30.0h-2.3zM889.0 401.0h2.3v61.0h-2.3zM892.0 401.0h1.8v61.0h-1.8zM893.5 401.0h1.8v61.0h-1.8zM889.0 400.0h2.3v1.0h-2.3zM891.0 400.0h2.8v1.0h-2.8zM893.5 400.0h1.8v1.0h-1.8zM897.0 401.0h1.3v61.0h-1.3zM896.0 400.0h1.8v1.0h-1.8zM897.5 400.0h2.8v1.0h-2.8zM900.0 401.0h2.3v61.0h-2.3zM900.0 400.0h1.3v1.0h-1.3zM901.0 400.0h2.3v1.0h-2.3zM903.0 400.0h1.3v1.0h-1.3zM904.0 400.0h1.3v1.0h-1.3zM910.0 401.0h2.8v61.0h-2.8zM912.5 401.0h1.8v61.0h-1.8zM910.0 400.0h2.3v1.0h-2.3zM912.0 400.0h2.3v1.0h-2.3zM916.0 401.0h1.3v61.0h-1.3zM917.0 401.0h1.3v61.0h-1.3zM918.0 401.0h2.3v61.0h-2.3zM916.0 400.0h1.3v1.0h-1.3zM917.0 400.0h1.8v1.0h-1.8zM930.0 401.0h3.3v61.0h-3.3zM933.0 401.0h2.3v61.0h-2.3zM937.5 401.0h0.8v61.0h-0.8zM933.0 400.0h2.3v1.0h-2.3zM935.0 400.0h1.3v1.0h-1.3zM936.0 400.0h2.3v1.0h-2.3zM952.0 400.0h1.3v1.0h-1.3zM953.0 400.0h1.3v1.0h-1.3zM960.0 401.0h2.3v61.0h-2.3zM964.0 401.0h2.8v61.0h-2.8zM966.5 401.0h1.8v61.0h-1.8zM960.0 365.0h2.3v36.0h-2.3zM967.5 365.0h0.8v36.0h-0.8zM960.0 364.0h2.3v1.0h-2.3zM962.0 364.0h2.3v1.0h-2.3zM972.0 401.0h2.8v61.0h-2.8zM979.5 401.0h0.8v61.0h-0.8zM974.0 400.0h1.8v1.0h-1.8zM977.5 400.0h2.3v1.0h-2.3zM979.5 400.0h0.8v1.0h-0.8zM982.0 401.0h2.3v61.0h-2.3zM985.5 401.0h2.8v61.0h-2.8zM988.0 401.0h2.3v61.0h-2.3zM984.0 400.0h1.8v1.0h-1.8zM985.5 400.0h3.3v1.0h-3.3zM988.5 400.0h1.8v1.0h-1.8zM996.0 401.0h1.8v61.0h-1.8zM999.0 401.0h1.8v61.0h-1.8zM1000.5 401.0h2.3v61.0h-2.3zM996.0 365.0h1.3v36.0h-1.3zM997.0 365.0h3.3v36.0h-3.3zM1000.0 365.0h2.8v36.0h-2.8zM1002.5 365.0h1.8v36.0h-1.8zM999.5 364.0h2.3v1.0h-2.3zM1001.5 364.0h2.8v1.0h-2.8zM1004.0 364.0h1.8v1.0h-1.8zM1006.0 401.0h2.3v61.0h-2.3zM1011.0 401.0h1.3v61.0h-1.3zM1006.0 365.0h2.3v36.0h-2.3zM1009.0 365.0h2.8v36.0h-2.8zM1011.5 365.0h0.8v36.0h-0.8zM1008.0 340.0h2.3v25.0h-2.3zM1017.0 401.0h2.8v61.0h-2.8zM1019.5 401.0h0.8v61.0h-0.8zM1014.0 400.0h1.3v1.0h-1.3zM1020.0 401.0h1.8v61.0h-1.8zM1024.0 401.0h2.3v61.0h-2.3zM1026.0 401.0h2.3v61.0h-2.3zM1020.0 365.0h1.3v36.0h-1.3zM1023.0 365.0h2.8v36.0h-2.8zM1026.5 365.0h1.8v36.0h-1.8zM1020.0 364.0h3.3v1.0h-3.3zM1023.0 364.0h2.3v1.0h-2.3zM1025.0 364.0h1.3v1.0h-1.3zM1026.0 364.0h1.3v1.0h-1.3zM1027.0 364.0h1.3v1.0h-1.3zM1032.0 401.0h1.8v61.0h-1.8zM1035.5 401.0h1.8v61.0h-1.8zM1032.0 400.0h2.8v1.0h-2.8zM1034.5 400.0h1.8v1.0h-1.8zM1036.0 400.0h1.3v1.0h-1.3zM1037.0 400.0h1.3v1.0h-1.3zM1038.0 400.0h2.3v1.0h-2.3zM1050.0 401.0h1.8v61.0h-1.8zM1051.5 401.0h3.3v61.0h-3.3zM1054.5 401.0h2.8v61.0h-2.8zM1050.0 365.0h1.3v36.0h-1.3zM1051.0 365.0h1.3v36.0h-1.3zM1054.0 365.0h1.3v36.0h-1.3zM1055.0 365.0h1.8v36.0h-1.8zM1053.0 364.0h2.8v1.0h-2.8zM1055.5 364.0h1.8v1.0h-1.8zM1057.0 401.0h2.8v61.0h-2.8zM1059.5 401.0h1.8v61.0h-1.8zM1057.0 400.0h2.3v1.0h-2.3zM1059.0 400.0h2.3v1.0h-2.3zM1065.0 401.0h1.3v61.0h-1.3zM1066.0 401.0h2.8v61.0h-2.8zM1068.5 401.0h0.8v61.0h-0.8zM1065.0 400.0h2.3v1.0h-2.3zM1067.0 400.0h1.3v1.0h-1.3zM1071.0 401.0h2.3v61.0h-2.3zM1074.5 401.0h2.3v61.0h-2.3zM1076.5 401.0h2.3v61.0h-2.3zM1078.5 401.0h3.3v61.0h-3.3zM1081.5 401.0h0.8v61.0h-0.8zM1069.0 400.0h1.3v1.0h-1.3zM1073.0 400.0h1.3v1.0h-1.3zM1074.0 400.0h3.3v1.0h-3.3zM1080.0 400.0h2.3v1.0h-2.3zM1138.5 401.0h1.8v61.0h-1.8zM1136.0 400.0h2.3v1.0h-2.3zM1138.0 400.0h1.3v1.0h-1.3zM1140.0 400.0h2.3v1.0h-2.3zM1163.0 401.0h1.8v61.0h-1.8zM1164.5 401.0h1.8v61.0h-1.8zM1166.0 401.0h2.3v61.0h-2.3zM1168.0 401.0h1.3v61.0h-1.3zM1169.0 401.0h2.3v61.0h-2.3zM1166.0 365.0h2.3v36.0h-2.3zM1170.0 365.0h1.3v36.0h-1.3zM1163.0 364.0h3.3v1.0h-3.3zM1166.0 364.0h2.3v1.0h-2.3zM1168.0 364.0h2.3v1.0h-2.3zM1170.0 364.0h1.3v1.0h-1.3zM1171.0 401.0h1.3v61.0h-1.3zM1172.0 401.0h1.3v61.0h-1.3zM1173.0 401.0h3.3v61.0h-3.3zM1171.0 365.0h1.3v36.0h-1.3zM1173.5 365.0h2.8v36.0h-2.8zM1176.0 365.0h1.3v36.0h-1.3zM1171.0 340.0h1.3v25.0h-1.3zM1172.0 340.0h2.8v25.0h-2.8zM1174.5 340.0h2.8v25.0h-2.8zM1177.0 401.0h3.3v61.0h-3.3zM1177.0 400.0h1.3v1.0h-1.3zM1178.0 400.0h2.3v1.0h-2.3zM1181.0 401.0h1.3v61.0h-1.3zM1182.0 401.0h2.8v61.0h-2.8zM1184.5 401.0h2.3v61.0h-2.3zM1186.5 401.0h0.8v61.0h-0.8zM1181.0 400.0h2.8v1.0h-2.8zM1183.5 400.0h1.8v1.0h-1.8zM1186.0 400.0h1.3v1.0h-1.3zM1187.0 401.0h1.3v61.0h-1.3zM1188.0 401.0h2.3v61.0h-2.3zM1190.0 401.0h2.3v61.0h-2.3zM1192.0 401.0h1.8v61.0h-1.8zM1193.5 401.0h2.3v61.0h-2.3zM1195.5 401.0h1.8v61.0h-1.8zM1188.0 400.0h2.8v1.0h-2.8zM1190.5 400.0h2.3v1.0h-2.3zM1195.5 400.0h1.8v1.0h-1.8zM1197.0 401.0h2.3v61.0h-2.3zM1199.0 401.0h1.8v61.0h-1.8zM1200.5 401.0h2.8v61.0h-2.8zM1203.0 401.0h2.3v61.0h-2.3zM1200.0 365.0h2.8v36.0h-2.8zM1202.5 365.0h2.8v36.0h-2.8zM1199.5 364.0h1.3v1.0h-1.3zM1205.0 401.0h1.3v61.0h-1.3zM1206.0 401.0h2.8v61.0h-2.8zM1208.5 401.0h2.8v61.0h-2.8zM1211.0 401.0h2.8v61.0h-2.8zM1208.0 365.0h1.3v36.0h-1.3zM1209.0 365.0h1.8v36.0h-1.8zM1214.5 365.0h0.8v36.0h-0.8zM1205.0 340.0h3.3v25.0h-3.3zM1208.0 340.0h2.3v25.0h-2.3zM1210.0 340.0h2.3v25.0h-2.3zM1212.0 340.0h1.8v25.0h-1.8zM1213.5 340.0h1.8v25.0h-1.8zM1207.0 304.0h1.8v36.0h-1.8zM1210.5 304.0h2.8v36.0h-2.8zM1213.0 304.0h2.3v36.0h-2.3zM1205.0 278.0h1.3v26.0h-1.3zM1206.0 278.0h2.3v26.0h-2.3zM1208.0 278.0h2.3v26.0h-2.3zM1210.0 278.0h3.3v26.0h-3.3zM1213.0 278.0h2.3v26.0h-2.3zM1205.0 270.0h1.8v8.0h-1.8zM1208.0 270.0h2.8v8.0h-2.8zM1210.5 270.0h2.8v8.0h-2.8zM1213.0 270.0h2.3v8.0h-2.3zM1215.0 401.0h3.3v61.0h-3.3zM1218.0 401.0h3.3v61.0h-3.3zM1221.0 401.0h1.8v61.0h-1.8zM1222.5 401.0h2.3v61.0h-2.3zM1216.0 400.0h2.3v1.0h-2.3zM1218.0 400.0h1.3v1.0h-1.3zM1219.0 400.0h1.8v1.0h-1.8zM1220.5 400.0h3.3v1.0h-3.3zM1223.5 400.0h2.8v1.0h-2.8zM1226.0 400.0h1.3v1.0h-1.3zM1227.0 401.0h1.8v61.0h-1.8zM1228.5 401.0h1.8v61.0h-1.8zM1230.0 401.0h1.8v61.0h-1.8zM1231.5 401.0h1.3v61.0h-1.3zM1227.0 365.0h3.3v36.0h-3.3zM1230.0 365.0h1.8v36.0h-1.8zM1231.5 365.0h2.8v36.0h-2.8zM1234.0 365.0h1.3v36.0h-1.3zM1229.5 340.0h1.3v25.0h-1.3zM1230.5 340.0h2.3v25.0h-2.3zM1232.5 340.0h2.8v25.0h-2.8zM1227.0 304.0h2.3v36.0h-2.3zM1229.0 304.0h3.3v36.0h-3.3zM1232.0 304.0h2.3v36.0h-2.3zM1232.0 401.0h2.3v61.0h-2.3zM1230.0 340.0h2.3v25.0h-2.3zM1232.0 340.0h1.3v25.0h-1.3zM1233.0 340.0h1.3v25.0h-1.3zM1230.0 305.0h3.3v35.0h-3.3zM1234.0 401.0h2.3v61.0h-2.3zM1236.0 401.0h2.8v61.0h-2.8zM1238.5 401.0h1.8v61.0h-1.8zM1234.0 365.0h1.3v36.0h-1.3zM1237.5 365.0h1.8v36.0h-1.8zM1240.0 401.0h2.3v61.0h-2.3zM1242.0 401.0h1.3v61.0h-1.3zM1240.0 365.0h2.3v36.0h-2.3zM1240.0 278.0h3.3v26.0h-3.3zM1240.0 268.0h1.3v10.0h-1.3zM1241.0 268.0h1.3v10.0h-1.3zM1242.0 268.0h1.3v10.0h-1.3zM1243.0 365.0h2.3v36.0h-2.3zM1245.0 365.0h1.3v36.0h-1.3zM1246.0 365.0h3.3v36.0h-3.3zM1249.0 365.0h1.3v36.0h-1.3zM1250.0 401.0h2.3v61.0h-2.3zM1252.0 401.0h1.8v61.0h-1.8zM1254.0 401.0h1.3v61.0h-1.3zM1259.5 401.0h1.3v61.0h-1.3zM1260.5 401.0h1.8v61.0h-1.8zM1262.0 401.0h2.8v61.0h-2.8zM1264.5 401.0h1.3v61.0h-1.3zM1265.5 401.0h1.8v61.0h-1.8zM1268.0 401.0h2.3v61.0h-2.3zM1270.0 401.0h2.3v61.0h-2.3zM1272.0 401.0h1.3v61.0h-1.3zM1254.0 365.0h1.3v36.0h-1.3zM1255.0 365.0h1.8v36.0h-1.8zM1258.5 365.0h2.3v36.0h-2.3zM1260.5 365.0h2.3v36.0h-2.3zM1262.5 365.0h2.8v36.0h-2.8zM1265.0 365.0h1.8v36.0h-1.8zM1266.5 365.0h2.3v36.0h-2.3zM1270.5 365.0h2.3v36.0h-2.3zM1272.5 365.0h0.8v36.0h-0.8zM1256.0 340.0h1.3v25.0h-1.3zM1257.0 340.0h2.3v25.0h-2.3zM1259.0 340.0h1.3v25.0h-1.3zM1260.0 340.0h1.8v25.0h-1.8zM1261.5 340.0h2.3v25.0h-2.3zM1263.5 340.0h2.3v25.0h-2.3zM1267.5 340.0h2.3v25.0h-2.3zM1269.5 340.0h1.3v25.0h-1.3zM1270.5 340.0h2.8v25.0h-2.8zM1254.0 339.0h3.3v1.0h-3.3zM1257.0 339.0h2.8v1.0h-2.8zM1259.5 339.0h3.3v1.0h-3.3zM1262.5 339.0h2.3v1.0h-2.3zM1264.5 339.0h1.3v1.0h-1.3zM1268.0 339.0h1.3v1.0h-1.3zM1271.0 339.0h2.3v1.0h-2.3zM1273.0 401.0h2.8v61.0h-2.8zM1275.5 401.0h2.8v61.0h-2.8zM1273.0 365.0h1.3v36.0h-1.3zM1276.5 365.0h1.8v36.0h-1.8zM1273.0 340.0h2.3v25.0h-2.3zM1275.0 340.0h1.3v25.0h-1.3zM1276.0 340.0h1.8v25.0h-1.8zM1273.0 304.0h1.3v36.0h-1.3zM1274.0 304.0h2.3v36.0h-2.3zM1276.0 304.0h1.8v36.0h-1.8zM1273.0 290.0h1.3v14.0h-1.3zM1276.5 290.0h1.8v14.0h-1.8zM1278.0 401.0h1.3v61.0h-1.3zM1278.0 365.0h1.8v36.0h-1.8zM1279.5 365.0h2.3v36.0h-2.3zM1278.0 340.0h2.3v25.0h-2.3zM1280.0 340.0h2.3v25.0h-2.3zM1278.0 304.0h2.8v36.0h-2.8zM1280.5 304.0h1.8v36.0h-1.8zM1278.0 278.0h2.3v26.0h-2.3zM1280.0 268.0h2.3v10.0h-2.3zM1278.0 250.0h1.3v18.0h-1.3zM1280.5 250.0h1.8v18.0h-1.8zM1281.0 230.0h1.3v20.0h-1.3zM1278.0 200.0h3.3v30.0h-3.3zM1281.0 200.0h1.3v30.0h-1.3zM1278.0 182.0h3.3v18.0h-3.3zM1281.0 182.0h1.3v18.0h-1.3zM1282.0 401.0h2.3v61.0h-2.3zM1282.0 365.0h1.3v36.0h-1.3zM1282.0 340.0h2.3v25.0h-2.3zM1282.0 278.0h2.3v26.0h-2.3zM1282.0 268.0h1.3v10.0h-1.3zM1282.0 250.0h2.3v18.0h-2.3zM1284.0 401.0h1.3v61.0h-1.3zM1285.0 401.0h1.3v61.0h-1.3zM1287.0 401.0h1.8v61.0h-1.8zM1284.0 365.0h1.3v36.0h-1.3zM1285.0 365.0h3.3v36.0h-3.3zM1290.0 365.0h2.3v36.0h-2.3zM1288.5 340.0h2.3v25.0h-2.3zM1290.5 340.0h1.8v25.0h-1.8zM1284.0 339.0h3.3v1.0h-3.3zM1287.0 339.0h2.3v1.0h-2.3zM1289.0 339.0h3.3v1.0h-3.3zM1297.5 401.0h1.3v61.0h-1.3zM1298.5 401.0h2.3v61.0h-2.3zM1302.5 401.0h1.8v61.0h-1.8zM1304.0 401.0h2.8v61.0h-2.8zM1306.5 401.0h3.3v61.0h-3.3zM1312.5 401.0h1.8v61.0h-1.8zM1314.0 401.0h1.3v61.0h-1.3zM1315.0 401.0h1.8v61.0h-1.8zM1316.5 401.0h2.8v61.0h-2.8zM1323.0 401.0h2.3v61.0h-2.3zM1325.0 401.0h1.3v61.0h-1.3zM1316.0 365.0h2.8v36.0h-2.8zM1318.5 365.0h2.3v36.0h-2.3zM1320.5 365.0h2.3v36.0h-2.3zM1322.5 365.0h3.3v36.0h-3.3zM1325.5 365.0h0.8v36.0h-0.8zM1316.0 364.0h2.8v1.0h-2.8zM1320.5 364.0h3.3v1.0h-3.3zM1323.5 364.0h1.3v1.0h-1.3zM1324.5 364.0h1.8v1.0h-1.8zM1326.0 401.0h2.3v61.0h-2.3zM1326.0 365.0h1.8v36.0h-1.8zM1326.0 340.0h1.8v25.0h-1.8zM1327.5 340.0h0.8v25.0h-0.8zM1328.0 401.0h3.3v61.0h-3.3zM1331.0 401.0h1.3v61.0h-1.3zM1330.0 340.0h1.3v25.0h-1.3zM1331.0 340.0h1.3v25.0h-1.3zM1331.0 304.0h1.3v36.0h-1.3zM1329.0 278.0h1.8v26.0h-1.8zM1330.5 278.0h1.8v26.0h-1.8zM1328.0 268.0h2.8v10.0h-2.8zM1330.5 268.0h1.8v10.0h-1.8zM1332.0 401.0h1.3v61.0h-1.3zM1333.0 401.0h1.3v61.0h-1.3zM1332.0 365.0h2.3v36.0h-2.3zM1332.0 340.0h2.3v25.0h-2.3zM1334.0 401.0h2.8v61.0h-2.8zM1336.5 401.0h2.3v61.0h-2.3zM1338.5 401.0h1.3v61.0h-1.3zM1342.5 401.0h1.8v61.0h-1.8zM1346.0 401.0h2.3v61.0h-2.3zM1348.0 401.0h2.3v61.0h-2.3zM1334.0 365.0h2.3v36.0h-2.3zM1336.0 365.0h3.3v36.0h-3.3zM1339.0 365.0h2.3v36.0h-2.3zM1341.0 365.0h2.3v36.0h-2.3zM1343.0 365.0h2.3v36.0h-2.3zM1345.0 365.0h2.3v36.0h-2.3zM1347.0 365.0h2.3v36.0h-2.3zM1334.0 340.0h1.3v25.0h-1.3zM1335.0 340.0h2.3v25.0h-2.3zM1337.0 340.0h2.8v25.0h-2.8zM1339.5 340.0h1.8v25.0h-1.8zM1341.0 340.0h1.3v25.0h-1.3zM1342.0 340.0h2.3v25.0h-2.3zM1344.0 340.0h1.3v25.0h-1.3zM1345.0 340.0h1.3v25.0h-1.3zM1346.0 340.0h2.8v25.0h-2.8zM1348.5 340.0h1.8v25.0h-1.8zM1351.0 401.0h2.8v61.0h-2.8zM1353.5 401.0h1.8v61.0h-1.8zM1355.0 401.0h2.3v61.0h-2.3zM1357.0 401.0h3.3v61.0h-3.3zM1360.0 401.0h2.8v61.0h-2.8zM1366.0 401.0h2.3v61.0h-2.3zM1368.0 401.0h2.3v61.0h-2.3zM1358.5 365.0h2.8v36.0h-2.8zM1361.0 365.0h1.8v36.0h-1.8zM1362.5 365.0h1.3v36.0h-1.3zM1363.5 365.0h2.8v36.0h-2.8zM1366.0 365.0h1.3v36.0h-1.3zM1367.0 365.0h2.3v36.0h-2.3zM1351.0 364.0h1.8v1.0h-1.8zM1352.5 364.0h2.8v1.0h-2.8zM1355.0 364.0h2.3v1.0h-2.3zM1357.0 364.0h1.8v1.0h-1.8zM1358.5 364.0h2.8v1.0h-2.8zM1362.0 364.0h2.3v1.0h-2.3zM1365.0 364.0h3.3v1.0h-3.3zM1369.0 364.0h1.3v1.0h-1.3zM1370.0 401.0h2.8v61.0h-2.8zM1372.5 401.0h2.3v61.0h-2.3zM1374.5 401.0h2.3v61.0h-2.3zM1376.5 401.0h2.3v61.0h-2.3zM1378.5 401.0h1.8v61.0h-1.8zM1370.0 365.0h1.8v36.0h-1.8zM1374.0 365.0h1.8v36.0h-1.8zM1375.5 365.0h2.3v36.0h-2.3zM1377.5 365.0h2.3v36.0h-2.3zM1379.5 365.0h0.8v36.0h-0.8zM1370.0 340.0h1.3v25.0h-1.3zM1372.0 340.0h2.3v25.0h-2.3zM1374.0 340.0h1.8v25.0h-1.8zM1375.5 340.0h3.3v25.0h-3.3zM1379.5 200.0h3.3v13.0h-3.3zM1379.5 170.0h1.3v30.0h-1.3zM1383.5 170.0h1.8v30.0h-1.8zM1379.5 146.0h2.3v24.0h-2.3zM1381.5 146.0h1.8v24.0h-1.8zM1383.0 146.0h2.3v24.0h-2.3zM1385.0 146.0h1.3v24.0h-1.3zM1382.0 278.0h2.3v22.0h-2.3zM1386.0 278.0h1.8v22.0h-1.8zM1386.5 268.0h1.8v10.0h-1.8zM1384.5 250.0h2.3v18.0h-2.3zM1386.5 250.0h1.8v18.0h-1.8zM1384.0 230.0h3.3v20.0h-3.3zM1382.0 213.0h3.3v17.0h-3.3zM1385.0 213.0h1.3v17.0h-1.3zM1390.0 121.0h2.3v17.0h-2.3zM1392.0 121.0h1.3v17.0h-1.3zM1393.0 121.0h2.3v17.0h-2.3zM1395.0 121.0h2.3v17.0h-2.3zM1380.0 401.0h1.3v61.0h-1.3zM1381.0 401.0h3.3v61.0h-3.3zM1384.0 401.0h2.8v61.0h-2.8zM1380.0 365.0h3.3v36.0h-3.3zM1384.0 365.0h1.3v36.0h-1.3zM1386.0 365.0h1.8v36.0h-1.8zM1387.5 365.0h0.8v36.0h-0.8zM1380.0 340.0h1.3v25.0h-1.3zM1382.5 340.0h2.3v25.0h-2.3zM1384.5 340.0h1.8v25.0h-1.8zM1386.0 340.0h1.8v25.0h-1.8zM1387.5 340.0h0.8v25.0h-0.8zM1380.0 304.0h2.8v36.0h-2.8zM1384.5 304.0h2.8v36.0h-2.8zM1387.0 304.0h1.3v36.0h-1.3zM1380.0 300.0h2.8v4.0h-2.8zM1382.5 300.0h2.3v4.0h-2.3zM1384.5 300.0h1.8v4.0h-1.8zM1386.0 300.0h2.3v4.0h-2.3zM1388.0 401.0h3.3v61.0h-3.3zM1392.5 401.0h3.3v61.0h-3.3zM1395.5 401.0h1.8v61.0h-1.8zM1398.0 401.0h3.3v61.0h-3.3zM1403.5 401.0h1.3v61.0h-1.3zM1404.5 401.0h1.3v61.0h-1.3zM1405.5 401.0h1.8v61.0h-1.8zM1389.0 365.0h1.3v36.0h-1.3zM1392.0 365.0h1.3v36.0h-1.3zM1393.0 365.0h3.3v36.0h-3.3zM1399.0 365.0h1.8v36.0h-1.8zM1400.5 365.0h3.3v36.0h-3.3zM1406.5 365.0h1.8v36.0h-1.8zM1408.0 365.0h1.3v36.0h-1.3zM1388.0 364.0h3.3v1.0h-3.3zM1393.5 364.0h3.3v1.0h-3.3zM1396.5 364.0h2.3v1.0h-2.3zM1398.5 364.0h3.3v1.0h-3.3zM1401.5 364.0h2.3v1.0h-2.3zM1403.5 364.0h2.8v1.0h-2.8zM1406.0 364.0h2.8v1.0h-2.8zM1409.0 401.0h1.8v61.0h-1.8zM1410.5 401.0h0.8v61.0h-0.8zM1409.0 365.0h2.3v36.0h-2.3zM1411.0 401.0h2.8v61.0h-2.8zM1413.5 401.0h2.8v61.0h-2.8zM1416.0 401.0h1.8v61.0h-1.8zM1417.5 401.0h1.8v61.0h-1.8zM1411.0 365.0h1.3v36.0h-1.3zM1415.0 365.0h2.8v36.0h-2.8zM1411.0 340.0h2.3v25.0h-2.3zM1413.0 340.0h1.3v25.0h-1.3zM1414.0 340.0h1.3v25.0h-1.3zM1415.0 340.0h3.3v25.0h-3.3zM1418.0 340.0h1.3v25.0h-1.3zM1421.0 401.0h2.3v61.0h-2.3zM1423.0 401.0h3.3v61.0h-3.3zM1426.0 401.0h2.8v61.0h-2.8zM1428.5 401.0h2.8v61.0h-2.8zM1431.0 401.0h1.8v61.0h-1.8zM1432.5 401.0h3.3v61.0h-3.3zM1435.5 401.0h1.3v61.0h-1.3zM1422.0 365.0h1.3v36.0h-1.3zM1423.0 365.0h3.3v36.0h-3.3zM1426.0 365.0h2.3v36.0h-2.3zM1428.0 365.0h1.3v36.0h-1.3zM1429.0 365.0h2.3v36.0h-2.3zM1431.0 365.0h3.3v36.0h-3.3zM1434.0 365.0h2.8v36.0h-2.8zM1436.5 365.0h1.8v36.0h-1.8zM1424.0 340.0h2.8v25.0h-2.8zM1426.5 340.0h1.3v25.0h-1.3zM1429.0 340.0h2.3v25.0h-2.3zM1431.0 340.0h2.3v25.0h-2.3zM1436.0 340.0h2.3v25.0h-2.3zM1439.0 401.0h2.3v61.0h-2.3zM1441.0 401.0h2.8v61.0h-2.8zM1443.5 401.0h2.8v61.0h-2.8zM1446.0 401.0h1.3v61.0h-1.3zM1439.0 365.0h1.3v36.0h-1.3zM1440.0 365.0h2.8v36.0h-2.8zM1442.5 365.0h2.3v36.0h-2.3zM1444.5 365.0h2.8v36.0h-2.8zM1439.0 340.0h2.8v25.0h-2.8zM1443.0 340.0h2.3v25.0h-2.3zM1446.5 340.0h0.8v25.0h-0.8zM1441.0 304.0h1.3v36.0h-1.3zM1442.0 304.0h1.3v36.0h-1.3zM1443.0 304.0h1.3v36.0h-1.3zM1446.5 304.0h0.8v36.0h-0.8zM1443.5 542.0h1.3v62.0h-1.3zM1444.5 542.0h2.3v62.0h-2.3zM1446.5 542.0h0.8v62.0h-0.8zM1449.5 401.0h1.8v61.0h-1.8zM1453.0 401.0h1.3v61.0h-1.3zM1454.0 401.0h2.3v61.0h-2.3zM1447.0 365.0h2.3v36.0h-2.3zM1449.0 365.0h1.3v36.0h-1.3zM1450.0 365.0h1.8v36.0h-1.8zM1451.5 365.0h2.8v36.0h-2.8zM1454.0 365.0h2.3v36.0h-2.3zM1447.0 340.0h1.3v25.0h-1.3zM1454.0 340.0h2.8v25.0h-2.8zM1456.5 340.0h0.8v25.0h-0.8zM1447.0 304.0h2.3v36.0h-2.3zM1449.0 304.0h1.3v36.0h-1.3zM1450.0 304.0h2.3v36.0h-2.3zM1452.0 304.0h1.3v36.0h-1.3zM1453.0 304.0h1.3v36.0h-1.3zM1454.0 304.0h2.3v36.0h-2.3zM1456.0 304.0h1.3v36.0h-1.3zM1450.0 278.0h2.8v26.0h-2.8zM1454.5 278.0h1.8v26.0h-1.8zM1449.0 270.0h3.3v8.0h-3.3zM1452.0 270.0h1.3v8.0h-1.3zM1455.0 270.0h2.3v8.0h-2.3zM1457.0 401.0h1.3v61.0h-1.3zM1458.0 401.0h2.8v61.0h-2.8zM1460.5 401.0h2.8v61.0h-2.8zM1466.0 401.0h1.3v61.0h-1.3zM1457.0 400.0h2.3v1.0h-2.3zM1459.0 400.0h1.3v1.0h-1.3zM1465.0 400.0h2.3v1.0h-2.3zM1476.0 401.0h2.3v61.0h-2.3zM1503.0 401.0h2.8v61.0h-2.8zM1505.5 401.0h1.8v61.0h-1.8zM1503.0 400.0h1.3v1.0h-1.3zM1505.5 400.0h1.8v1.0h-1.8zM1508.0 401.0h2.3v61.0h-2.3zM1510.0 401.0h3.3v61.0h-3.3zM1513.0 401.0h2.3v61.0h-2.3zM1509.0 365.0h3.3v36.0h-3.3zM1512.0 365.0h2.3v36.0h-2.3zM1507.0 364.0h2.3v1.0h-2.3zM1509.0 364.0h1.8v1.0h-1.8zM1510.5 364.0h3.3v1.0h-3.3zM1513.5 364.0h1.8v1.0h-1.8zM1515.0 401.0h3.3v61.0h-3.3zM1520.5 401.0h2.3v61.0h-2.3zM1522.5 401.0h2.3v61.0h-2.3zM1515.0 366.0h1.3v35.0h-1.3zM1518.0 366.0h2.8v35.0h-2.8zM1520.5 366.0h2.8v35.0h-2.8zM1523.0 366.0h2.8v35.0h-2.8zM1525.5 366.0h1.8v35.0h-1.8zM1527.0 401.0h2.8v61.0h-2.8zM1531.0 401.0h3.3v61.0h-3.3zM1534.0 401.0h2.3v61.0h-2.3zM1527.0 366.0h1.8v35.0h-1.8zM1528.5 366.0h2.3v35.0h-2.3zM1530.5 366.0h2.3v35.0h-2.3zM1534.0 366.0h1.3v35.0h-1.3zM1536.0 366.0h2.8v35.0h-2.8zM1538.5 366.0h0.8v35.0h-0.8zM1540.5 401.0h2.8v61.0h-2.8zM1543.0 401.0h2.8v61.0h-2.8zM1548.0 401.0h1.8v61.0h-1.8zM1549.5 401.0h1.8v61.0h-1.8zM1539.0 365.0h2.3v36.0h-2.3zM1541.0 365.0h1.3v36.0h-1.3zM1542.0 365.0h2.3v36.0h-2.3zM1544.0 365.0h3.3v36.0h-3.3zM1547.0 365.0h2.3v36.0h-2.3zM1549.0 365.0h1.3v36.0h-1.3zM1539.0 364.0h2.8v1.0h-2.8zM1541.5 364.0h1.3v1.0h-1.3zM1546.0 364.0h2.3v1.0h-2.3zM1548.0 364.0h1.3v1.0h-1.3zM1549.0 364.0h1.8v1.0h-1.8zM1550.5 364.0h0.8v1.0h-0.8zM1551.0 401.0h1.3v61.0h-1.3zM1552.0 401.0h3.3v61.0h-3.3zM1555.0 401.0h2.3v61.0h-2.3zM1551.0 366.0h1.3v35.0h-1.3zM1552.0 366.0h1.8v35.0h-1.8zM1553.5 366.0h2.3v35.0h-2.3zM1555.5 366.0h1.8v35.0h-1.8zM1557.0 401.0h2.8v61.0h-2.8zM1557.0 365.0h2.3v36.0h-2.3zM1559.0 365.0h0.8v36.0h-0.8zM1557.0 340.0h2.8v25.0h-2.8zM1557.0 304.0h2.3v36.0h-2.3zM1559.0 304.0h0.8v36.0h-0.8zM1557.0 280.0h2.8v24.0h-2.8zM1556.0 401.0h2.3v61.0h-2.3zM1559.0 401.0h1.3v61.0h-1.3zM1556.0 365.0h2.8v36.0h-2.8zM1558.5 365.0h1.8v36.0h-1.8zM1556.0 364.0h3.3v1.0h-3.3zM1559.0 364.0h1.3v1.0h-1.3z"/><path fill="#2440be" d="M4.0 461.0h1.8v1.0h-1.8zM5.5 461.0h3.3v1.0h-3.3zM12.0 461.0h2.3v1.0h-2.3zM19.0 401.0h2.3v61.0h-2.3zM21.0 401.0h2.3v61.0h-2.3zM106.5 401.0h2.3v61.0h-2.3zM108.5 401.0h0.4v61.0h-0.4zM106.0 365.0h2.3v36.0h-2.3zM118.1 401.0h1.3v61.0h-1.3zM126.6 401.0h1.8v61.0h-1.8zM135.2 365.0h0.8v36.0h-0.8zM162.5 401.0h3.3v61.0h-3.3zM161.0 365.0h3.3v36.0h-3.3zM166.0 401.0h1.3v61.0h-1.3zM167.0 401.0h1.8v61.0h-1.8zM173.0 401.0h2.3v61.0h-2.3zM176.5 401.0h2.3v61.0h-2.3zM175.0 365.0h2.3v36.0h-2.3zM176.0 340.0h1.3v25.0h-1.3zM186.5 401.0h2.3v61.0h-2.3zM181.0 365.0h1.3v36.0h-1.3zM190.5 401.0h3.3v61.0h-3.3zM204.5 401.0h2.8v61.0h-2.8zM213.0 365.0h1.3v36.0h-1.3zM207.0 340.0h3.3v25.0h-3.3zM214.0 401.0h3.3v61.0h-3.3zM236.0 365.0h3.3v36.0h-3.3zM254.5 401.0h2.3v61.0h-2.3zM1574.0 401.0h2.3v61.0h-2.3zM1584.0 365.0h2.3v36.0h-2.3zM1586.0 365.0h2.3v36.0h-2.3zM1588.0 365.0h2.3v36.0h-2.3zM1593.0 401.0h1.3v61.0h-1.3zM1590.0 400.0h2.8v1.0h-2.8zM1606.5 430.0h1.8v32.0h-1.8zM1616.0 401.0h2.3v61.0h-2.3zM1623.0 401.0h2.3v61.0h-2.3zM1623.0 304.0h1.8v36.0h-1.8zM1638.5 401.0h2.3v61.0h-2.3zM1631.0 365.0h2.8v36.0h-2.8zM1651.0 365.0h1.3v36.0h-1.3zM1629.5 340.0h3.3v25.0h-3.3zM1654.0 401.0h2.3v61.0h-2.3zM1662.0 401.0h1.3v61.0h-1.3zM1669.0 401.0h1.8v61.0h-1.8zM1672.0 401.0h3.3v61.0h-3.3zM1677.0 401.0h2.3v61.0h-2.3zM1661.5 365.0h3.3v36.0h-3.3zM1675.5 365.0h2.3v36.0h-2.3zM1663.5 340.0h1.8v25.0h-1.8zM1665.0 340.0h1.8v25.0h-1.8zM1666.5 340.0h2.3v25.0h-2.3zM1676.5 340.0h2.8v25.0h-2.8zM1655.0 304.0h1.3v36.0h-1.3zM1672.0 304.0h2.8v36.0h-2.8zM1684.5 401.0h1.8v61.0h-1.8zM1680.0 365.0h2.8v36.0h-2.8zM1686.0 365.0h1.8v36.0h-1.8zM1687.5 365.0h2.3v36.0h-2.3zM1692.5 365.0h0.8v36.0h-0.8zM1686.0 340.0h2.8v25.0h-2.8zM1692.0 304.0h1.3v36.0h-1.3zM1689.0 268.0h2.3v10.0h-2.3zM1696.5 401.0h1.8v61.0h-1.8zM1694.0 365.0h3.3v36.0h-3.3zM1697.0 365.0h1.3v36.0h-1.3zM1694.0 340.0h2.8v25.0h-2.8zM1695.0 304.0h1.3v36.0h-1.3zM1698.0 401.0h2.8v61.0h-2.8zM1700.5 401.0h1.3v61.0h-1.3zM1701.5 401.0h2.8v61.0h-2.8zM1701.0 365.0h1.8v36.0h-1.8zM1699.0 364.0h1.8v1.0h-1.8zM1715.0 401.0h2.3v61.0h-2.3zM1719.5 401.0h0.8v61.0h-0.8zM1718.0 400.0h1.3v1.0h-1.3zM1724.5 400.0h1.8v1.0h-1.8zM1729.0 400.0h1.3v1.0h-1.3zM1709.0 401.0h1.3v61.0h-1.3zM1721.0 401.0h2.8v61.0h-2.8zM1724.5 401.0h1.8v61.0h-1.8zM1721.0 339.0h2.8v1.0h-2.8zM1762.0 542.0h1.3v62.0h-1.3zM1762.0 401.0h2.3v61.0h-2.3zM1767.5 401.0h1.8v61.0h-1.8zM1766.5 365.0h2.8v36.0h-2.8zM1771.5 401.0h3.3v61.0h-3.3zM1801.0 401.0h2.8v61.0h-2.8zM1797.0 365.0h2.3v36.0h-2.3zM1797.0 305.0h2.3v35.0h-2.3zM1807.0 401.0h2.3v61.0h-2.3zM1811.0 365.0h2.3v36.0h-2.3zM1813.0 365.0h2.3v36.0h-2.3zM1809.0 364.0h3.3v1.0h-3.3zM1821.5 401.0h1.3v61.0h-1.3zM1820.0 365.0h2.3v36.0h-2.3zM1829.0 401.0h3.3v61.0h-3.3zM1840.5 401.0h0.8v61.0h-0.8zM1832.0 365.0h1.3v36.0h-1.3zM1836.0 365.0h2.8v36.0h-2.8zM1832.0 340.0h3.3v25.0h-3.3zM1834.0 305.0h2.3v35.0h-2.3zM1841.0 364.0h1.3v1.0h-1.3zM272.0 401.0h2.3v61.0h-2.3zM276.5 401.0h1.8v61.0h-1.8zM275.0 365.0h1.3v36.0h-1.3zM268.0 364.0h2.3v1.0h-2.3zM270.0 364.0h1.8v1.0h-1.8zM275.0 364.0h2.3v1.0h-2.3zM277.0 364.0h2.8v1.0h-2.8zM285.0 401.0h1.3v61.0h-1.3zM286.0 401.0h2.3v61.0h-2.3zM288.0 401.0h2.3v61.0h-2.3zM285.0 400.0h1.8v1.0h-1.8zM303.0 401.0h2.3v61.0h-2.3zM305.0 401.0h2.3v61.0h-2.3zM311.0 365.0h2.3v36.0h-2.3zM313.0 401.0h2.8v61.0h-2.8zM315.5 401.0h2.3v61.0h-2.3zM313.0 365.0h1.8v36.0h-1.8zM318.0 340.0h1.3v25.0h-1.3zM313.0 304.0h1.8v36.0h-1.8zM326.0 365.0h1.3v36.0h-1.3zM319.0 364.0h1.8v1.0h-1.8zM320.5 364.0h2.3v1.0h-2.3zM326.0 364.0h1.3v1.0h-1.3zM333.0 400.0h3.3v1.0h-3.3zM340.0 401.0h2.3v61.0h-2.3zM344.0 401.0h1.8v61.0h-1.8zM339.0 340.0h3.3v25.0h-3.3zM350.0 401.0h2.3v61.0h-2.3zM352.0 401.0h1.3v61.0h-1.3zM349.0 400.0h3.3v1.0h-3.3zM355.5 400.0h1.8v1.0h-1.8zM357.0 401.0h2.3v61.0h-2.3zM361.5 401.0h2.3v61.0h-2.3zM357.0 365.0h1.3v36.0h-1.3zM361.0 364.0h2.8v1.0h-2.8zM370.0 401.0h1.3v61.0h-1.3zM367.0 365.0h1.8v36.0h-1.8zM370.5 340.0h0.8v25.0h-0.8zM372.0 365.0h1.8v36.0h-1.8zM373.0 364.0h1.3v1.0h-1.3zM374.0 364.0h2.3v1.0h-2.3zM377.0 364.0h2.3v1.0h-2.3zM395.0 400.0h3.3v1.0h-3.3zM398.0 400.0h1.3v1.0h-1.3zM399.0 400.0h1.8v1.0h-1.8zM418.0 403.0h2.3v59.0h-2.3zM421.0 401.0h1.8v61.0h-1.8zM425.0 401.0h2.3v61.0h-2.3zM422.0 365.0h2.3v36.0h-2.3zM424.0 365.0h3.3v36.0h-3.3zM421.0 340.0h2.3v25.0h-2.3zM421.0 304.0h2.3v36.0h-2.3zM426.5 304.0h0.8v36.0h-0.8zM422.5 268.0h2.3v10.0h-2.3zM455.0 365.0h1.3v36.0h-1.3zM453.0 340.0h2.3v25.0h-2.3zM447.0 304.0h2.3v36.0h-2.3zM449.0 303.0h1.8v1.0h-1.8zM455.5 303.0h0.8v1.0h-0.8zM456.0 401.0h2.8v61.0h-2.8zM460.0 365.0h1.3v36.0h-1.3zM458.0 362.0h2.8v3.0h-2.8zM460.5 362.0h1.8v3.0h-1.8zM462.0 461.0h2.8v1.0h-2.8zM476.0 362.0h2.3v3.0h-2.3zM478.0 365.0h1.8v36.0h-1.8zM480.0 340.0h2.3v25.0h-2.3zM478.0 304.0h2.3v36.0h-2.3zM480.5 278.0h1.8v26.0h-1.8zM478.0 207.0h1.3v23.0h-1.3zM479.0 207.0h2.3v23.0h-2.3zM482.0 362.0h1.3v3.0h-1.3zM489.5 401.0h2.3v61.0h-2.3zM491.5 401.0h1.3v61.0h-1.3zM495.5 401.0h1.8v61.0h-1.8zM500.5 365.0h2.8v36.0h-2.8zM489.0 362.0h2.8v3.0h-2.8zM502.0 362.0h1.3v3.0h-1.3zM509.0 401.0h2.3v61.0h-2.3zM508.5 365.0h2.3v36.0h-2.3zM512.0 403.0h3.3v59.0h-3.3zM521.0 403.0h1.3v59.0h-1.3zM523.0 365.0h3.3v36.0h-3.3zM524.5 304.0h1.8v36.0h-1.8zM526.0 340.0h2.3v25.0h-2.3zM526.0 300.0h2.3v4.0h-2.3zM529.0 401.0h2.8v61.0h-2.8zM537.0 401.0h2.8v61.0h-2.8zM531.0 365.0h2.3v36.0h-2.3zM537.5 365.0h3.3v36.0h-3.3zM542.0 403.0h1.8v59.0h-1.8zM543.5 403.0h2.3v59.0h-2.3zM550.0 304.0h3.3v36.0h-3.3zM553.0 230.0h2.3v20.0h-2.3zM562.0 403.0h3.3v59.0h-3.3zM570.5 401.0h2.3v61.0h-2.3zM575.5 401.0h1.8v61.0h-1.8zM580.5 401.0h1.8v61.0h-1.8zM584.5 401.0h0.8v61.0h-0.8zM568.5 365.0h2.3v36.0h-2.3zM572.5 365.0h1.3v36.0h-1.3zM577.0 365.0h3.3v36.0h-3.3zM570.0 340.0h1.8v25.0h-1.8zM573.0 304.0h3.3v36.0h-3.3zM571.5 300.0h2.3v4.0h-2.3zM576.5 401.0h2.3v61.0h-2.3zM581.0 401.0h2.3v61.0h-2.3zM582.5 365.0h0.8v36.0h-0.8zM589.0 401.0h0.7v61.0h-0.7zM592.4 461.0h1.3v1.0h-1.3zM596.0 461.0h2.8v1.0h-2.8zM598.5 461.0h1.8v1.0h-1.8zM600.0 401.0h3.3v61.0h-3.3zM603.0 401.0h1.8v61.0h-1.8zM600.0 365.0h1.8v36.0h-1.8zM601.5 365.0h1.8v36.0h-1.8zM603.0 365.0h1.8v36.0h-1.8zM602.5 364.0h1.3v1.0h-1.3zM604.5 461.0h2.3v1.0h-2.3zM611.0 401.0h1.3v61.0h-1.3zM611.0 365.0h2.8v36.0h-2.8zM618.3 365.0h1.6v36.0h-1.6zM622.6 461.0h1.7v1.0h-1.7zM631.4 401.0h2.3v61.0h-2.3zM630.4 365.0h3.3v36.0h-3.3zM632.9 340.0h1.3v25.0h-1.3zM639.8 461.0h1.5v1.0h-1.5zM650.0 401.0h1.3v61.0h-1.3zM651.0 401.0h2.8v61.0h-2.8zM656.0 401.0h2.3v61.0h-2.3zM663.0 365.0h2.3v36.0h-2.3zM665.0 338.0h1.8v2.0h-1.8zM666.5 338.0h0.8v2.0h-0.8zM667.0 401.0h2.3v61.0h-2.3zM667.0 365.0h2.3v36.0h-2.3zM669.0 365.0h2.8v36.0h-2.8zM667.0 340.0h2.3v25.0h-2.3zM672.5 401.0h1.8v61.0h-1.8zM695.0 461.0h3.3v1.0h-3.3zM700.5 461.0h2.3v1.0h-2.3zM708.0 401.0h2.8v61.0h-2.8zM725.0 461.0h2.3v1.0h-2.3zM755.0 366.0h2.3v35.0h-2.3zM785.5 268.0h0.8v10.0h-0.8zM783.0 250.0h2.3v18.0h-2.3zM785.0 230.0h1.3v20.0h-1.3zM786.0 401.0h1.8v61.0h-1.8zM789.5 401.0h1.8v61.0h-1.8zM786.0 335.0h1.3v5.0h-1.3zM787.0 335.0h1.3v5.0h-1.3zM791.0 401.0h2.8v61.0h-2.8zM791.0 399.0h2.8v2.0h-2.8zM796.0 399.0h1.8v2.0h-1.8zM806.5 401.0h1.8v61.0h-1.8zM802.0 365.0h2.3v36.0h-2.3zM805.0 365.0h1.8v36.0h-1.8zM809.0 401.0h2.8v61.0h-2.8zM811.5 401.0h2.1v61.0h-2.1zM816.8 20.0h2.8v19.5h-2.8zM824.3 20.0h0.6v19.5h-0.6zM813.0 401.0h1.3v61.0h-1.3zM815.5 304.0h0.8v36.0h-0.8zM820.0 401.0h1.8v61.0h-1.8zM823.0 401.0h1.3v61.0h-1.3zM818.0 365.0h3.3v36.0h-3.3zM816.0 340.0h3.3v25.0h-3.3zM822.0 340.0h2.8v25.0h-2.8zM828.5 401.0h2.3v61.0h-2.3zM831.0 365.0h1.3v36.0h-1.3zM830.0 342.0h1.8v23.0h-1.8zM832.0 401.0h2.8v61.0h-2.8zM832.0 365.0h2.8v36.0h-2.8zM837.5 400.0h0.8v1.0h-0.8zM838.0 364.0h3.3v1.0h-3.3zM846.0 401.0h2.8v61.0h-2.8zM848.5 401.0h1.3v61.0h-1.3zM870.5 365.0h0.8v36.0h-0.8zM871.0 340.0h2.3v25.0h-2.3zM873.0 340.0h2.3v25.0h-2.3zM873.0 304.0h1.8v36.0h-1.8zM872.0 268.0h1.8v10.0h-1.8zM872.0 150.0h1.3v20.0h-1.3zM873.0 150.0h1.3v20.0h-1.3zM889.0 278.0h1.8v22.0h-1.8zM890.5 278.0h1.8v22.0h-1.8zM891.0 268.0h1.3v10.0h-1.3zM892.0 268.0h1.3v10.0h-1.3zM889.0 230.0h1.8v20.0h-1.8zM889.0 170.0h3.3v30.0h-3.3zM891.0 401.0h1.3v61.0h-1.3zM898.0 401.0h2.3v61.0h-2.3zM895.0 400.0h1.3v1.0h-1.3zM918.5 400.0h1.8v1.0h-1.8zM936.0 401.0h1.8v61.0h-1.8zM930.0 400.0h3.3v1.0h-3.3zM950.0 401.0h2.8v61.0h-2.8zM952.5 401.0h1.8v61.0h-1.8zM962.0 401.0h2.3v61.0h-2.3zM964.0 364.0h2.8v1.0h-2.8zM966.5 364.0h1.8v1.0h-1.8zM977.5 401.0h2.3v61.0h-2.3zM975.5 400.0h2.3v1.0h-2.3zM982.0 400.0h2.3v1.0h-2.3zM997.5 401.0h1.8v61.0h-1.8zM1004.5 401.0h1.8v61.0h-1.8zM1004.0 365.0h2.3v36.0h-2.3zM996.0 364.0h1.8v1.0h-1.8zM1005.5 364.0h0.8v1.0h-0.8zM1008.0 401.0h3.3v61.0h-3.3zM1008.0 365.0h1.3v36.0h-1.3zM1006.0 340.0h2.3v25.0h-2.3zM1010.0 340.0h2.3v25.0h-2.3zM1014.0 401.0h3.3v61.0h-3.3zM1015.0 400.0h2.3v1.0h-2.3zM1017.0 400.0h1.3v1.0h-1.3zM1018.0 400.0h2.3v1.0h-2.3zM1021.5 401.0h2.8v61.0h-2.8zM1021.0 365.0h2.3v36.0h-2.3zM1025.5 365.0h1.3v36.0h-1.3zM1052.0 365.0h2.3v36.0h-2.3zM1056.5 365.0h0.8v36.0h-0.8zM1069.0 401.0h2.3v61.0h-2.3zM1073.0 401.0h1.8v61.0h-1.8zM1070.0 400.0h2.3v1.0h-2.3zM1072.0 400.0h1.3v1.0h-1.3zM1077.0 400.0h3.3v1.0h-3.3zM1136.0 401.0h2.8v61.0h-2.8zM1140.0 401.0h2.3v61.0h-2.3zM1163.0 365.0h3.3v36.0h-3.3zM1168.0 365.0h2.3v36.0h-2.3zM1185.0 400.0h1.3v1.0h-1.3zM1187.0 400.0h1.3v1.0h-1.3zM1192.5 400.0h3.3v1.0h-3.3zM1198.0 365.0h2.3v36.0h-2.3zM1197.0 364.0h2.8v1.0h-2.8zM1202.5 364.0h2.3v1.0h-2.3zM1213.5 401.0h1.8v61.0h-1.8zM1205.0 304.0h2.3v36.0h-2.3zM1208.5 304.0h2.3v36.0h-2.3zM1206.5 270.0h1.8v8.0h-1.8zM1224.5 401.0h1.8v61.0h-1.8zM1226.0 401.0h1.3v61.0h-1.3zM1232.5 401.0h2.8v61.0h-2.8zM1230.0 401.0h2.3v61.0h-2.3zM1230.0 365.0h2.3v36.0h-2.3zM1232.0 365.0h2.3v36.0h-2.3zM1233.0 305.0h1.3v35.0h-1.3zM1235.0 365.0h2.8v36.0h-2.8zM1239.0 365.0h1.3v36.0h-1.3zM1241.0 340.0h2.3v25.0h-2.3zM1241.0 304.0h2.3v36.0h-2.3zM1243.0 401.0h3.3v61.0h-3.3zM1246.0 401.0h2.8v61.0h-2.8zM1248.5 401.0h1.8v61.0h-1.8zM1253.5 401.0h0.8v61.0h-0.8zM1255.0 401.0h2.3v61.0h-2.3zM1267.0 401.0h1.3v61.0h-1.3zM1256.5 365.0h2.3v36.0h-2.3zM1268.5 365.0h1.3v36.0h-1.3zM1269.5 365.0h1.3v36.0h-1.3zM1265.5 339.0h2.8v1.0h-2.8zM1269.0 339.0h2.3v1.0h-2.3zM1274.0 365.0h2.8v36.0h-2.8zM1277.5 304.0h0.8v36.0h-0.8zM1274.0 290.0h2.8v14.0h-2.8zM1279.0 401.0h1.8v61.0h-1.8zM1280.5 401.0h1.8v61.0h-1.8zM1281.5 365.0h0.8v36.0h-0.8zM1280.0 278.0h1.3v26.0h-1.3zM1278.0 268.0h2.3v10.0h-2.3zM1279.0 250.0h1.8v18.0h-1.8zM1282.0 304.0h2.3v36.0h-2.3zM1288.5 401.0h2.3v61.0h-2.3zM1290.5 401.0h1.3v61.0h-1.3zM1291.5 401.0h0.8v61.0h-0.8zM1284.0 340.0h2.8v25.0h-2.8zM1286.5 340.0h2.3v25.0h-2.3zM1292.0 401.0h1.8v61.0h-1.8zM1296.0 401.0h1.8v61.0h-1.8zM1309.5 401.0h3.3v61.0h-3.3zM1314.0 365.0h2.3v36.0h-2.3zM1314.0 364.0h2.3v1.0h-2.3zM1318.5 364.0h2.3v1.0h-2.3zM1327.5 365.0h0.8v36.0h-0.8zM1328.0 365.0h1.8v36.0h-1.8zM1329.5 365.0h2.8v36.0h-2.8zM1328.0 304.0h1.8v36.0h-1.8zM1328.0 278.0h1.3v26.0h-1.3zM1339.5 401.0h3.3v61.0h-3.3zM1344.0 401.0h2.3v61.0h-2.3zM1349.0 365.0h1.3v36.0h-1.3zM1350.0 401.0h1.3v61.0h-1.3zM1362.5 401.0h1.3v61.0h-1.3zM1356.0 365.0h2.8v36.0h-2.8zM1369.0 365.0h1.3v36.0h-1.3zM1361.0 364.0h1.3v1.0h-1.3zM1368.0 364.0h1.3v1.0h-1.3zM1371.5 365.0h2.8v36.0h-2.8zM1371.0 340.0h1.3v25.0h-1.3zM1378.5 340.0h1.8v25.0h-1.8zM1385.0 200.0h1.3v13.0h-1.3zM1380.5 170.0h3.3v30.0h-3.3zM1385.0 170.0h1.3v30.0h-1.3zM1384.0 278.0h2.3v22.0h-2.3zM1387.5 278.0h0.8v22.0h-0.8zM1382.0 268.0h2.3v10.0h-2.3zM1386.0 213.0h2.3v17.0h-2.3zM1386.5 401.0h1.8v61.0h-1.8zM1383.0 365.0h1.3v36.0h-1.3zM1381.0 340.0h1.8v25.0h-1.8zM1382.5 304.0h2.3v36.0h-2.3zM1391.0 401.0h1.8v61.0h-1.8zM1397.0 401.0h1.3v61.0h-1.3zM1401.0 401.0h1.8v61.0h-1.8zM1407.0 401.0h2.3v61.0h-2.3zM1388.0 365.0h1.3v36.0h-1.3zM1390.0 365.0h2.3v36.0h-2.3zM1396.0 365.0h3.3v36.0h-3.3zM1403.5 365.0h3.3v36.0h-3.3zM1391.0 364.0h2.8v1.0h-2.8zM1409.0 364.0h2.3v1.0h-2.3zM1412.0 365.0h3.3v36.0h-3.3zM1419.0 401.0h2.3v61.0h-2.3zM1420.0 365.0h2.3v36.0h-2.3zM1433.0 340.0h3.3v25.0h-3.3zM1438.0 340.0h1.3v25.0h-1.3zM1445.0 340.0h1.8v25.0h-1.8zM1447.0 401.0h2.8v61.0h-2.8zM1456.0 401.0h1.3v61.0h-1.3zM1451.0 340.0h3.3v25.0h-3.3zM1447.0 278.0h3.3v26.0h-3.3zM1452.5 278.0h2.3v26.0h-2.3zM1456.0 278.0h1.3v26.0h-1.3zM1447.0 270.0h2.3v8.0h-2.3zM1453.0 270.0h2.3v8.0h-2.3zM1463.0 401.0h3.3v61.0h-3.3zM1460.0 400.0h2.3v1.0h-2.3zM1462.0 400.0h3.3v1.0h-3.3zM1478.0 401.0h1.3v61.0h-1.3zM1478.0 366.0h1.3v35.0h-1.3zM1507.0 401.0h1.3v61.0h-1.3zM1507.0 365.0h2.3v36.0h-2.3zM1514.0 365.0h1.3v36.0h-1.3zM1518.0 401.0h2.8v61.0h-2.8zM1516.0 366.0h2.3v35.0h-2.3zM1529.5 401.0h1.8v61.0h-1.8zM1532.5 366.0h1.8v35.0h-1.8zM1535.0 366.0h1.3v35.0h-1.3zM1539.0 401.0h1.8v61.0h-1.8zM1545.5 401.0h2.8v61.0h-2.8zM1550.0 365.0h1.3v36.0h-1.3zM1542.5 364.0h2.3v1.0h-2.3zM1544.5 364.0h1.8v1.0h-1.8zM1558.0 401.0h1.3v61.0h-1.3z"/><path fill="#2d4ac6" d="M15.0 401.0h1.3v61.0h-1.3zM22.0 542.0h1.3v62.0h-1.3zM99.5 401.0h3.3v61.0h-3.3zM103.5 365.0h1.8v36.0h-1.8zM119.1 401.0h1.8v61.0h-1.8zM125.1 401.0h1.8v61.0h-1.8zM130.7 401.0h2.8v61.0h-2.8zM133.2 401.0h1.3v61.0h-1.3zM134.2 401.0h1.8v61.0h-1.8zM164.0 365.0h1.8v36.0h-1.8zM170.0 401.0h3.3v61.0h-3.3zM179.5 365.0h0.8v36.0h-0.8zM177.0 340.0h2.3v25.0h-2.3zM182.0 401.0h2.3v61.0h-2.3zM193.5 401.0h2.3v61.0h-2.3zM202.5 365.0h2.3v36.0h-2.3zM236.0 401.0h1.8v61.0h-1.8zM256.5 401.0h3.3v61.0h-3.3zM1568.0 430.0h2.3v32.0h-2.3zM1588.0 340.0h2.3v25.0h-2.3zM1590.0 401.0h3.3v61.0h-3.3zM1600.0 400.0h2.3v1.0h-2.3zM1604.0 430.0h2.8v32.0h-2.8zM1615.5 340.0h1.3v25.0h-1.3zM1620.0 401.0h3.3v61.0h-3.3zM1623.0 365.0h2.8v36.0h-2.8zM1624.0 340.0h2.3v25.0h-2.3zM1623.5 290.0h2.8v14.0h-2.8zM1627.5 401.0h1.8v61.0h-1.8zM1630.5 401.0h1.3v61.0h-1.3zM1648.0 401.0h2.3v61.0h-2.3zM1635.0 340.0h1.8v25.0h-1.8zM1645.0 340.0h3.3v25.0h-3.3zM1648.0 340.0h1.8v25.0h-1.8zM1650.5 340.0h1.8v25.0h-1.8zM1656.0 401.0h2.8v61.0h-2.8zM1678.5 365.0h1.8v36.0h-1.8zM1656.5 340.0h1.8v25.0h-1.8zM1668.5 340.0h1.8v25.0h-1.8zM1665.0 304.0h2.3v36.0h-2.3zM1680.0 304.0h2.8v36.0h-2.8zM1686.0 304.0h2.8v36.0h-2.8zM1686.0 268.0h3.3v10.0h-3.3zM1693.0 304.0h2.3v36.0h-2.3zM1717.0 401.0h2.8v61.0h-2.8zM1722.0 400.0h1.8v1.0h-1.8zM1726.0 400.0h1.8v1.0h-1.8zM1697.5 340.0h3.3v25.0h-3.3zM1697.0 330.0h1.8v10.0h-1.8zM1698.5 330.0h2.3v10.0h-2.3zM1700.5 330.0h0.8v10.0h-0.8zM1723.0 340.0h1.3v25.0h-1.3zM1764.0 401.0h1.8v61.0h-1.8zM1769.0 401.0h2.8v61.0h-2.8zM1805.5 401.0h0.8v61.0h-0.8zM1806.0 364.0h1.8v1.0h-1.8zM1825.0 401.0h1.3v61.0h-1.3zM1832.0 401.0h2.8v61.0h-2.8zM1834.5 365.0h1.8v36.0h-1.8zM1839.0 305.0h2.3v35.0h-2.3zM272.5 365.0h1.8v36.0h-1.8zM274.0 365.0h1.3v36.0h-1.3zM273.0 364.0h2.3v1.0h-2.3zM303.0 365.0h2.8v36.0h-2.8zM306.0 304.0h1.3v36.0h-1.3zM311.0 401.0h2.3v61.0h-2.3zM317.5 401.0h1.8v61.0h-1.8zM320.0 401.0h2.3v61.0h-2.3zM323.0 365.0h2.3v36.0h-2.3zM323.5 364.0h1.3v1.0h-1.3zM363.5 401.0h1.8v61.0h-1.8zM366.0 401.0h2.3v61.0h-2.3zM365.0 340.0h2.3v25.0h-2.3zM371.0 401.0h3.3v61.0h-3.3zM374.0 401.0h2.3v61.0h-2.3zM379.5 365.0h1.8v36.0h-1.8zM420.0 403.0h1.3v59.0h-1.3zM422.5 401.0h2.8v61.0h-2.8zM423.0 340.0h2.3v25.0h-2.3zM438.0 461.0h2.3v1.0h-2.3zM447.0 401.0h2.3v61.0h-2.3zM447.0 365.0h1.8v36.0h-1.8zM469.0 461.0h2.3v1.0h-2.3zM480.0 304.0h1.3v36.0h-1.3zM479.5 250.0h2.3v18.0h-2.3zM487.0 362.0h1.3v3.0h-1.3zM500.5 401.0h2.3v61.0h-2.3zM504.0 365.0h1.8v36.0h-1.8zM508.5 362.0h2.3v3.0h-2.3zM528.0 340.0h1.3v25.0h-1.3zM535.5 344.0h2.8v21.0h-2.8zM553.0 268.0h1.8v10.0h-1.8zM553.0 140.0h1.8v30.0h-1.8zM554.5 140.0h0.8v30.0h-0.8zM569.5 401.0h1.3v61.0h-1.3zM582.5 365.0h1.3v36.0h-1.3zM572.0 401.0h1.8v61.0h-1.8zM570.0 304.0h1.8v36.0h-1.8zM571.5 304.0h1.8v36.0h-1.8zM576.5 364.0h3.3v1.0h-3.3zM589.0 365.0h0.7v36.0h-0.7zM583.0 364.0h3.3v1.0h-3.3zM603.5 364.0h1.3v1.0h-1.3zM612.0 401.0h2.3v61.0h-2.3zM613.0 338.0h1.3v2.0h-1.3zM615.3 401.0h3.3v61.0h-3.3zM646.0 461.0h3.3v1.0h-3.3zM649.0 461.0h1.3v1.0h-1.3zM663.0 340.0h2.3v25.0h-2.3zM683.0 401.0h2.3v61.0h-2.3zM702.5 461.0h1.3v1.0h-1.3zM703.5 461.0h1.3v1.0h-1.3zM755.5 401.0h1.8v61.0h-1.8zM768.0 402.0h1.3v60.0h-1.3zM780.6 401.0h2.7v61.0h-2.7zM783.0 365.0h1.8v36.0h-1.8zM788.0 365.0h1.3v36.0h-1.3zM786.0 340.0h2.8v25.0h-2.8zM793.5 399.0h2.8v2.0h-2.8zM797.5 399.0h1.3v2.0h-1.3zM812.4 50.0h1.4v14.0h-1.4zM811.0 340.0h2.6v25.0h-2.6zM809.0 300.0h3.3v4.0h-3.3zM814.5 278.0h1.8v26.0h-1.8zM832.0 340.0h2.3v25.0h-2.3zM840.0 365.0h2.3v36.0h-2.3zM842.0 365.0h2.3v36.0h-2.3zM871.0 401.0h2.3v61.0h-2.3zM874.0 365.0h2.3v36.0h-2.3zM873.5 268.0h1.8v10.0h-1.8zM875.0 268.0h1.3v10.0h-1.3zM875.0 250.0h1.3v18.0h-1.3zM889.0 200.0h1.3v30.0h-1.3zM889.0 140.0h2.3v30.0h-2.3zM895.0 401.0h2.3v61.0h-2.3zM902.0 401.0h2.8v61.0h-2.8zM904.5 401.0h0.8v61.0h-0.8zM935.0 401.0h1.3v61.0h-1.3zM950.0 400.0h2.3v1.0h-2.3zM962.0 365.0h2.8v36.0h-2.8zM964.5 365.0h3.3v36.0h-3.3zM974.5 401.0h3.3v61.0h-3.3zM972.0 400.0h2.3v1.0h-2.3zM984.0 401.0h1.8v61.0h-1.8zM1002.5 401.0h2.3v61.0h-2.3zM997.5 364.0h2.3v1.0h-2.3zM1033.5 401.0h2.3v61.0h-2.3zM1037.0 401.0h3.3v61.0h-3.3zM1050.0 364.0h3.3v1.0h-3.3zM1068.0 400.0h1.3v1.0h-1.3zM1139.0 400.0h1.3v1.0h-1.3zM1176.0 401.0h1.3v61.0h-1.3zM1172.0 365.0h1.8v36.0h-1.8zM1180.0 401.0h1.3v61.0h-1.3zM1180.0 400.0h1.3v1.0h-1.3zM1197.0 365.0h1.3v36.0h-1.3zM1200.5 364.0h2.3v1.0h-2.3zM1204.5 364.0h0.8v1.0h-0.8zM1205.0 365.0h3.3v36.0h-3.3zM1210.5 365.0h2.3v36.0h-2.3zM1212.5 365.0h2.3v36.0h-2.3zM1215.0 400.0h1.3v1.0h-1.3zM1227.0 340.0h2.8v25.0h-2.8zM1234.0 304.0h1.3v36.0h-1.3zM1242.0 365.0h1.3v36.0h-1.3zM1240.0 340.0h1.3v25.0h-1.3zM1240.0 304.0h1.3v36.0h-1.3zM1257.0 401.0h2.8v61.0h-2.8zM1254.0 340.0h2.3v25.0h-2.3zM1265.5 340.0h2.3v25.0h-2.3zM1277.5 340.0h0.8v25.0h-0.8zM1281.0 278.0h1.3v26.0h-1.3zM1278.0 230.0h3.3v20.0h-3.3zM1283.0 365.0h1.3v36.0h-1.3zM1283.0 268.0h1.3v10.0h-1.3zM1286.0 401.0h1.3v61.0h-1.3zM1288.0 365.0h2.3v36.0h-2.3zM1293.5 401.0h2.8v61.0h-2.8zM1300.5 401.0h2.3v61.0h-2.3zM1319.0 401.0h2.3v61.0h-2.3zM1321.0 401.0h2.3v61.0h-2.3zM1328.0 340.0h2.3v25.0h-2.3zM1329.5 304.0h1.8v36.0h-1.8zM1363.5 401.0h2.8v61.0h-2.8zM1350.0 365.0h3.3v36.0h-3.3zM1353.0 365.0h3.3v36.0h-3.3zM1350.0 364.0h1.3v1.0h-1.3zM1364.0 364.0h1.3v1.0h-1.3zM1382.5 200.0h2.8v13.0h-2.8zM1384.0 268.0h2.8v10.0h-2.8zM1382.0 250.0h2.8v18.0h-2.8zM1382.0 230.0h2.3v20.0h-2.3zM1387.0 230.0h1.3v20.0h-1.3zM1385.0 365.0h1.3v36.0h-1.3zM1402.5 401.0h1.3v61.0h-1.3zM1408.5 364.0h0.8v1.0h-0.8zM1417.5 365.0h1.8v36.0h-1.8zM1436.5 401.0h2.3v61.0h-2.3zM1438.5 401.0h0.8v61.0h-0.8zM1419.0 365.0h1.3v36.0h-1.3zM1438.0 365.0h1.3v36.0h-1.3zM1419.0 340.0h3.3v25.0h-3.3zM1422.0 340.0h2.3v25.0h-2.3zM1427.5 340.0h1.8v25.0h-1.8zM1441.5 340.0h1.8v25.0h-1.8zM1439.0 304.0h2.3v36.0h-2.3zM1444.0 304.0h2.8v36.0h-2.8zM1451.0 401.0h2.3v61.0h-2.3zM1456.0 365.0h1.3v36.0h-1.3zM1448.0 340.0h3.3v25.0h-3.3zM1476.0 366.0h2.3v35.0h-2.3zM1504.0 400.0h1.8v1.0h-1.8zM1524.5 401.0h2.8v61.0h-2.8zM1536.0 401.0h3.3v61.0h-3.3z"/><path fill="#7a34b0" d="M22.5 481.0h0.8v25.0h-0.8zM99.0 481.0h1.8v25.0h-1.8zM100.5 481.0h3.3v25.0h-3.3zM108.5 481.0h0.4v25.0h-0.4zM108.6 481.0h2.3v25.0h-2.3zM113.6 481.0h2.8v25.0h-2.8zM138.5 481.0h1.3v25.0h-1.3zM153.5 481.0h1.2v25.0h-1.2zM200.0 481.0h3.3v25.0h-3.3zM206.0 481.0h1.3v25.0h-1.3zM219.0 481.0h2.3v25.0h-2.3zM1666.0 481.0h2.3v25.0h-2.3zM1684.0 481.0h2.3v25.0h-2.3zM1708.0 481.0h1.3v25.0h-1.3zM1698.0 481.0h2.3v25.0h-2.3zM709.3 481.0h2.3v25.0h-2.3zM425.0 481.0h1.3v25.0h-1.3zM268.0 481.0h2.8v25.0h-2.8zM272.5 481.0h3.3v25.0h-3.3zM333.0 481.0h1.8v25.0h-1.8zM334.5 481.0h1.3v25.0h-1.3zM339.0 481.0h2.8v25.0h-2.8zM341.5 481.0h2.3v25.0h-2.3zM363.0 481.0h2.3v25.0h-2.3zM407.5 481.0h1.8v25.0h-1.8zM415.0 481.0h1.3v25.0h-1.3zM419.0 481.0h1.8v25.0h-1.8zM420.5 481.0h0.8v25.0h-0.8zM428.0 481.0h2.3v25.0h-2.3zM452.0 481.0h1.3v25.0h-1.3zM461.0 481.0h1.3v25.0h-1.3zM482.0 481.0h1.8v25.0h-1.8zM502.5 481.0h0.8v25.0h-0.8zM561.0 481.0h1.8v25.0h-1.8zM583.5 481.0h1.8v25.0h-1.8zM573.0 481.0h1.3v25.0h-1.3zM576.5 481.0h1.3v25.0h-1.3zM584.0 481.0h3.3v25.0h-3.3zM592.4 481.0h1.3v25.0h-1.3zM600.0 481.0h1.8v25.0h-1.8zM639.8 481.0h1.5v25.0h-1.5zM645.0 481.0h2.8v25.0h-2.8zM647.5 481.0h2.3v25.0h-2.3zM676.0 481.0h2.3v25.0h-2.3zM802.0 481.0h2.3v25.0h-2.3zM806.5 481.0h2.8v25.0h-2.8zM878.0 481.0h1.8v25.0h-1.8zM1012.5 481.0h1.3v25.0h-1.3zM1042.5 481.0h2.3v25.0h-2.3zM1171.0 481.0h2.3v25.0h-2.3zM1219.5 481.0h2.8v25.0h-2.8zM1234.5 481.0h0.8v25.0h-0.8zM1238.5 481.0h1.8v25.0h-1.8zM1247.0 481.0h3.3v25.0h-3.3zM1251.5 481.0h2.8v25.0h-2.8zM1263.5 481.0h1.3v25.0h-1.3zM1267.0 481.0h2.3v25.0h-2.3zM1324.0 481.0h2.3v25.0h-2.3zM1400.5 481.0h2.3v25.0h-2.3zM1419.0 481.0h3.3v25.0h-3.3zM1450.5 481.0h1.8v25.0h-1.8zM1469.0 481.0h1.8v25.0h-1.8zM1524.0 481.0h2.3v25.0h-2.3z"/><path fill="#4848c0" d="M38.5 481.0h0.8v25.0h-0.8zM41.5 481.0h2.8v25.0h-2.8zM110.6 481.0h3.3v25.0h-3.3zM127.1 481.0h3.3v25.0h-3.3zM132.7 481.0h3.3v25.0h-3.3zM135.7 481.0h2.1v25.0h-2.1zM137.5 481.0h1.3v25.0h-1.3zM143.0 481.0h2.3v25.0h-2.3zM145.0 481.0h2.3v25.0h-2.3zM160.9 481.0h0.4v25.0h-0.4zM165.0 481.0h1.3v25.0h-1.3zM181.0 481.0h2.3v25.0h-2.3zM197.0 481.0h1.3v25.0h-1.3zM203.0 481.0h1.3v25.0h-1.3zM212.0 481.0h1.8v25.0h-1.8zM226.0 481.0h2.3v25.0h-2.3zM235.0 481.0h1.3v25.0h-1.3zM247.0 481.0h1.8v25.0h-1.8zM1581.5 481.0h1.8v25.0h-1.8zM1606.0 481.0h2.3v25.0h-2.3zM1641.0 481.0h3.3v25.0h-3.3zM1645.0 481.0h2.3v25.0h-2.3zM1672.0 481.0h3.3v25.0h-3.3zM1679.0 481.0h1.3v25.0h-1.3zM1713.0 481.0h2.3v25.0h-2.3zM1720.0 481.0h1.8v25.0h-1.8zM1700.0 481.0h1.3v25.0h-1.3zM1704.0 481.0h2.3v25.0h-2.3zM1708.5 481.0h1.8v25.0h-1.8zM693.3 481.0h1.3v25.0h-1.3zM696.3 481.0h2.8v25.0h-2.8zM704.3 481.0h3.3v25.0h-3.3zM417.0 481.0h1.8v25.0h-1.8zM275.5 481.0h2.8v25.0h-2.8zM282.5 481.0h2.8v25.0h-2.8zM295.0 481.0h3.3v25.0h-3.3zM298.0 481.0h2.3v25.0h-2.3zM300.0 481.0h3.3v25.0h-3.3zM306.5 481.0h1.3v25.0h-1.3zM309.0 481.0h2.8v25.0h-2.8zM317.5 481.0h1.8v25.0h-1.8zM319.0 481.0h1.8v25.0h-1.8zM322.5 481.0h3.3v25.0h-3.3zM343.5 481.0h2.8v25.0h-2.8zM355.0 481.0h2.3v25.0h-2.3zM360.0 481.0h3.3v25.0h-3.3zM366.5 481.0h3.3v25.0h-3.3zM376.5 481.0h1.3v25.0h-1.3zM392.5 481.0h1.3v25.0h-1.3zM393.5 481.0h1.8v25.0h-1.8zM399.0 481.0h2.3v25.0h-2.3zM421.0 481.0h2.3v25.0h-2.3zM430.0 481.0h2.3v25.0h-2.3zM464.0 481.0h3.3v25.0h-3.3zM470.0 481.0h2.8v25.0h-2.8zM472.5 481.0h1.8v25.0h-1.8zM477.0 481.0h1.3v25.0h-1.3zM483.5 481.0h2.3v25.0h-2.3zM527.0 481.0h2.3v25.0h-2.3zM529.0 481.0h2.3v25.0h-2.3zM532.0 481.0h1.8v25.0h-1.8zM535.5 481.0h3.3v25.0h-3.3zM538.5 481.0h2.3v25.0h-2.3zM540.5 481.0h0.8v25.0h-0.8zM552.0 481.0h1.3v25.0h-1.3zM562.5 481.0h2.8v25.0h-2.8zM581.0 481.0h1.8v25.0h-1.8zM583.0 481.0h1.3v25.0h-1.3zM598.0 481.0h2.3v25.0h-2.3zM601.5 481.0h3.3v25.0h-3.3zM606.5 481.0h1.3v25.0h-1.3zM611.0 481.0h1.8v25.0h-1.8zM630.4 481.0h2.3v25.0h-2.3zM632.4 481.0h2.7v25.0h-2.7zM661.5 481.0h1.8v25.0h-1.8zM689.0 481.0h2.3v25.0h-2.3zM693.0 481.0h2.3v25.0h-2.3zM752.0 481.0h3.3v25.0h-3.3zM783.0 481.0h2.3v25.0h-2.3zM785.0 481.0h1.3v25.0h-1.3zM786.0 481.0h2.3v25.0h-2.3zM789.5 481.0h1.8v25.0h-1.8zM795.5 481.0h2.8v25.0h-2.8zM798.0 481.0h2.3v25.0h-2.3zM820.5 481.0h1.8v25.0h-1.8zM827.0 481.0h2.3v25.0h-2.3zM832.0 481.0h1.3v25.0h-1.3zM840.0 481.0h2.3v25.0h-2.3zM862.5 481.0h2.3v25.0h-2.3zM866.5 481.0h2.8v25.0h-2.8zM876.0 481.0h2.3v25.0h-2.3zM893.5 481.0h1.3v25.0h-1.3zM907.5 481.0h2.3v25.0h-2.3zM912.0 481.0h2.3v25.0h-2.3zM934.0 481.0h3.3v25.0h-3.3zM947.5 481.0h2.3v25.0h-2.3zM964.0 481.0h2.3v25.0h-2.3zM985.0 481.0h1.8v25.0h-1.8zM991.5 481.0h1.8v25.0h-1.8zM1017.0 481.0h2.8v25.0h-2.8zM1065.0 481.0h2.3v25.0h-2.3zM1175.0 481.0h1.3v25.0h-1.3zM1179.5 481.0h1.3v25.0h-1.3zM1187.0 481.0h1.3v25.0h-1.3zM1193.0 481.0h1.3v25.0h-1.3zM1202.5 481.0h2.8v25.0h-2.8zM1205.0 481.0h2.3v25.0h-2.3zM1207.0 481.0h2.8v25.0h-2.8zM1229.0 481.0h2.3v25.0h-2.3zM1232.5 481.0h1.8v25.0h-1.8zM1236.0 481.0h1.8v25.0h-1.8zM1240.0 481.0h3.3v25.0h-3.3zM1250.0 481.0h1.8v25.0h-1.8zM1271.0 481.0h1.3v25.0h-1.3zM1273.0 481.0h2.8v25.0h-2.8zM1282.0 481.0h2.3v25.0h-2.3zM1286.5 481.0h2.8v25.0h-2.8zM1289.0 481.0h1.3v25.0h-1.3zM1307.0 481.0h2.8v25.0h-2.8zM1358.0 481.0h2.8v25.0h-2.8zM1360.5 481.0h2.3v25.0h-2.3zM1379.0 481.0h1.3v25.0h-1.3zM1388.0 481.0h2.3v25.0h-2.3zM1390.0 481.0h2.3v25.0h-2.3zM1398.0 481.0h2.8v25.0h-2.8zM1424.5 481.0h2.8v25.0h-2.8zM1452.0 481.0h2.3v25.0h-2.3zM1475.0 481.0h1.3v25.0h-1.3zM1476.0 481.0h2.3v25.0h-2.3zM1478.0 481.0h1.3v25.0h-1.3zM1479.0 481.0h1.8v25.0h-1.8zM1506.0 481.0h1.3v25.0h-1.3zM1507.0 481.0h2.3v25.0h-2.3z"/><path fill="#4a48c0" d="M44.0 481.0h2.3v25.0h-2.3zM1568.0 481.0h2.3v25.0h-2.3zM1570.0 481.0h2.3v25.0h-2.3zM1579.5 481.0h0.8v25.0h-0.8zM1583.0 481.0h1.3v25.0h-1.3zM1594.0 482.0h2.8v24.0h-2.8zM1604.0 481.0h2.3v25.0h-2.3zM1706.0 481.0h2.3v25.0h-2.3zM1726.5 481.0h2.8v25.0h-2.8zM1718.0 481.0h2.8v25.0h-2.8zM1752.0 481.0h1.8v25.0h-1.8zM1790.5 481.0h2.8v25.0h-2.8zM1827.5 481.0h1.8v25.0h-1.8zM1841.0 481.0h1.3v25.0h-1.3zM698.8 481.0h2.8v25.0h-2.8zM701.3 481.0h2.3v25.0h-2.3zM726.5 481.0h1.3v25.0h-1.3zM571.0 481.0h3.3v25.0h-3.3zM574.0 481.0h2.3v25.0h-2.3zM687.5 481.0h1.8v25.0h-1.8zM726.0 481.0h1.8v25.0h-1.8zM755.0 481.0h2.3v25.0h-2.3zM759.0 481.0h1.8v25.0h-1.8zM813.0 481.0h3.3v25.0h-3.3zM836.0 481.0h1.8v25.0h-1.8zM869.0 481.0h1.8v25.0h-1.8zM900.0 481.0h2.8v25.0h-2.8zM909.5 481.0h1.8v25.0h-1.8zM952.5 481.0h2.8v25.0h-2.8zM1035.0 481.0h2.3v25.0h-2.3zM1039.0 481.0h2.3v25.0h-2.3zM1044.5 481.0h0.8v25.0h-0.8zM1075.0 481.0h1.8v25.0h-1.8zM1194.0 481.0h2.3v25.0h-2.3zM1211.5 481.0h1.3v25.0h-1.3zM1222.0 481.0h1.3v25.0h-1.3zM1230.0 481.0h1.3v25.0h-1.3zM1334.0 481.0h1.3v25.0h-1.3zM1349.5 481.0h0.8v25.0h-0.8zM1353.5 481.0h2.3v25.0h-2.3zM1384.5 481.0h2.8v25.0h-2.8zM1402.5 481.0h2.3v25.0h-2.3zM1510.5 481.0h3.3v25.0h-3.3zM1513.5 481.0h1.8v25.0h-1.8zM1515.0 481.0h1.8v25.0h-1.8zM1531.5 481.0h2.3v25.0h-2.3zM1539.0 481.0h1.8v25.0h-1.8zM1553.0 481.0h2.3v25.0h-2.3zM1559.0 481.0h0.8v25.0h-0.8z"/><path fill="#5a3cb8" d="M99.5 462.0h1.3v19.0h-1.3zM114.6 462.0h2.8v19.0h-2.8zM145.0 462.0h2.3v19.0h-2.3zM156.9 462.0h1.3v19.0h-1.3zM200.0 462.0h2.3v19.0h-2.3zM1603.5 462.0h3.3v19.0h-3.3zM1646.5 462.0h1.8v19.0h-1.8zM1715.0 462.0h1.3v19.0h-1.3zM1726.0 462.0h2.3v19.0h-2.3zM1760.0 462.0h1.8v19.0h-1.8zM1832.0 462.0h2.3v19.0h-2.3zM286.5 462.0h2.3v19.0h-2.3zM288.5 462.0h2.3v19.0h-2.3zM325.0 462.0h1.3v19.0h-1.3zM354.5 462.0h1.8v19.0h-1.8zM415.0 462.0h3.3v19.0h-3.3zM421.0 462.0h1.3v19.0h-1.3zM437.5 462.0h2.3v19.0h-2.3zM443.0 462.0h1.3v19.0h-1.3zM451.5 462.0h2.3v19.0h-2.3zM517.0 462.0h2.3v19.0h-2.3zM521.5 462.0h1.8v19.0h-1.8zM621.1 462.0h1.8v19.0h-1.8zM624.0 462.0h1.8v19.0h-1.8zM650.0 462.0h2.3v19.0h-2.3zM681.0 462.0h1.3v19.0h-1.3zM683.5 462.0h2.3v19.0h-2.3zM763.5 462.0h2.3v19.0h-2.3zM791.0 462.0h2.3v19.0h-2.3zM836.0 462.0h2.3v19.0h-2.3zM839.0 462.0h1.3v19.0h-1.3zM874.5 462.0h1.8v19.0h-1.8zM881.5 462.0h2.3v19.0h-2.3zM905.0 462.0h2.3v19.0h-2.3zM956.0 462.0h3.3v19.0h-3.3zM1047.0 462.0h1.8v19.0h-1.8zM1211.5 462.0h2.8v19.0h-2.8zM1257.0 462.0h2.3v19.0h-2.3zM1313.0 462.0h1.3v19.0h-1.3zM1325.0 462.0h1.3v19.0h-1.3zM1404.5 462.0h3.3v19.0h-3.3zM1409.0 462.0h2.3v19.0h-2.3zM1433.0 462.0h1.8v19.0h-1.8zM1450.5 462.0h1.8v19.0h-1.8zM1533.5 462.0h3.3v19.0h-3.3zM1551.0 462.0h2.8v19.0h-2.8zM1558.0 462.0h1.3v19.0h-1.3z"/><path fill="#a02ea0" d="M103.5 481.0h2.3v25.0h-2.3zM130.1 481.0h0.9v25.0h-0.9zM191.0 481.0h1.3v25.0h-1.3zM214.0 481.0h1.8v25.0h-1.8zM236.0 481.0h2.8v25.0h-2.8zM1663.0 481.0h1.3v25.0h-1.3zM1675.0 481.0h2.3v25.0h-2.3zM1741.0 481.0h2.8v25.0h-2.8zM289.5 481.0h3.3v25.0h-3.3zM480.0 481.0h2.3v25.0h-2.3zM514.5 481.0h1.8v25.0h-1.8zM525.0 481.0h1.3v25.0h-1.3zM560.0 481.0h1.3v25.0h-1.3zM579.0 481.0h1.8v25.0h-1.8zM616.8 481.0h2.8v25.0h-2.8zM619.3 481.0h0.6v25.0h-0.6zM683.0 481.0h1.8v25.0h-1.8zM702.5 481.0h2.3v25.0h-2.3zM706.0 481.0h1.8v25.0h-1.8zM707.5 481.0h0.8v25.0h-0.8zM817.5 481.0h3.3v25.0h-3.3zM833.0 481.0h3.3v25.0h-3.3zM921.0 481.0h2.3v25.0h-2.3zM1053.5 481.0h2.3v25.0h-2.3zM1057.5 481.0h1.8v25.0h-1.8zM1163.0 481.0h2.8v25.0h-2.8zM1275.5 481.0h1.3v25.0h-1.3zM1339.0 481.0h2.3v25.0h-2.3zM1404.5 481.0h1.8v25.0h-1.8zM1411.0 481.0h1.8v25.0h-1.8zM1464.5 481.0h2.3v25.0h-2.3zM1522.0 481.0h2.3v25.0h-2.3zM1533.5 481.0h3.3v25.0h-3.3z"/><path fill="#3a48c0" d="M103.5 462.0h2.3v19.0h-2.3zM128.6 462.0h2.3v19.0h-2.3zM166.0 462.0h3.3v19.0h-3.3zM193.5 462.0h2.8v19.0h-2.8zM204.0 462.0h2.3v19.0h-2.3zM206.0 462.0h1.3v19.0h-1.3zM253.0 462.0h1.3v19.0h-1.3zM1568.0 462.0h1.3v19.0h-1.3zM1573.0 462.0h1.3v19.0h-1.3zM1588.0 462.0h1.3v19.0h-1.3zM1615.0 462.0h2.8v19.0h-2.8zM1624.0 462.0h2.3v19.0h-2.3zM1686.0 462.0h2.8v19.0h-2.8zM1726.5 462.0h1.3v19.0h-1.3zM1738.0 462.0h2.3v19.0h-2.3zM1749.0 462.0h3.3v19.0h-3.3zM1798.5 462.0h2.3v19.0h-2.3zM1813.0 462.0h2.3v19.0h-2.3zM1815.0 462.0h3.3v19.0h-3.3zM1838.5 462.0h2.3v19.0h-2.3zM276.0 462.0h2.3v19.0h-2.3zM302.5 462.0h0.8v19.0h-0.8zM316.5 462.0h2.3v19.0h-2.3zM328.5 462.0h2.3v19.0h-2.3zM330.5 462.0h1.8v19.0h-1.8zM345.5 462.0h3.3v19.0h-3.3zM348.5 462.0h0.8v19.0h-0.8zM353.0 462.0h1.8v19.0h-1.8zM373.0 462.0h1.8v19.0h-1.8zM392.0 462.0h3.3v19.0h-3.3zM397.0 462.0h1.8v19.0h-1.8zM398.5 462.0h2.8v19.0h-2.8zM446.0 462.0h1.3v19.0h-1.3zM458.0 462.0h2.3v19.0h-2.3zM460.0 462.0h2.3v19.0h-2.3zM498.5 462.0h1.3v19.0h-1.3zM506.0 462.0h1.3v19.0h-1.3zM532.5 462.0h1.8v19.0h-1.8zM547.5 462.0h2.3v19.0h-2.3zM583.0 462.0h2.3v19.0h-2.3zM596.0 462.0h1.3v19.0h-1.3zM597.0 462.0h1.3v19.0h-1.3zM604.5 462.0h3.3v19.0h-3.3zM615.3 462.0h1.3v19.0h-1.3zM619.3 462.0h0.6v19.0h-0.6zM638.8 462.0h1.8v19.0h-1.8zM667.0 462.0h2.3v19.0h-2.3zM786.0 462.0h3.3v19.0h-3.3zM825.0 462.0h1.3v19.0h-1.3zM834.0 462.0h2.3v19.0h-2.3zM842.0 462.0h3.3v19.0h-3.3zM846.0 462.0h2.3v19.0h-2.3zM862.5 462.0h2.8v19.0h-2.8zM865.0 462.0h2.3v19.0h-2.3zM867.0 462.0h2.3v19.0h-2.3zM884.5 462.0h1.3v19.0h-1.3zM901.0 462.0h2.8v19.0h-2.8zM907.0 462.0h1.8v19.0h-1.8zM925.0 462.0h1.3v19.0h-1.3zM990.0 462.0h3.3v19.0h-3.3zM996.0 462.0h2.3v19.0h-2.3zM1009.0 462.0h3.3v19.0h-3.3zM1019.5 462.0h3.3v19.0h-3.3zM1029.0 462.0h2.3v19.0h-2.3zM1050.5 462.0h2.3v19.0h-2.3zM1054.0 462.0h2.8v19.0h-2.8zM1196.0 462.0h1.3v19.0h-1.3zM1201.5 462.0h2.8v19.0h-2.8zM1214.0 462.0h1.3v19.0h-1.3zM1227.0 462.0h1.8v19.0h-1.8zM1237.0 462.0h1.8v19.0h-1.8zM1252.0 462.0h1.3v19.0h-1.3zM1254.0 462.0h2.3v19.0h-2.3zM1286.5 462.0h2.8v19.0h-2.8zM1294.0 462.0h2.3v19.0h-2.3zM1296.0 462.0h1.8v19.0h-1.8zM1310.5 462.0h2.8v19.0h-2.8zM1322.0 462.0h1.3v19.0h-1.3zM1393.0 462.0h2.3v19.0h-2.3zM1402.5 462.0h2.3v19.0h-2.3zM1419.0 462.0h2.3v19.0h-2.3zM1465.5 462.0h1.8v19.0h-1.8zM1477.0 462.0h2.3v19.0h-2.3zM1507.0 462.0h1.8v19.0h-1.8zM1538.5 462.0h0.8v19.0h-0.8zM1555.5 462.0h1.8v19.0h-1.8zM1556.0 462.0h1.3v19.0h-1.3z"/><path fill="#c82a78" d="M161.0 481.0h2.8v25.0h-2.8zM167.0 481.0h2.3v25.0h-2.3zM210.0 481.0h2.3v25.0h-2.3zM244.0 481.0h3.3v25.0h-3.3zM1633.5 481.0h3.3v25.0h-3.3zM1702.0 481.0h2.3v25.0h-2.3zM1724.5 481.0h2.3v25.0h-2.3zM1802.0 481.0h2.3v25.0h-2.3zM422.5 481.0h2.8v25.0h-2.8zM314.0 481.0h2.3v25.0h-2.3zM474.0 481.0h2.3v25.0h-2.3zM550.0 481.0h2.3v25.0h-2.3zM576.0 481.0h1.8v25.0h-1.8zM588.0 481.0h1.7v25.0h-1.7zM596.0 481.0h2.3v25.0h-2.3zM609.5 481.0h1.8v25.0h-1.8zM634.8 481.0h1.3v25.0h-1.3zM657.5 481.0h3.3v25.0h-3.3zM660.5 481.0h1.3v25.0h-1.3zM788.0 481.0h1.8v25.0h-1.8zM882.5 481.0h2.8v25.0h-2.8zM1237.5 481.0h1.3v25.0h-1.3zM1376.0 481.0h3.3v25.0h-3.3zM1439.0 481.0h2.8v25.0h-2.8zM1516.5 481.0h2.8v25.0h-2.8z"/><path fill="#e0244c" d="M242.0 481.0h1.3v25.0h-1.3zM492.5 481.0h3.3v25.0h-3.3zM520.5 481.0h1.3v25.0h-1.3zM829.0 481.0h1.3v25.0h-1.3zM1302.0 481.0h2.3v25.0h-2.3zM1309.5 481.0h2.3v25.0h-2.3zM1328.0 481.0h1.3v25.0h-1.3zM1367.0 481.0h3.3v25.0h-3.3zM541 482h4v24h-4zM878 125h4v45h-4zM808 482h4v24h-4z"/><path fill="#6a30b8" d="M1565 85.5h4v34.0h-4zM1608 116h4v87h-4zM478 208h4v32h-4z"/><path fill="#6a2cb4" d="M1576 105h4v100h-4z"/><path fill="#4a34b8" d="M1581 130h3v60h-3z"/><path fill="#3040c0" d="M1590 45h4v40h-4z"/><path fill="#4a38b8" d="M1612 150h3v53h-3z"/><path fill="#2a3cc0" d="M1596 40h12v6h-12z"/><path fill="#6030b0" d="M1811.5 482h5.5v23h-5.5z"/><path fill="#5a34b4" d="M1812 481h7v25h-7z"/><path fill="#e0204a" d="M482 213h3v27h-3zM561 110h3v20h-3z"/><path fill="#c02a80" d="M478 482h3v24h-3z"/><path fill="#7a2cb0" d="M558 123h5v59h-5z"/><path fill="#c0287a" d="M781 400h4v62h-4z"/><path fill="#e8602c" d="M891 130h3v30h-3z"/><path fill="#3a3ab8" d="M1399.5 195h5.5v45h-5.5z"/></g>
<path fill="#263238" shape-rendering="crispEdges" d="M1418.75 506h6.25v36h-6.25zM1456 506h4.400000000000091v36h-4.400000000000091zM1462.5 506h17.5v36h-17.5zM1483.3 506h22.700000000000045v36h-22.700000000000045zM1515.6 506h2.1000000000001364v36h-2.1000000000001364zM1523 506h2v36h-2zM1540.6 506h11.400000000000091v36h-11.400000000000091zM1559.4 506h21.59999999999991v36h-21.59999999999991zM1589.6 506h10.400000000000091v36h-10.400000000000091zM1603 506h15.75v36h-15.75zM1628 506h4v36h-4zM1651 506h4v36h-4zM1666.7 506h4.099999999999909v36h-4.099999999999909zM1697 506h6v36h-6zM1708 506h2v36h-2zM1712.5 506h9.5v36h-9.5zM1724 506h1v36h-1zM1744 506h1v36h-1zM1747 506h9v36h-9zM1764.6 506h5.400000000000091v36h-5.400000000000091zM1775 506h13.5v36h-13.5zM1462.5 481h6.5v25h-6.5zM1485 481h18v25h-18zM1564.6 481h3.1000000000001364v25h-3.1000000000001364zM1573 481h2v25h-2zM1596 481h2v25h-2zM1604 481h2v25h-2zM1610 481h3.5v25h-3.5zM1775 481h6v25h-6zM1016.7 506h6.2999999999999545v36h-6.2999999999999545zM1024.6 506h4.150000000000091v36h-4.150000000000091zM1035.8 506h3.2000000000000455v36h-3.2000000000000455zM1045.8 506h9.200000000000045v36h-9.200000000000045zM1062.5 506h6.25v36h-6.25zM1175 506h11.5v36h-11.5zM1241.7 506h4.099999999999909v36h-4.099999999999909zM1329 506h2v36h-2zM1393.75 506h2.25v36h-2.25zM603.75 506h4.25v36h-4.25zM641.7 506h9.299999999999955v36h-9.299999999999955zM693.3 506h9.400000000000091v36h-9.400000000000091zM704.8 506h3.5v36h-3.5zM712.5 506h13.5v36h-13.5zM727.5 506h17.299999999999955v36h-17.299999999999955zM769.8 506h11.200000000000045v36h-11.200000000000045zM786.5 506h7.5v36h-7.5zM806 506h2v36h-2zM830 506h2v36h-2zM841.7 506h2.2999999999999545v36h-2.2999999999999545zM857 506h4v36h-4zM864.6 506h4.149999999999977v36h-4.149999999999977zM874.6 506h20.799999999999955v36h-20.799999999999955zM912.5 506h1.5v36h-1.5zM922 506h11v36h-11zM939 506h8v36h-8zM965.6 506h4.199999999999932v36h-4.199999999999932zM991.7 506h2.0499999999999545v36h-2.0499999999999545zM712.5 481h9.5v25h-9.5zM727.5 481h12.100000000000023v25h-12.100000000000023zM775 481h6v25h-6zM887.5 481h2.1000000000000227v25h-2.1000000000000227zM941.7 481h2.0499999999999545v25h-2.0499999999999545zM230.8 506h1.5v36h-1.5zM249.6 506h5.599999999999994v36h-5.599999999999994zM262.5 506h17.69999999999999v36h-17.69999999999999zM285.4 506h8.350000000000023v36h-8.350000000000023zM392.7 506h3.5500000000000114v36h-3.5500000000000114zM405.8 506h7.199999999999989v36h-7.199999999999989zM417 506h3.8000000000000114v36h-3.8000000000000114zM434.4 506h2.1000000000000227v36h-2.1000000000000227zM439.6 506h4.399999999999977v36h-4.399999999999977zM470.4 506h4.2000000000000455v36h-4.2000000000000455zM499 506h4v36h-4zM525 506h1v36h-1zM531.25 506h2.0499999999999545v36h-2.0499999999999545zM538.5 506h2.1000000000000227v36h-2.1000000000000227zM552 506h11.5v36h-11.5zM570.8 506h4.2000000000000455v36h-4.2000000000000455zM272 481h4v25h-4zM409.6 481h7.399999999999977v25h-7.399999999999977zM552 481h16.75v25h-16.75zM1763.7 506h5.2999999999999545v36h-5.2999999999999545zM1775 506h13.700000000000045v36h-13.700000000000045zM1794 506h4v36h-4zM1805.4 506h6.099999999999909v36h-6.099999999999909zM1819 506h2v36h-2zM1824 506h2.7000000000000455v36h-2.7000000000000455zM1829 506h1v36h-1zM1842.4 506h1.599999999999909v36h-1.599999999999909zM1763.7 481h3.7000000000000455v25h-3.7000000000000455z"/>
<polyline points="1560.0,230.0 1564.0,160.0 1568.5,110.0 1573.4,73.0 1575.9,80.0 1579.5,140.0 1584.0,110.0 1590.0,60.0 1595.0,43.0 1606.0,43.0 1607.3,80.0 1611.0,125.0 1618.0,170.0 1620.0,200.0" fill="none" stroke="#e8204a" stroke-width="1.6" stroke-linejoin="miter" stroke-miterlimit="3"/>
<polyline points="554.5,200.0 557.0,150.0 560.0,115.0 563.0,106.0" fill="none" stroke="#e8204a" stroke-width="1.6" stroke-linejoin="miter" stroke-miterlimit="3"/>
<polyline points="481.5,300.0 482.5,240.0 484.0,212.0" fill="none" stroke="#e8204a" stroke-width="1.6" stroke-linejoin="miter" stroke-miterlimit="3"/>
<polyline points="877.5,175.0 880.0,140.0 882.5,118.0 885.0,104.0" fill="none" stroke="#e8204a" stroke-width="1.6" stroke-linejoin="miter" stroke-miterlimit="3"/>
<polyline points="889.5,112.0 891.0,130.0 892.0,150.0" fill="none" stroke="#e8204a" stroke-width="1.6" stroke-linejoin="miter" stroke-miterlimit="3"/>
<polyline points="2.0,490.0 4.0,494.0 8.5,505.0 11.9,492.0 14.0,511.0 16.0,513.0 18.4,526.0 20.5,505.0 23.0,495.0 27.0,494.0 37.0,494.0 40.7,505.5 43.3,494.0 46.0,494.0" fill="none" stroke="#f8f8f8" stroke-width="2.0" stroke-linejoin="miter" stroke-miterlimit="3"/>
<polyline points="1412.0,420.0 1416.0,425.0 1421.0,360.0 1425.0,360.0 1428.0,395.0 1431.0,360.0 1435.0,360.0 1440.0,320.0 1444.0,340.0 1448.0,320.0 1452.0,300.0 1455.0,340.0 1458.0,390.0 1462.0,430.0 1464.0,490.0" fill="none" stroke="#f8f8f8" stroke-width="2.0" stroke-linejoin="miter" stroke-miterlimit="3"/>
<polyline points="1506.0,475.0 1508.0,380.0 1512.0,385.0 1516.0,355.0 1520.0,360.0 1524.0,430.0 1528.0,385.0 1532.0,320.0 1536.0,325.0 1540.0,385.0 1545.0,380.0 1549.0,400.0 1553.0,380.0 1556.5,300.0 1558.5,230.0 1563.5,168.9 1568.0,110.0 1572.8,76.3 1575.9,82.5 1579.0,165.8 1583.6,122.6 1589.8,67.0 1594.4,45.4 1603.6,42.3 1605.2,76.3 1611.4,131.9 1617.5,162.7 1622.0,230.0 1622.5,300.0 1621.0,466.0 1625.0,478.0 1630.0,450.0 1633.0,350.0 1637.0,350.0 1645.0,350.0 1650.0,440.0 1654.0,340.0 1658.0,314.0 1663.0,312.0 1665.0,334.0 1668.0,322.0 1672.0,346.0 1676.0,406.0 1680.0,378.0 1684.0,334.0 1688.0,322.0 1693.0,330.0 1695.0,484.0 1699.6,367.0 1702.7,438.0 1705.8,355.0 1709.0,484.0 1712.0,423.0 1715.0,490.0 1718.0,478.0 1721.0,503.0 1724.0,423.0 1727.4,367.0 1730.5,497.0 1733.6,469.0" fill="none" stroke="#f8f8f8" stroke-width="2.0" stroke-linejoin="miter" stroke-miterlimit="3"/>
<polyline points="3.2,471.4 4.4,467.8 7.4,473.4 10.0,470.2 13.1,475.6 14.6,470.4 18.9,455.8 19.5,410.8 19.8,476.1 24.0,482.7 47.7,482.6" fill="none" stroke="#f8f8f8" stroke-width="2.0" stroke-linejoin="miter" stroke-miterlimit="3"/>
<polyline points="102.1,440.8 105.2,418.7 108.8,374.0 109.3,377.5 112.7,430.4 117.4,307.7 117.7,313.8 119.2,399.2 123.0,459.1 126.8,420.4 126.9,413.5 129.6,455.9 135.1,426.8 135.2,376.0 136.9,464.0 140.5,468.9 143.9,467.9 148.2,486.2 151.5,473.8 155.7,483.5 158.1,433.6 160.6,464.2 165.1,375.8 169.5,456.1 176.0,450.2 179.6,355.1 182.5,413.1 185.3,382.7 189.6,445.6 194.9,347.4 198.3,370.2 201.1,369.6 205.1,397.7 208.4,364.4 211.2,363.3 214.5,349.2 216.4,381.5 221.5,476.1 222.8,468.1 225.5,471.9 229.8,481.4 233.8,471.2 236.9,464.7 240.7,413.4 243.7,472.2 246.7,476.9 250.9,479.4 255.9,410.7 258.2,407.0 260.0,520.9 261.8,520.8" fill="none" stroke="#f8f8f8" stroke-width="2.0" stroke-linejoin="miter" stroke-miterlimit="3"/>
<polyline points="1731.4,454.0 1734.0,481.9 1738.6,452.9 1738.8,409.4 1741.3,408.8 1743.5,415.3 1745.6,454.8 1750.5,407.0 1751.3,406.6 1753.4,460.7 1756.3,408.5 1757.0,457.6 1761.3,515.0 1763.2,374.5 1767.0,374.0 1769.7,478.6 1772.0,411.1 1774.8,413.5 1775.6,418.1" fill="none" stroke="#f8f8f8" stroke-width="2.0" stroke-linejoin="miter" stroke-miterlimit="3"/>
<polyline points="1792.2,461.5 1800.4,464.8 1803.0,367.9 1802.6,314.1 1806.5,316.9 1808.1,403.1 1812.7,483.8 1817.9,369.9 1818.0,350.6 1821.3,361.0 1823.6,349.6 1825.1,368.1 1828.7,427.4 1832.1,427.7 1834.6,316.4 1838.7,316.1 1839.1,452.8 1842.7,471.2" fill="none" stroke="#f8f8f8" stroke-width="2.0" stroke-linejoin="miter" stroke-miterlimit="3"/>
<polyline points="263.2,520.6 267.5,471.3 268.6,433.8 271.8,402.8 273.6,371.4 276.7,365.9 280.5,374.4 283.9,460.8 286.1,415.3 292.4,412.7 294.6,422.0 300.9,439.7 306.3,311.8 307.5,400.2 313.6,389.7 315.8,318.8 320.5,409.5 323.9,400.7 326.0,414.9 329.6,464.2 336.3,465.6 341.0,419.7 344.0,381.7 344.5,317.3 347.8,308.6 350.2,413.7 356.4,465.8 358.9,373.6 361.4,379.4 365.9,467.8 370.4,355.7 373.8,457.6 380.2,391.9 381.8,373.9 384.7,475.9 388.7,479.7 394.1,478.7 397.8,410.1 400.7,408.7 402.8,470.1 408.4,479.6 410.7,488.5" fill="none" stroke="#f8f8f8" stroke-width="2.0" stroke-linejoin="miter" stroke-miterlimit="3"/>
<polyline points="410.7,475.6 416.9,477.9 420.2,473.6 423.4,443.9 425.7,334.5 426.3,276.3 426.5,333.2 428.8,451.8 430.5,472.8 435.1,507.0 437.8,467.3 441.4,484.7 446.3,447.3 447.3,403.1 450.1,480.6 453.1,316.0 456.4,440.9 458.9,375.7 461.7,471.1 464.3,469.1 467.3,462.4 469.9,471.9 474.3,475.7 479.7,447.5 484.3,372.9 484.3,211.5 486.9,208.9 487.6,294.9 492.3,431.4 494.2,380.5 499.1,372.2 503.5,407.9 508.5,414.2 513.7,376.9 517.5,465.9 523.7,454.3 527.9,331.8 527.6,273.0 528.2,412.5 532.5,477.7 535.9,347.8 536.1,346.4 541.1,449.5 544.6,487.8 550.0,464.6 551.7,333.6 553.5,243.6 557.5,164.3 561.2,112.9 564.3,106.0 565.1,106.8 565.8,108.3 567.1,147.0 568.2,178.1 569.6,202.4 570.0,242.4 572.6,279.3 574.4,305.5 578.6,308.5" fill="none" stroke="#f8f8f8" stroke-width="2.0" stroke-linejoin="miter" stroke-miterlimit="3"/>
<polyline points="578.7,321.2 578.7,479.3 584.3,477.9 587.2,371.2 588.2,378.3 594.2,463.7 595.6,412.6 600.2,467.8 602.6,376.7 606.9,481.7 613.0,423.4 614.8,353.3 618.6,476.3 622.1,380.8 625.9,462.8 632.3,407.1 633.1,355.1 635.9,466.4 639.5,467.7 647.5,459.2 650.0,413.2 652.0,410.6 658.4,464.8 659.9,415.3 664.6,428.8 668.7,312.1 670.6,452.2 675.7,471.3 678.8,312.8 680.4,371.0 686.0,463.4 692.9,406.2 694.4,409.6 698.2,466.1 702.4,470.3 704.2,474.7 710.5,463.7 709.7,412.1 710.0,407.2 712.6,475.4" fill="none" stroke="#f8f8f8" stroke-width="2.0" stroke-linejoin="miter" stroke-miterlimit="3"/>
<polyline points="747.5,512.9 752.0,482.2 753.6,374.3 756.1,372.4 758.7,475.0 762.4,475.7 764.9,477.9 767.5,413.8 769.2,404.4 770.5,468.5" fill="none" stroke="#f8f8f8" stroke-width="2.0" stroke-linejoin="miter" stroke-miterlimit="3"/>
<polyline points="781.5,499.3 786.0,443.1 787.6,300.6 790.2,205.4 791.6,170.6 793.6,149.5 793.6,149.0 794.6,151.5 795.1,251.8 797.5,350.2 797.8,471.1 801.0,478.4 806.0,300.5 805.0,44.5 806.4,49.5 807.3,305.1 809.8,470.1 813.1,478.9 818.4,252.3 818.9,14.6 821.4,12.5 821.3,205.0 824.3,466.7 828.7,300.5 826.3,35.1 827.1,31.6 827.1,381.5 831.1,464.6 834.6,401.5 834.5,353.9 835.4,381.2 837.1,408.2 841.8,440.5 846.8,398.5 847.2,381.3 850.1,442.6 853.3,418.1 855.5,461.9 858.2,408.1 861.3,475.6 862.6,473.7 864.7,490.4 869.5,487.6 870.6,479.7 873.3,470.6 874.6,290.2 878.5,182.8 884.5,125.9 886.4,103.1 887.0,101.6 889.7,133.0 892.6,185.5 892.6,237.2 893.3,303.2 895.7,374.3 898.2,407.6 902.8,426.7 907.0,421.4 910.9,456.6" fill="none" stroke="#f8f8f8" stroke-width="2.0" stroke-linejoin="miter" stroke-miterlimit="3"/>
<polyline points="906.4,420.4 909.5,457.2 911.6,415.2 914.9,466.9 918.5,415.4 919.9,430.2 924.4,476.9 927.7,481.7 931.7,475.7 934.9,410.9 935.4,414.5 938.4,484.1 944.3,487.9 950.4,487.1 954.7,408.4 958.0,414.8 960.3,410.2 965.2,418.6 967.7,373.3 970.8,466.8 974.4,415.8 977.3,477.7 979.5,425.6 984.1,441.1 988.1,415.1 989.5,417.2 991.9,423.9 995.2,406.3 999.5,440.4 1002.4,374.7 1005.2,402.2 1010.7,385.2 1012.1,349.5 1014.0,442.1 1016.6,417.0 1019.9,462.5 1024.3,375.1 1024.5,406.3 1029.8,467.6 1033.6,412.0 1038.2,458.5 1042.4,417.7 1045.3,478.1 1048.1,502.4 1052.3,479.3 1055.9,471.4 1058.0,377.8 1059.5,476.4 1062.7,413.7 1066.4,457.9 1072.4,415.5 1073.6,409.7 1077.1,430.1" fill="none" stroke="#f8f8f8" stroke-width="2.0" stroke-linejoin="miter" stroke-miterlimit="3"/>
<polyline points="1065.9,412.0 1069.7,479.8 1072.8,417.1 1076.4,441.7 1081.4,407.0 1081.7,410.4 1083.1,478.4" fill="none" stroke="#f8f8f8" stroke-width="2.0" stroke-linejoin="miter" stroke-miterlimit="3"/>
<polyline points="1169.8,371.0 1174.1,370.4 1176.0,342.0 1176.5,367.4 1178.9,480.2 1185.7,481.8 1189.6,411.2 1191.9,413.4 1195.7,471.1 1200.1,379.2 1204.2,372.1 1210.2,340.4 1213.9,280.0 1212.9,276.7 1213.4,293.9 1215.0,423.4 1218.7,475.0 1223.7,474.6 1229.6,406.9 1232.4,314.9 1233.9,315.7 1236.3,402.4" fill="none" stroke="#f8f8f8" stroke-width="2.0" stroke-linejoin="miter" stroke-miterlimit="3"/>
<polyline points="1236.2,402.8 1239.9,375.5 1242.9,353.8 1242.3,279.7 1242.3,300.4 1244.7,352.2 1249.2,430.1 1251.9,375.6 1254.9,477.3 1261.4,346.7 1263.2,349.6 1267.5,397.0 1270.6,357.6 1274.2,390.6 1278.7,301.8 1280.9,187.4 1283.4,189.4 1284.4,272.3 1286.0,303.0 1288.1,402.7 1289.8,327.1 1292.0,347.1 1293.9,335.4 1295.0,373.4 1295.4,454.4 1300.0,466.6 1305.3,471.9 1306.4,373.7 1307.5,466.6 1312.5,482.9 1319.0,406.6 1318.8,375.1 1322.9,404.7 1328.6,333.1 1331.0,277.5 1331.7,432.7 1335.8,458.5 1339.2,349.7 1341.6,341.0 1345.3,317.7 1346.9,372.6 1351.1,431.4 1353.5,407.5 1357.3,438.1 1362.8,372.5 1364.4,376.8 1367.5,460.3 1373.8,374.5 1374.3,372.0 1376.5,408.5 1378.8,336.0 1380.6,208.5 1382.4,152.4 1383.6,152.3 1386.5,168.0 1391.1,165.4 1395.8,126.4 1396.5,123.5 1398.7,128.0 1398.9,185.2 1404.4,186.4 1407.0,197.6 1408.6,331.1 1411.3,397.6" fill="none" stroke="#f8f8f8" stroke-width="2.0" stroke-linejoin="miter" stroke-miterlimit="3"/>
<polyline points="1382.3,328.2 1385.3,190.9 1386.0,164.9 1388.6,202.5 1395.1,138.9 1396.5,132.8 1397.4,203.5 1396.4,331.4 1397.0,417.6" fill="none" stroke="#f8f8f8" stroke-width="2.0" stroke-linejoin="miter" stroke-miterlimit="3"/>
<polyline points="1410.6,410.1 1411.1,408.9 1416.3,414.0 1421.3,404.5 1422.3,351.3 1423.8,346.3 1426.9,378.2 1430.5,349.4 1434.0,367.8 1439.9,349.9 1440.0,313.6 1444.4,330.3 1447.5,313.6 1449.7,327.8 1453.6,285.6 1453.2,280.1 1453.6,303.2 1456.4,375.5 1459.2,401.3 1460.5,410.8 1465.1,497.5 1468.0,408.5 1469.6,474.4 1473.6,476.1 1477.8,377.8 1480.2,479.7 1483.8,494.9 1486.1,496.8" fill="none" stroke="#f8f8f8" stroke-width="2.0" stroke-linejoin="miter" stroke-miterlimit="3"/>
<polyline points="2.0,462.0 4.0,463.0 7.0,469.0 9.0,474.0 12.0,464.0 14.0,469.0 16.0,453.0 18.4,402.0 20.5,476.0 23.6,481.0 47.0,482.0" fill="none" stroke="#f8f8f8" stroke-width="2.1" stroke-linejoin="miter" stroke-miterlimit="3"/>
<polyline points="67.3,305.0 68.4,305.0 70.0,492.0" fill="none" stroke="#f8f8f8" stroke-width="2.1" stroke-linejoin="miter" stroke-miterlimit="3"/>
<polyline points="101.5,440.0 102.5,415.0 105.0,374.0 108.6,371.0 111.3,428.5 113.5,306.0 116.5,305.0 118.8,398.0 121.5,459.0 123.9,415.0 126.2,406.0 129.0,459.0 131.7,425.0 134.0,371.0 137.4,462.0 140.8,464.0 144.2,466.0 147.6,486.0 151.0,462.0 154.4,483.0 156.8,428.5 159.5,466.0 164.6,370.7 168.0,459.0 172.4,449.0 178.2,343.6 181.6,415.0 184.0,374.0 188.4,449.0 193.5,336.8 196.9,374.0 200.3,364.0 203.7,398.0 207.0,357.0 210.4,364.0 213.8,342.0 217.2,381.0 220.0,476.0 222.3,462.0 225.7,466.0 229.1,483.0 232.5,462.0 236.0,466.0 239.3,408.0 242.7,476.0 246.1,466.0 249.5,479.0 254.6,401.3 257.3,401.3 259.7,520.0 260.8,523.0" fill="none" stroke="#f8f8f8" stroke-width="2.1" stroke-linejoin="miter" stroke-miterlimit="3"/>
<polyline points="1730.0,442.0 1733.0,480.0 1735.0,450.0 1738.0,401.0 1740.7,401.0 1743.0,413.0 1744.5,453.0 1747.5,404.0 1750.5,401.0 1752.0,460.0 1755.0,401.0 1757.0,453.0 1760.0,515.0 1762.0,367.0 1766.0,367.0 1768.5,478.0 1770.6,404.0 1773.7,404.0 1774.6,422.0" fill="none" stroke="#f8f8f8" stroke-width="2.1" stroke-linejoin="miter" stroke-miterlimit="3"/>
<polyline points="1791.0,464.0 1796.7,462.0 1799.3,364.0 1801.5,306.7 1805.2,306.7 1807.8,401.0 1811.5,482.6 1814.0,364.0 1817.0,342.0 1820.0,364.0 1822.6,338.0 1825.0,364.0 1828.0,427.0 1831.0,427.0 1833.7,306.7 1837.4,306.7 1839.0,449.0 1842.0,475.0" fill="none" stroke="#f8f8f8" stroke-width="2.1" stroke-linejoin="miter" stroke-miterlimit="3"/>
<polyline points="262.0,522.0 264.0,470.0 266.0,430.0 269.0,400.0 273.0,366.0 276.0,368.0 280.0,368.0 283.0,462.0 285.0,406.0 291.0,406.0 295.0,422.0 300.0,442.0 305.0,306.0 307.0,402.0 311.0,386.0 315.0,310.0 319.0,410.0 323.0,390.0 326.0,410.0 329.0,466.0 333.0,462.0 337.0,414.0 341.0,378.0 344.0,306.0 348.0,308.0 351.0,410.0 355.0,466.0 358.0,366.0 362.0,378.0 365.0,466.0 369.0,344.0 373.0,458.0 377.0,386.0 381.0,366.0 385.0,470.0 389.0,478.0 393.0,482.0 397.0,402.0 400.5,404.0 403.0,470.0 407.0,482.0 410.0,478.0" fill="none" stroke="#f8f8f8" stroke-width="2.1" stroke-linejoin="miter" stroke-miterlimit="3"/>
<polyline points="410.0,478.0 414.0,472.0 417.0,470.0 420.0,440.0 423.0,330.0 425.5,266.0 427.0,330.0 429.0,450.0 431.0,470.0 434.0,506.5 437.0,462.0 440.0,486.0 443.0,442.0 446.0,398.0 449.0,482.0 452.0,306.0 455.0,442.0 458.0,368.0 461.0,470.0 463.0,462.0 466.0,466.0 469.0,462.0 473.0,478.0 477.0,442.0 481.0,370.0 483.5,206.0 487.0,208.0 488.5,290.0 491.0,434.0 493.0,370.0 499.0,372.0 503.0,402.0 508.0,414.0 513.0,366.0 516.0,466.0 521.0,450.0 524.0,330.0 526.5,267.0 529.0,410.0 532.0,478.0 535.0,342.0 537.0,346.0 541.0,446.0 544.0,486.5 547.0,462.0 548.5,330.0 550.4,238.0 554.0,164.0 557.8,112.0 560.4,103.0 564.0,101.0 566.0,106.7 567.0,145.5 569.0,175.0 570.0,201.0 570.7,238.0 572.6,275.0 574.4,305.0 578.0,312.0" fill="none" stroke="#f8f8f8" stroke-width="2.1" stroke-linejoin="miter" stroke-miterlimit="3"/>
<polyline points="578.0,312.0 579.0,474.0 583.0,480.0 586.0,366.0 589.0,378.0 593.0,462.0 595.0,406.0 599.0,466.0 602.0,366.0 606.0,482.0 610.0,422.0 614.0,344.0 618.0,478.0 621.0,370.0 625.0,462.0 629.0,402.0 632.0,346.0 635.0,466.0 639.0,462.0 647.0,462.0 649.0,402.0 653.0,406.0 657.0,466.0 659.0,406.0 664.0,430.0 668.0,306.0 671.0,450.0 675.0,470.0 678.0,306.0 681.0,370.0 685.0,466.0 689.0,406.0 693.0,402.0 697.0,466.0 701.0,462.0 703.0,478.0 707.0,462.0 709.0,402.0 711.0,406.0 712.0,478.0" fill="none" stroke="#f8f8f8" stroke-width="2.1" stroke-linejoin="miter" stroke-miterlimit="3"/>
<polyline points="724.0,490.0 726.0,476.0 728.0,462.0" fill="none" stroke="#f8f8f8" stroke-width="2.1" stroke-linejoin="miter" stroke-miterlimit="3"/>
<polyline points="739.0,494.0 741.0,486.0 743.0,482.0" fill="none" stroke="#f8f8f8" stroke-width="2.1" stroke-linejoin="miter" stroke-miterlimit="3"/>
<polyline points="746.0,514.5 749.0,480.0 752.8,366.0 756.0,368.0 758.0,478.0 761.0,466.0 764.0,478.0 767.0,402.0 769.0,404.0 770.0,470.0" fill="none" stroke="#f8f8f8" stroke-width="2.1" stroke-linejoin="miter" stroke-miterlimit="3"/>
<polyline points="747.0,522.5 752.0,478.0 758.0,494.0 762.0,486.0 766.0,490.5" fill="none" stroke="#f8f8f8" stroke-width="2.1" stroke-linejoin="miter" stroke-miterlimit="3"/>
<polyline points="780.0,500.0 783.0,440.0 785.0,300.0 787.0,200.0 789.0,165.0 791.0,148.0 793.0,144.0 795.0,150.0 796.0,250.0 797.0,350.0 798.0,470.0 800.0,480.0 803.0,300.0 804.0,41.0 806.5,44.0 808.0,300.0 810.0,470.0 812.0,480.0 815.0,250.0 817.5,8.0 820.5,8.0 822.0,200.0 823.5,470.0 825.0,300.0 825.5,28.0 826.5,28.0 828.0,380.0 830.0,466.0 832.0,400.0 834.0,344.0 836.0,380.0 838.0,406.0 841.0,442.0 843.5,394.0 846.0,370.0 849.0,442.0 852.0,410.0 854.0,462.0 857.0,398.0 860.0,478.0 862.0,466.0 864.0,494.0 866.0,486.0 868.0,478.0 870.0,466.0 872.0,290.0 875.5,182.0 880.6,120.7 885.7,97.0 887.5,99.0 890.7,131.0 892.4,182.0 893.5,232.8 894.0,300.0 896.0,370.0 898.0,402.0 902.0,430.0 906.0,410.0 910.0,458.0" fill="none" stroke="#f8f8f8" stroke-width="2.1" stroke-linejoin="miter" stroke-miterlimit="3"/>
<polyline points="905.0,410.0 908.0,458.0 911.0,406.0 914.0,466.0 917.0,410.0 920.0,430.0 923.0,478.0 927.0,474.0 931.0,478.0 934.0,402.0 936.0,410.0 939.0,482.0 943.0,486.0 947.0,482.0 952.0,406.0 957.0,404.0 961.0,410.0 964.0,422.0 967.0,362.0 970.0,466.0 973.0,406.0 976.0,478.0 979.0,418.0 983.0,442.0 985.0,414.0 989.0,410.0 991.0,426.0 994.0,398.0 998.0,442.0 1001.0,364.0 1004.0,402.0 1007.0,382.0 1011.0,342.0 1013.0,442.0 1016.0,410.0 1019.0,466.0 1023.0,366.0 1025.0,402.0 1029.0,466.0 1033.0,402.0 1037.0,458.0 1041.0,406.0 1045.0,474.0 1047.0,502.0 1049.0,478.0 1053.0,466.0 1057.0,366.0 1059.0,478.0 1062.0,406.0 1065.0,458.0 1069.0,410.0 1073.0,402.0 1076.0,430.0" fill="none" stroke="#f8f8f8" stroke-width="2.1" stroke-linejoin="miter" stroke-miterlimit="3"/>
<polyline points="1065.0,402.0 1069.0,478.5 1072.0,410.0 1075.0,442.0 1078.0,406.0 1081.0,400.0 1082.0,482.0" fill="none" stroke="#f8f8f8" stroke-width="2.1" stroke-linejoin="miter" stroke-miterlimit="3"/>
<polyline points="1168.4,370.0 1171.0,366.0 1175.0,334.0 1177.0,362.0 1179.0,478.5 1185.0,480.0 1189.0,406.0 1192.0,410.0 1195.0,474.0 1199.0,370.0 1203.0,372.0 1207.0,340.0 1210.0,275.0 1211.5,269.5 1213.0,290.0 1215.0,422.0 1219.0,470.0 1223.0,478.0 1227.0,406.0 1229.0,314.0 1232.6,310.0 1235.0,402.0" fill="none" stroke="#f8f8f8" stroke-width="2.1" stroke-linejoin="miter" stroke-miterlimit="3"/>
<polyline points="1235.0,402.0 1236.0,370.0 1239.0,350.0 1241.7,274.0 1243.0,300.0 1245.0,350.0 1248.0,430.0 1251.0,370.0 1254.0,478.0 1258.0,346.0 1262.0,342.0 1266.0,398.0 1270.0,346.0 1273.0,390.0 1276.0,300.0 1280.0,182.0 1283.0,185.0 1285.0,270.0 1286.0,300.0 1287.0,402.0 1289.0,320.0 1291.0,346.0 1293.0,330.0 1295.0,372.0 1296.0,454.0 1299.0,470.0 1302.0,466.0 1305.0,366.0 1308.0,466.0 1312.0,482.0 1316.0,402.0 1318.0,370.0 1322.0,406.0 1326.0,330.0 1329.5,271.0 1332.0,430.0 1335.0,462.0 1338.0,338.0 1341.0,342.0 1344.0,310.0 1347.0,370.0 1350.0,430.0 1353.0,398.0 1356.0,442.0 1359.0,370.0 1363.0,366.0 1366.0,462.0 1370.0,370.0 1373.0,366.0 1375.0,410.0 1376.0,330.0 1377.7,206.0 1379.5,149.6 1383.0,146.0 1385.5,171.0 1388.0,165.0 1392.0,121.0 1396.0,119.5 1398.3,123.0 1399.7,181.6 1404.0,185.0 1408.0,192.0 1409.0,330.0 1410.0,400.0" fill="none" stroke="#f8f8f8" stroke-width="2.1" stroke-linejoin="miter" stroke-miterlimit="3"/>
<polyline points="1381.0,330.0 1382.0,190.0 1384.8,157.0 1388.0,206.0 1392.0,135.0 1395.5,128.0 1397.0,200.0 1396.5,330.0 1396.0,420.0" fill="none" stroke="#f8f8f8" stroke-width="2.1" stroke-linejoin="miter" stroke-miterlimit="3"/>
<polyline points="1410.0,400.0 1411.0,406.0 1415.0,418.0 1418.0,402.0 1421.0,342.0 1424.0,346.0 1426.0,382.0 1430.0,342.0 1433.0,370.0 1436.0,346.0 1439.0,306.0 1443.0,330.0 1446.0,302.0 1449.0,330.0 1451.0,280.0 1452.0,272.0 1454.0,300.0 1457.0,370.0 1459.0,398.0 1461.0,410.0 1464.0,498.5 1467.0,402.0 1469.0,478.0 1473.0,478.0 1477.0,366.0 1480.0,478.0 1483.0,494.5 1485.0,486.0" fill="none" stroke="#f8f8f8" stroke-width="2.1" stroke-linejoin="miter" stroke-miterlimit="3"/>
<polyline points="1505.0,486.0 1507.0,366.0 1511.0,368.0 1515.0,342.0 1518.5,340.0 1521.0,390.0 1524.0,450.0 1527.0,370.0 1531.0,306.0 1535.0,308.0 1538.5,370.0 1541.0,378.0 1544.0,364.0 1547.0,394.0 1550.0,372.0 1553.0,430.0 1555.5,490.0 1556.5,420.0 1556.8,300.0 1557.3,230.0 1562.0,153.5 1566.6,98.0 1571.2,67.0 1574.3,65.5 1577.4,76.3 1581.4,122.6 1585.0,91.7 1591.3,48.5 1596.0,39.3 1608.3,39.3 1609.8,91.7 1614.4,131.9 1619.0,159.6 1623.7,184.3 1625.9,230.0 1626.0,300.0 1626.0,462.4 1630.0,486.5 1632.0,410.0 1634.0,362.0 1638.0,344.0 1644.0,342.0 1648.0,390.0 1651.4,426.0 1654.0,330.0 1658.0,308.0 1663.4,306.0 1666.0,330.0 1669.0,308.0 1671.5,342.0 1674.0,370.0 1677.0,414.0 1680.0,366.0 1683.5,326.0 1686.0,314.0 1689.0,290.0 1692.0,314.0 1694.0,360.0 1695.0,342.0 1698.0,432.0 1701.0,484.0 1704.0,339.0 1707.3,339.0 1709.0,453.0 1712.0,407.0 1714.0,475.0 1716.6,472.0 1719.7,521.0 1722.8,423.0 1726.0,342.0 1727.4,355.0 1729.0,515.0 1732.0,447.0 1735.0,493.5 1738.0,401.0" fill="none" stroke="#f8f8f8" stroke-width="2.1" stroke-linejoin="miter" stroke-miterlimit="3"/>
<polyline points="101.8,496.0 106.9,493.0 110.3,496.0 116.0,472.6 118.8,493.0 125.6,489.6 132.4,493.0 139.1,494.7 145.9,496.4 149.3,489.6 156.1,496.4 159.5,493.0 162.9,484.5 168.0,499.8 173.1,489.6 179.9,493.0 186.7,489.6 191.8,476.0 196.9,489.6 203.7,491.3 210.4,486.2 215.5,493.0 220.6,489.6 224.0,506.6 229.1,493.0 234.2,496.4 241.0,493.0 249.5,496.4" fill="none" stroke="#f8f8f8" stroke-width="2.1" stroke-linejoin="miter" stroke-miterlimit="3"/>
<polyline points="1735.0,490.0 1738.0,475.0 1741.0,490.0 1744.0,503.0 1746.0,484.5 1750.5,475.0 1755.0,493.5 1760.0,509.0 1764.5,472.0 1769.0,484.5 1773.7,490.5" fill="none" stroke="#f8f8f8" stroke-width="2.1" stroke-linejoin="miter" stroke-miterlimit="3"/>
<polyline points="1789.0,497.0 1792.0,488.0 1795.0,492.0 1798.0,484.0 1801.0,482.0 1806.0,470.0 1809.6,482.6 1813.0,495.0 1818.0,495.0 1821.0,480.0 1826.0,486.0 1832.0,480.0 1836.0,470.0 1840.0,478.0 1843.0,470.0" fill="none" stroke="#f8f8f8" stroke-width="2.1" stroke-linejoin="miter" stroke-miterlimit="3"/>
<polyline points="269.0,450.0 273.0,422.0 277.0,410.0 283.0,506.5 289.0,474.0 293.0,470.0 297.0,486.5 303.0,484.5 307.0,486.5 313.0,488.5 319.0,484.5 325.0,478.0 329.0,490.5 333.0,498.5 339.0,492.5 345.0,486.5 349.0,494.5 355.0,490.5 361.0,494.5 367.0,490.5 375.0,496.5 383.0,490.5 391.0,492.5 395.0,514.5 401.0,490.5 407.0,494.5 409.0,506.0" fill="none" stroke="#f8f8f8" stroke-width="2.1" stroke-linejoin="miter" stroke-miterlimit="3"/>
<polyline points="409.0,506.0 413.0,490.0 417.0,470.0 421.0,442.0 426.0,450.0 430.0,476.0 433.0,498.5 439.0,494.5 445.0,478.5 449.0,498.5 453.0,494.5 457.0,498.5 461.0,490.5 465.0,498.5 471.0,474.4 475.0,478.5 479.0,470.5 485.0,482.5 489.0,486.5 495.0,484.5 501.0,486.5 505.0,494.5 509.0,488.5 513.0,490.5 517.0,492.5 521.0,488.5 525.0,494.5 529.0,508.5 533.0,488.5 537.0,490.5 541.0,486.5 545.0,494.5 548.0,482.0" fill="none" stroke="#f8f8f8" stroke-width="2.1" stroke-linejoin="miter" stroke-miterlimit="3"/>
<polyline points="577.0,478.0 581.0,488.5 587.0,486.5 593.0,482.5 599.0,490.5 605.0,486.5 609.0,498.5 613.0,496.5 617.0,494.5 621.0,500.5 625.0,482.5 631.0,490.5 637.0,496.5 641.0,490.5 647.0,488.5 653.0,492.5 659.0,496.5 665.0,490.5 671.0,496.5 677.0,492.5 681.0,496.5 687.0,488.5 693.0,494.5 699.0,482.5 704.0,490.5 707.0,478.5 711.0,474.5" fill="none" stroke="#f8f8f8" stroke-width="2.1" stroke-linejoin="miter" stroke-miterlimit="3"/>
<polyline points="790.0,490.0 796.0,486.5 800.0,490.5 804.0,478.5 808.0,472.5 812.0,494.5 816.0,488.5 820.0,498.5 824.0,498.5 828.0,486.5 832.0,490.5 838.0,486.5 842.0,490.5 846.0,482.5 850.0,490.5 856.0,486.5 860.0,494.5 862.0,500.5 868.0,486.5 872.0,482.5 878.0,486.0 884.0,490.0 890.0,486.0 896.0,490.0 902.0,484.0 908.0,490.0" fill="none" stroke="#f8f8f8" stroke-width="2.1" stroke-linejoin="miter" stroke-miterlimit="3"/>
<polyline points="905.0,492.5 911.0,490.5 917.0,494.5 923.0,488.5 929.0,494.5 935.0,492.5 939.0,498.5 943.0,492.5 949.0,488.5 953.0,494.5 957.0,490.5 963.0,482.5 967.0,488.5 973.0,490.5 977.0,494.5 983.0,492.5 989.0,490.5 995.0,494.5 1001.0,486.5 1007.0,490.5 1011.0,482.5 1015.0,490.5 1021.0,492.5 1027.0,494.5 1033.0,490.5 1039.0,486.5 1043.0,498.5 1047.0,490.5 1053.0,492.5 1059.0,494.5 1065.0,492.5 1071.0,494.5" fill="none" stroke="#f8f8f8" stroke-width="2.1" stroke-linejoin="miter" stroke-miterlimit="3"/>
<polyline points="1065.0,494.0 1069.0,498.0 1073.0,492.0 1077.0,496.0 1081.0,490.0" fill="none" stroke="#f8f8f8" stroke-width="2.1" stroke-linejoin="miter" stroke-miterlimit="3"/>
<polyline points="1168.4,506.5 1173.0,490.5 1179.0,494.5 1185.0,488.5 1189.0,490.5 1193.0,480.5 1197.0,490.5 1203.0,486.5 1207.0,494.5 1211.0,488.5 1215.0,496.5 1219.0,488.5 1223.0,492.5 1229.0,486.5 1235.0,490.5" fill="none" stroke="#f8f8f8" stroke-width="2.1" stroke-linejoin="miter" stroke-miterlimit="3"/>
<polyline points="1230.0,490.5 1236.0,486.5 1242.0,466.4 1246.0,490.5 1252.0,498.5 1256.0,502.5 1260.0,466.5 1264.0,486.5 1268.0,482.5 1273.0,486.5 1278.0,478.5 1282.0,466.5 1286.0,478.5 1290.0,486.5 1294.0,490.5 1300.0,490.5 1306.0,494.5 1310.0,490.5 1316.0,494.5 1320.0,486.5 1324.0,490.5 1330.0,486.5 1335.0,502.5 1340.0,478.5 1346.0,486.5 1352.0,486.5 1358.0,490.5 1364.0,498.5 1368.0,490.5 1374.0,466.0 1380.0,462.0 1386.0,466.0 1392.0,486.0" fill="none" stroke="#f8f8f8" stroke-width="2.1" stroke-linejoin="miter" stroke-miterlimit="3"/>
<polyline points="1395.0,494.5 1403.0,490.5 1411.0,486.5 1417.0,490.5 1421.0,478.5 1425.0,486.5 1429.0,488.5 1433.0,486.5 1435.0,490.5 1439.0,478.5 1442.0,454.0 1445.0,478.5 1449.0,486.5 1453.0,466.5 1457.0,478.5 1461.0,490.5" fill="none" stroke="#f8f8f8" stroke-width="2.1" stroke-linejoin="miter" stroke-miterlimit="3"/>
<polyline points="1505.0,486.5 1509.0,482.5 1513.0,478.5 1517.0,490.5 1521.0,474.5 1525.0,466.5 1529.0,430.0 1533.0,406.0 1537.0,434.0 1540.0,478.5 1544.0,486.5 1547.0,478.5 1551.0,462.5 1555.0,486.5" fill="none" stroke="#f8f8f8" stroke-width="2.1" stroke-linejoin="miter" stroke-miterlimit="3"/>
<polyline points="1626.0,478.0 1632.0,488.5 1636.0,484.5 1640.0,490.5 1646.0,486.5 1650.0,490.5 1654.0,462.4 1657.0,486.5 1660.0,410.0 1663.4,482.5 1666.0,454.5 1669.0,478.5 1672.0,490.5 1677.0,510.5 1680.0,486.5 1684.0,482.5 1688.0,486.5 1691.5,466.5 1694.0,486.5 1695.0,475.0 1699.6,490.5 1704.0,478.0 1709.0,496.7 1713.5,481.0 1718.0,472.0 1722.8,490.5 1726.0,506.0 1730.5,490.5 1735.0,475.0" fill="none" stroke="#f8f8f8" stroke-width="2.1" stroke-linejoin="miter" stroke-miterlimit="3"/>
<polyline points="1108.5,480.0 1109.0,505.0" fill="none" stroke="#f8f8f8" stroke-width="2" stroke-linejoin="miter" stroke-miterlimit="3"/>
<polyline points="1128.0,490.0 1131.5,506.0" fill="none" stroke="#f8f8f8" stroke-width="2" stroke-linejoin="miter" stroke-miterlimit="3"/>
<rect x="71" y="507" width="13.5" height="2" fill="#f4f4f4"/>
<rect x="71" y="521.5" width="13.5" height="2" fill="#f4f4f4"/>
<rect x="1776" y="480" width="8.5" height="2" fill="#f4f4f4"/>
<rect x="1776" y="490.7" width="8.5" height="2" fill="#f4f4f4"/>
<rect x="412.6" y="507.5" width="6.7999999999999545" height="2" fill="#f4f4f4"/>
<rect x="412.6" y="520.8" width="6.7999999999999545" height="2" fill="#f4f4f4"/>
<rect x="740" y="480.7" width="9" height="2" fill="#f4f4f4"/>
<rect x="740" y="489.5" width="9" height="2" fill="#f4f4f4"/>
<rect x="766" y="480.7" width="11" height="2" fill="#f4f4f4"/>
<rect x="766" y="489.5" width="11" height="2" fill="#f4f4f4"/>
<rect x="1121" y="480.7" width="10" height="2" fill="#f4f4f4"/>
<rect x="1121" y="489.5" width="10" height="2" fill="#f4f4f4"/>
<rect x="1136" y="400.5" width="7" height="2" fill="#f4f4f4"/>
<rect x="1136" y="424.5" width="7" height="2" fill="#f4f4f4"/>
<rect x="1108" y="485" width="3" height="2" fill="#f4f4f4"/>
<circle cx="1" cy="449" r="7.3" fill="rgba(176,196,222,0.5)" stroke="rgba(70,110,230,0.55)" stroke-width="1.4"/>
<circle cx="10.5" cy="483" r="7.3" fill="rgba(176,196,222,0.5)" stroke="rgba(70,110,230,0.55)" stroke-width="1.4"/>
<circle cx="9.2" cy="518.6" r="7.3" fill="rgba(176,196,222,0.5)" stroke="rgba(70,110,230,0.55)" stroke-width="1.4"/>
<circle cx="18.4" cy="547.5" r="7.3" fill="rgba(176,196,222,0.5)" stroke="rgba(70,110,230,0.55)" stroke-width="1.4"/>
<circle cx="196.2" cy="335" r="7.3" fill="rgba(176,196,222,0.5)" stroke="rgba(70,110,230,0.55)" stroke-width="1.4"/>
<circle cx="209.8" cy="358.9" r="7.3" fill="rgba(176,196,222,0.5)" stroke="rgba(70,110,230,0.55)" stroke-width="1.4"/>
<circle cx="216.6" cy="388.4" r="7.3" fill="rgba(176,196,222,0.5)" stroke="rgba(70,110,230,0.55)" stroke-width="1.4"/>
<circle cx="193.5" cy="456.3" r="7.3" fill="rgba(176,196,222,0.5)" stroke="rgba(70,110,230,0.55)" stroke-width="1.4"/>
<circle cx="194.5" cy="472.6" r="7.3" fill="rgba(176,196,222,0.5)" stroke="rgba(70,110,230,0.55)" stroke-width="1.4"/>
<circle cx="151" cy="499.8" r="7.3" fill="rgba(176,196,222,0.5)" stroke="rgba(70,110,230,0.55)" stroke-width="1.4"/>
<circle cx="258.7" cy="506.6" r="7.3" fill="rgba(176,196,222,0.5)" stroke="rgba(70,110,230,0.55)" stroke-width="1.4"/>
<circle cx="1689.1" cy="294" r="7.3" fill="rgba(176,196,222,0.5)" stroke="rgba(70,110,230,0.55)" stroke-width="1.4"/>
<circle cx="1692.3" cy="339" r="7.3" fill="rgba(176,196,222,0.5)" stroke="rgba(70,110,230,0.55)" stroke-width="1.4"/>
<circle cx="1722.4" cy="363.4" r="7.3" fill="rgba(176,196,222,0.5)" stroke="rgba(70,110,230,0.55)" stroke-width="1.4"/>
<circle cx="1712.4" cy="397.5" r="7.3" fill="rgba(176,196,222,0.5)" stroke="rgba(70,110,230,0.55)" stroke-width="1.4"/>
<circle cx="1720.4" cy="510.5" r="7.3" fill="rgba(176,196,222,0.5)" stroke="rgba(70,110,230,0.55)" stroke-width="1.4"/>
<circle cx="1801.6" cy="325.4" r="7.3" fill="rgba(176,196,222,0.5)" stroke="rgba(70,110,230,0.55)" stroke-width="1.4"/>
<circle cx="1824" cy="351.3" r="7.3" fill="rgba(176,196,222,0.5)" stroke="rgba(70,110,230,0.55)" stroke-width="1.4"/>
<circle cx="1837.4" cy="379.4" r="7.3" fill="rgba(176,196,222,0.5)" stroke="rgba(70,110,230,0.55)" stroke-width="1.4"/>
<circle cx="1836.1" cy="420.4" r="7.3" fill="rgba(176,196,222,0.5)" stroke="rgba(70,110,230,0.55)" stroke-width="1.4"/>
<circle cx="1792.9" cy="474.5" r="7.3" fill="rgba(176,196,222,0.5)" stroke="rgba(70,110,230,0.55)" stroke-width="1.4"/>
<circle cx="1792.9" cy="506.9" r="7.3" fill="rgba(176,196,222,0.5)" stroke="rgba(70,110,230,0.55)" stroke-width="1.4"/>
<circle cx="1840.4" cy="496" r="7.3" fill="rgba(176,196,222,0.5)" stroke="rgba(70,110,230,0.55)" stroke-width="1.4"/>
<circle cx="1723.8" cy="363.4" r="7.3" fill="rgba(176,196,222,0.5)" stroke="rgba(70,110,230,0.55)" stroke-width="1.4"/>
<circle cx="1712.1" cy="396.7" r="7.3" fill="rgba(176,196,222,0.5)" stroke="rgba(70,110,230,0.55)" stroke-width="1.4"/>
<circle cx="1738" cy="445" r="7.3" fill="rgba(176,196,222,0.5)" stroke="rgba(70,110,230,0.55)" stroke-width="1.4"/>
<circle cx="1732.4" cy="476.6" r="7.3" fill="rgba(176,196,222,0.5)" stroke="rgba(70,110,230,0.55)" stroke-width="1.4"/>
<circle cx="1738.9" cy="498.2" r="7.3" fill="rgba(176,196,222,0.5)" stroke="rgba(70,110,230,0.55)" stroke-width="1.4"/>
<circle cx="1719.4" cy="511.2" r="7.3" fill="rgba(176,196,222,0.5)" stroke="rgba(70,110,230,0.55)" stroke-width="1.4"/>
<circle cx="1761.8" cy="548" r="7.3" fill="rgba(176,196,222,0.5)" stroke="rgba(70,110,230,0.55)" stroke-width="1.4"/>
<circle cx="423" cy="293" r="7.3" fill="rgba(176,196,222,0.5)" stroke="rgba(70,110,230,0.55)" stroke-width="1.4"/>
<circle cx="427" cy="335" r="7.3" fill="rgba(176,196,222,0.5)" stroke="rgba(70,110,230,0.55)" stroke-width="1.4"/>
<circle cx="427" cy="349" r="7.3" fill="rgba(176,196,222,0.5)" stroke="rgba(70,110,230,0.55)" stroke-width="1.4"/>
<circle cx="427" cy="376.6" r="7.3" fill="rgba(176,196,222,0.5)" stroke="rgba(70,110,230,0.55)" stroke-width="1.4"/>
<circle cx="446.3" cy="432.3" r="7.3" fill="rgba(176,196,222,0.5)" stroke="rgba(70,110,230,0.55)" stroke-width="1.4"/>
<circle cx="445" cy="476.4" r="7.3" fill="rgba(176,196,222,0.5)" stroke="rgba(70,110,230,0.55)" stroke-width="1.4"/>
<circle cx="450.3" cy="504.5" r="7.3" fill="rgba(176,196,222,0.5)" stroke="rgba(70,110,230,0.55)" stroke-width="1.4"/>
<circle cx="448.5" cy="509" r="7.3" fill="rgba(176,196,222,0.5)" stroke="rgba(70,110,230,0.55)" stroke-width="1.4"/>
<circle cx="561.5" cy="116.7" r="7.3" fill="rgba(176,196,222,0.5)" stroke="rgba(70,110,230,0.55)" stroke-width="1.4"/>
<circle cx="566" cy="143.7" r="7.3" fill="rgba(176,196,222,0.5)" stroke="rgba(70,110,230,0.55)" stroke-width="1.4"/>
<circle cx="569" cy="160.4" r="7.3" fill="rgba(176,196,222,0.5)" stroke="rgba(70,110,230,0.55)" stroke-width="1.4"/>
<circle cx="569.6" cy="195.6" r="7.3" fill="rgba(176,196,222,0.5)" stroke="rgba(70,110,230,0.55)" stroke-width="1.4"/>
<circle cx="569.6" cy="236.3" r="7.3" fill="rgba(176,196,222,0.5)" stroke="rgba(70,110,230,0.55)" stroke-width="1.4"/>
<circle cx="552.2" cy="241.9" r="7.3" fill="rgba(176,196,222,0.5)" stroke="rgba(70,110,230,0.55)" stroke-width="1.4"/>
<circle cx="571.9" cy="303" r="7.3" fill="rgba(176,196,222,0.5)" stroke="rgba(70,110,230,0.55)" stroke-width="1.4"/>
<circle cx="578" cy="310.4" r="7.3" fill="rgba(176,196,222,0.5)" stroke="rgba(70,110,230,0.55)" stroke-width="1.4"/>
<circle cx="632" cy="347.3" r="7.3" fill="rgba(176,196,222,0.5)" stroke="rgba(70,110,230,0.55)" stroke-width="1.4"/>
<circle cx="632" cy="381.4" r="7.3" fill="rgba(176,196,222,0.5)" stroke="rgba(70,110,230,0.55)" stroke-width="1.4"/>
<circle cx="632" cy="419.5" r="7.3" fill="rgba(176,196,222,0.5)" stroke="rgba(70,110,230,0.55)" stroke-width="1.4"/>
<circle cx="634.3" cy="478.5" r="7.3" fill="rgba(176,196,222,0.5)" stroke="rgba(70,110,230,0.55)" stroke-width="1.4"/>
<circle cx="625" cy="486.5" r="7.3" fill="rgba(176,196,222,0.5)" stroke="rgba(70,110,230,0.55)" stroke-width="1.4"/>
<circle cx="644" cy="490.5" r="7.3" fill="rgba(176,196,222,0.5)" stroke="rgba(70,110,230,0.55)" stroke-width="1.4"/>
<circle cx="632" cy="510.5" r="7.3" fill="rgba(176,196,222,0.5)" stroke="rgba(70,110,230,0.55)" stroke-width="1.4"/>
<circle cx="819" cy="15.2" r="7.3" fill="rgba(176,196,222,0.5)" stroke="rgba(70,110,230,0.55)" stroke-width="1.4"/>
<circle cx="792.8" cy="158.8" r="7.3" fill="rgba(176,196,222,0.5)" stroke="rgba(70,110,230,0.55)" stroke-width="1.4"/>
<circle cx="793" cy="170" r="7.3" fill="rgba(176,196,222,0.5)" stroke="rgba(70,110,230,0.55)" stroke-width="1.4"/>
<circle cx="790.5" cy="181.5" r="7.3" fill="rgba(176,196,222,0.5)" stroke="rgba(70,110,230,0.55)" stroke-width="1.4"/>
<circle cx="793.6" cy="234" r="7.3" fill="rgba(176,196,222,0.5)" stroke="rgba(70,110,230,0.55)" stroke-width="1.4"/>
<circle cx="793.6" cy="261.5" r="7.3" fill="rgba(176,196,222,0.5)" stroke="rgba(70,110,230,0.55)" stroke-width="1.4"/>
<circle cx="816" cy="278.6" r="7.3" fill="rgba(176,196,222,0.5)" stroke="rgba(70,110,230,0.55)" stroke-width="1.4"/>
<circle cx="814.6" cy="308.8" r="7.3" fill="rgba(176,196,222,0.5)" stroke="rgba(70,110,230,0.55)" stroke-width="1.4"/>
<circle cx="812.6" cy="351.5" r="7.3" fill="rgba(176,196,222,0.5)" stroke="rgba(70,110,230,0.55)" stroke-width="1.4"/>
<circle cx="814.4" cy="367.4" r="7.3" fill="rgba(176,196,222,0.5)" stroke="rgba(70,110,230,0.55)" stroke-width="1.4"/>
<circle cx="816" cy="404.7" r="7.3" fill="rgba(176,196,222,0.5)" stroke="rgba(70,110,230,0.55)" stroke-width="1.4"/>
<circle cx="818" cy="465" r="7.3" fill="rgba(176,196,222,0.5)" stroke="rgba(70,110,230,0.55)" stroke-width="1.4"/>
<circle cx="816" cy="507.7" r="7.3" fill="rgba(176,196,222,0.5)" stroke="rgba(70,110,230,0.55)" stroke-width="1.4"/>
<circle cx="872.3" cy="343.3" r="7.3" fill="rgba(176,196,222,0.5)" stroke="rgba(70,110,230,0.55)" stroke-width="1.4"/>
<circle cx="885.7" cy="97.7" r="7.3" fill="rgba(176,196,222,0.5)" stroke="rgba(70,110,230,0.55)" stroke-width="1.4"/>
<circle cx="886.7" cy="120" r="7.3" fill="rgba(176,196,222,0.5)" stroke="rgba(70,110,230,0.55)" stroke-width="1.4"/>
<circle cx="890.7" cy="144.5" r="7.3" fill="rgba(176,196,222,0.5)" stroke="rgba(70,110,230,0.55)" stroke-width="1.4"/>
<circle cx="890.7" cy="157.4" r="7.3" fill="rgba(176,196,222,0.5)" stroke="rgba(70,110,230,0.55)" stroke-width="1.4"/>
<circle cx="877.8" cy="161.5" r="7.3" fill="rgba(176,196,222,0.5)" stroke="rgba(70,110,230,0.55)" stroke-width="1.4"/>
<circle cx="891.4" cy="205" r="7.3" fill="rgba(176,196,222,0.5)" stroke="rgba(70,110,230,0.55)" stroke-width="1.4"/>
<circle cx="891.4" cy="216.5" r="7.3" fill="rgba(176,196,222,0.5)" stroke="rgba(70,110,230,0.55)" stroke-width="1.4"/>
<circle cx="874.4" cy="243.7" r="7.3" fill="rgba(176,196,222,0.5)" stroke="rgba(70,110,230,0.55)" stroke-width="1.4"/>
<circle cx="891.4" cy="271.9" r="7.3" fill="rgba(176,196,222,0.5)" stroke="rgba(70,110,230,0.55)" stroke-width="1.4"/>
<circle cx="965" cy="316" r="7.3" fill="rgba(176,196,222,0.5)" stroke="rgba(70,110,230,0.55)" stroke-width="1.4"/>
<circle cx="1003.2" cy="384.2" r="7.3" fill="rgba(176,196,222,0.5)" stroke="rgba(70,110,230,0.55)" stroke-width="1.4"/>
<circle cx="998" cy="451.2" r="7.3" fill="rgba(176,196,222,0.5)" stroke="rgba(70,110,230,0.55)" stroke-width="1.4"/>
<circle cx="921" cy="479.3" r="7.3" fill="rgba(176,196,222,0.5)" stroke="rgba(70,110,230,0.55)" stroke-width="1.4"/>
<circle cx="1042.5" cy="479.3" r="7.3" fill="rgba(176,196,222,0.5)" stroke="rgba(70,110,230,0.55)" stroke-width="1.4"/>
<circle cx="1003.2" cy="502.5" r="7.3" fill="rgba(176,196,222,0.5)" stroke="rgba(70,110,230,0.55)" stroke-width="1.4"/>
<circle cx="1000.4" cy="524.6" r="7.3" fill="rgba(176,196,222,0.5)" stroke="rgba(70,110,230,0.55)" stroke-width="1.4"/>
<circle cx="1109.9" cy="361.4" r="7.3" fill="rgba(176,196,222,0.5)" stroke="rgba(70,110,230,0.55)" stroke-width="1.4"/>
<circle cx="1077.8" cy="420.3" r="7.3" fill="rgba(176,196,222,0.5)" stroke="rgba(70,110,230,0.55)" stroke-width="1.4"/>
<circle cx="1176.5" cy="398.3" r="7.3" fill="rgba(176,196,222,0.5)" stroke="rgba(70,110,230,0.55)" stroke-width="1.4"/>
<circle cx="1187.3" cy="493.7" r="7.3" fill="rgba(176,196,222,0.5)" stroke="rgba(70,110,230,0.55)" stroke-width="1.4"/>
<circle cx="1185.3" cy="512.5" r="7.3" fill="rgba(176,196,222,0.5)" stroke="rgba(70,110,230,0.55)" stroke-width="1.4"/>
<circle cx="1287.3" cy="326" r="7.3" fill="rgba(176,196,222,0.5)" stroke="rgba(70,110,230,0.55)" stroke-width="1.4"/>
<circle cx="1328.2" cy="359" r="7.3" fill="rgba(176,196,222,0.5)" stroke="rgba(70,110,230,0.55)" stroke-width="1.4"/>
<circle cx="1368.3" cy="388.2" r="7.3" fill="rgba(176,196,222,0.5)" stroke="rgba(70,110,230,0.55)" stroke-width="1.4"/>
<circle cx="1364.3" cy="458.4" r="7.3" fill="rgba(176,196,222,0.5)" stroke="rgba(70,110,230,0.55)" stroke-width="1.4"/>
<circle cx="1368.3" cy="468.4" r="7.3" fill="rgba(176,196,222,0.5)" stroke="rgba(70,110,230,0.55)" stroke-width="1.4"/>
<circle cx="1368.3" cy="492.5" r="7.3" fill="rgba(176,196,222,0.5)" stroke="rgba(70,110,230,0.55)" stroke-width="1.4"/>
<circle cx="1362.3" cy="518.5" r="7.3" fill="rgba(176,196,222,0.5)" stroke="rgba(70,110,230,0.55)" stroke-width="1.4"/>
<circle cx="1281.9" cy="197.2" r="7.3" fill="rgba(176,196,222,0.5)" stroke="rgba(70,110,230,0.55)" stroke-width="1.4"/>
<circle cx="1280.9" cy="210.5" r="7.3" fill="rgba(176,196,222,0.5)" stroke="rgba(70,110,230,0.55)" stroke-width="1.4"/>
<circle cx="1279.4" cy="242.6" r="7.3" fill="rgba(176,196,222,0.5)" stroke="rgba(70,110,230,0.55)" stroke-width="1.4"/>
<circle cx="1328.8" cy="269.1" r="7.3" fill="rgba(176,196,222,0.5)" stroke="rgba(70,110,230,0.55)" stroke-width="1.4"/>
<circle cx="1395.1" cy="134" r="7.3" fill="rgba(176,196,222,0.5)" stroke="rgba(70,110,230,0.55)" stroke-width="1.4"/>
<circle cx="1393.6" cy="147.8" r="7.3" fill="rgba(176,196,222,0.5)" stroke="rgba(70,110,230,0.55)" stroke-width="1.4"/>
<circle cx="1393" cy="163.3" r="7.3" fill="rgba(176,196,222,0.5)" stroke="rgba(70,110,230,0.55)" stroke-width="1.4"/>
<circle cx="1403.5" cy="204.3" r="7.3" fill="rgba(176,196,222,0.5)" stroke="rgba(70,110,230,0.55)" stroke-width="1.4"/>
<circle cx="1407.5" cy="214.8" r="7.3" fill="rgba(176,196,222,0.5)" stroke="rgba(70,110,230,0.55)" stroke-width="1.4"/>
<circle cx="1396.7" cy="245.7" r="7.3" fill="rgba(176,196,222,0.5)" stroke="rgba(70,110,230,0.55)" stroke-width="1.4"/>
<circle cx="1543.4" cy="294.8" r="7.3" fill="rgba(176,196,222,0.5)" stroke="rgba(70,110,230,0.55)" stroke-width="1.4"/>
<circle cx="1534.5" cy="336" r="7.3" fill="rgba(176,196,222,0.5)" stroke="rgba(70,110,230,0.55)" stroke-width="1.4"/>
<circle cx="1532.5" cy="359" r="7.3" fill="rgba(176,196,222,0.5)" stroke="rgba(70,110,230,0.55)" stroke-width="1.4"/>
<circle cx="1553.4" cy="372.2" r="7.3" fill="rgba(176,196,222,0.5)" stroke="rgba(70,110,230,0.55)" stroke-width="1.4"/>
<circle cx="1553.4" cy="439.2" r="7.3" fill="rgba(176,196,222,0.5)" stroke="rgba(70,110,230,0.55)" stroke-width="1.4"/>
<circle cx="1554.6" cy="476.4" r="7.3" fill="rgba(176,196,222,0.5)" stroke="rgba(70,110,230,0.55)" stroke-width="1.4"/>
<circle cx="1555.4" cy="494.5" r="7.3" fill="rgba(176,196,222,0.5)" stroke="rgba(70,110,230,0.55)" stroke-width="1.4"/>
<circle cx="1427.9" cy="511.3" r="7.3" fill="rgba(176,196,222,0.5)" stroke="rgba(70,110,230,0.55)" stroke-width="1.4"/>
<circle cx="1445" cy="543" r="7.3" fill="rgba(176,196,222,0.5)" stroke="rgba(70,110,230,0.55)" stroke-width="1.4"/>
<circle cx="1606.7" cy="61.25" r="7.3" fill="rgba(176,196,222,0.5)" stroke="rgba(70,110,230,0.55)" stroke-width="1.4"/>
<circle cx="1607.5" cy="80" r="7.3" fill="rgba(176,196,222,0.5)" stroke="rgba(70,110,230,0.55)" stroke-width="1.4"/>
<circle cx="1607.5" cy="94.6" r="7.3" fill="rgba(176,196,222,0.5)" stroke="rgba(70,110,230,0.55)" stroke-width="1.4"/>
<circle cx="1608.3" cy="119.6" r="7.3" fill="rgba(176,196,222,0.5)" stroke="rgba(70,110,230,0.55)" stroke-width="1.4"/>
<circle cx="1613.75" cy="136.25" r="7.3" fill="rgba(176,196,222,0.5)" stroke="rgba(70,110,230,0.55)" stroke-width="1.4"/>
<circle cx="1616.7" cy="159.2" r="7.3" fill="rgba(176,196,222,0.5)" stroke="rgba(70,110,230,0.55)" stroke-width="1.4"/>
<circle cx="1620.8" cy="175.8" r="7.3" fill="rgba(176,196,222,0.5)" stroke="rgba(70,110,230,0.55)" stroke-width="1.4"/>
<circle cx="1620" cy="192.5" r="7.3" fill="rgba(176,196,222,0.5)" stroke="rgba(70,110,230,0.55)" stroke-width="1.4"/>
<circle cx="1559.6" cy="207" r="7.3" fill="rgba(176,196,222,0.5)" stroke="rgba(70,110,230,0.55)" stroke-width="1.4"/>
<circle cx="1620" cy="266.7" r="7.3" fill="rgba(176,196,222,0.5)" stroke="rgba(70,110,230,0.55)" stroke-width="1.4"/>
<path d="M2.5,604 V4.5 H1843.5" fill="none" stroke="#18222a" stroke-width="1"/>
<rect x="1842" y="4" width="2" height="600" fill="#1d272d"/>
<rect x="2" y="604" width="1844" height="2" fill="#80868b"/>
<rect x="112.55" y="605" width="1.6" height="10" fill="#74797e"/>
<text x="113.80" y="0" text-anchor="middle" class="lb" word-spacing="-1" transform="translate(0,634.6) scale(1,1.08)">3:00 AM</text>
<rect x="266.90" y="605" width="1.6" height="10" fill="#74797e"/>
<text x="268.15" y="0" text-anchor="middle" class="lb" word-spacing="-1" transform="translate(0,634.6) scale(1,1.08)">4:00 AM</text>
<rect x="421.25" y="605" width="1.6" height="10" fill="#74797e"/>
<text x="422.50" y="0" text-anchor="middle" class="lb" word-spacing="-1" transform="translate(0,634.6) scale(1,1.08)">5:00 AM</text>
<rect x="573.45" y="605" width="1.6" height="10" fill="#74797e"/>
<text x="574.70" y="0" text-anchor="middle" class="lb" word-spacing="-1" transform="translate(0,634.6) scale(1,1.08)">6:00 AM</text>
<rect x="727.85" y="605" width="1.6" height="10" fill="#74797e"/>
<text x="729.10" y="0" text-anchor="middle" class="lb" word-spacing="-1" transform="translate(0,634.6) scale(1,1.08)">7:00 AM</text>
<rect x="880.25" y="605" width="1.6" height="10" fill="#74797e"/>
<text x="881.50" y="0" text-anchor="middle" class="lb" word-spacing="-1" transform="translate(0,634.6) scale(1,1.08)">8:00 AM</text>
<rect x="1034.35" y="605" width="1.6" height="10" fill="#74797e"/>
<text x="1035.60" y="0" text-anchor="middle" class="lb" word-spacing="-1" transform="translate(0,634.6) scale(1,1.08)">9:00 AM</text>
<rect x="1186.85" y="605" width="1.6" height="10" fill="#74797e"/>
<text x="1188.10" y="0" text-anchor="middle" class="lb" word-spacing="-1" transform="translate(0,634.6) scale(1,1.08)">10:00 AM</text>
<rect x="1341.25" y="605" width="1.6" height="10" fill="#74797e"/>
<text x="1342.50" y="0" text-anchor="middle" class="lb" word-spacing="-1" transform="translate(0,634.6) scale(1,1.08)">11:00 AM</text>
<rect x="1495.35" y="605" width="1.6" height="10" fill="#74797e"/>
<text x="1496.60" y="0" text-anchor="middle" class="lb" word-spacing="-1" transform="translate(0,634.6) scale(1,1.08)">12:00 PM</text>
<rect x="1647.95" y="605" width="1.6" height="10" fill="#74797e"/>
<text x="1649.20" y="0" text-anchor="middle" class="lb" word-spacing="-1" transform="translate(0,634.6) scale(1,1.08)">1:00 PM</text>
<rect x="1802.15" y="605" width="1.6" height="10" fill="#74797e"/>
<text x="1803.40" y="0" text-anchor="middle" class="lb" word-spacing="-1" transform="translate(0,634.6) scale(1,1.08)">2:00 PM</text>
<text x="1.6" y="0" class="lb" transform="translate(0,634.6) scale(1,1.08)">UTC-8</text>
<text x="1859.1" y="0" class="lb" transform="translate(0,106.4) scale(1,1.08)">5min</text>
<text x="1859.1" y="0" class="lb" transform="translate(0,203.5) scale(1,1.08)">100s</text>
<text x="1859.1" y="0" class="lb" transform="translate(0,309.9) scale(1,1.08)">30s</text>
<text x="1859.1" y="0" class="lb" transform="translate(0,407.0) scale(1,1.08)">10s</text>
<text x="1859.1" y="0" class="lb" transform="translate(0,513.4) scale(1,1.08)">3s</text>
<text x="1859.1" y="0" class="lb" transform="translate(0,609.8) scale(1,1.08)">1s</text>
</svg>
</body></html>
